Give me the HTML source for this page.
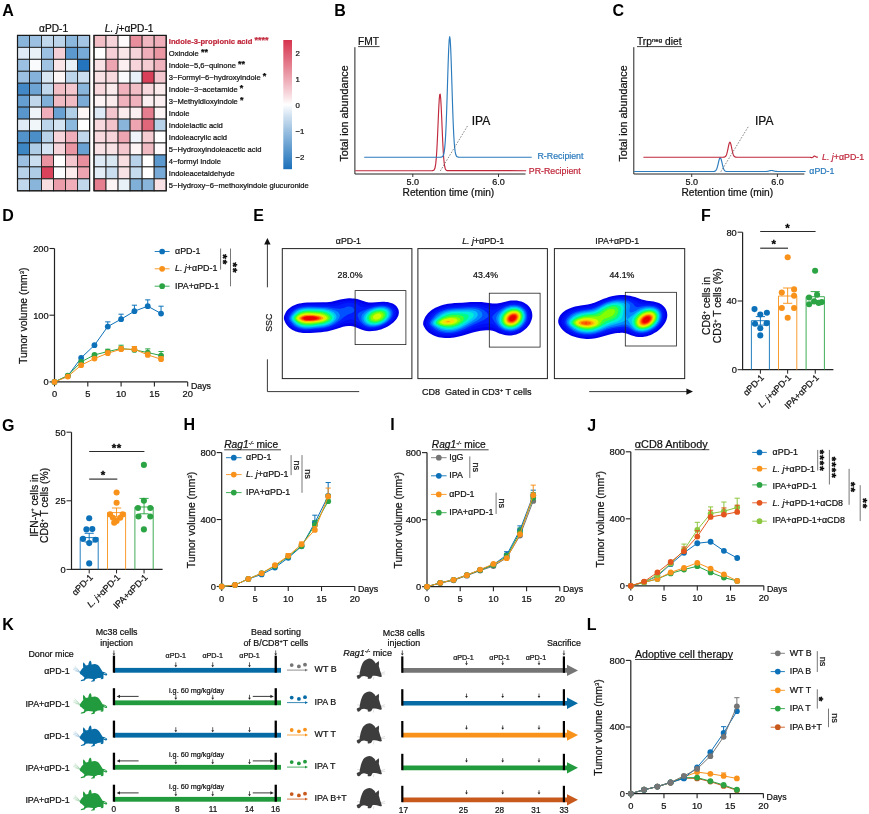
<!DOCTYPE html>
<html lang="en"><head><meta charset="utf-8"><title>Figure</title>
<style>
html,body{margin:0;padding:0;background:#fff;}
body{width:869px;height:814px;overflow:hidden;}
svg{display:block;font-family:"Liberation Sans", sans-serif;fill:#111111;will-change:transform;}
svg text{white-space:pre;}
</style></head><body>
<svg width="869" height="814" viewBox="0 0 869 814">
<rect width="869" height="814" fill="#fff"/>
<text x="2.30" y="16.00" font-size="16" fill="#000" font-weight="bold">A</text>
<g stroke="#1e1e1e" stroke-width="0.9">
<rect x="17.50" y="35.40" width="12.02" height="11.95" fill="#89b5db"/>
<rect x="29.52" y="35.40" width="12.02" height="11.95" fill="#9bc0e1"/>
<rect x="41.53" y="35.40" width="12.02" height="11.95" fill="#c1d8ec"/>
<rect x="53.55" y="35.40" width="12.02" height="11.95" fill="#bcd5eb"/>
<rect x="65.57" y="35.40" width="12.02" height="11.95" fill="#8db8dd"/>
<rect x="77.58" y="35.40" width="12.02" height="11.95" fill="#a4c6e4"/>
<rect x="17.50" y="47.35" width="12.02" height="11.95" fill="#deeaf5"/>
<rect x="29.52" y="47.35" width="12.02" height="11.95" fill="#e8f1f8"/>
<rect x="41.53" y="47.35" width="12.02" height="11.95" fill="#9bc0e1"/>
<rect x="53.55" y="47.35" width="12.02" height="11.95" fill="#f5d0d6"/>
<rect x="65.57" y="47.35" width="12.02" height="11.95" fill="#5c99ce"/>
<rect x="77.58" y="47.35" width="12.02" height="11.95" fill="#77aad6"/>
<rect x="17.50" y="59.31" width="12.02" height="11.95" fill="#9bc0e1"/>
<rect x="29.52" y="59.31" width="12.02" height="11.95" fill="#f9fbfd"/>
<rect x="41.53" y="59.31" width="12.02" height="11.95" fill="#a0c3e2"/>
<rect x="53.55" y="59.31" width="12.02" height="11.95" fill="#fae6e9"/>
<rect x="65.57" y="59.31" width="12.02" height="11.95" fill="#e8f1f8"/>
<rect x="77.58" y="59.31" width="12.02" height="11.95" fill="#2475bd"/>
<rect x="17.50" y="71.26" width="12.02" height="11.95" fill="#9bc0e1"/>
<rect x="29.52" y="71.26" width="12.02" height="11.95" fill="#84b2da"/>
<rect x="41.53" y="71.26" width="12.02" height="11.95" fill="#d9e7f3"/>
<rect x="53.55" y="71.26" width="12.02" height="11.95" fill="#fdf6f7"/>
<rect x="65.57" y="71.26" width="12.02" height="11.95" fill="#bcd5eb"/>
<rect x="77.58" y="71.26" width="12.02" height="11.95" fill="#cadeef"/>
<rect x="17.50" y="83.22" width="12.02" height="11.95" fill="#4288c6"/>
<rect x="29.52" y="83.22" width="12.02" height="11.95" fill="#6ea4d3"/>
<rect x="41.53" y="83.22" width="12.02" height="11.95" fill="#c1d8ec"/>
<rect x="53.55" y="83.22" width="12.02" height="11.95" fill="#f2bfc7"/>
<rect x="65.57" y="83.22" width="12.02" height="11.95" fill="#f4c7ce"/>
<rect x="77.58" y="83.22" width="12.02" height="11.95" fill="#89b5db"/>
<rect x="17.50" y="95.17" width="12.02" height="11.95" fill="#659ed0"/>
<rect x="29.52" y="95.17" width="12.02" height="11.95" fill="#c1d8ec"/>
<rect x="41.53" y="95.17" width="12.02" height="11.95" fill="#80afd8"/>
<rect x="53.55" y="95.17" width="12.02" height="11.95" fill="#f1bbc3"/>
<rect x="65.57" y="95.17" width="12.02" height="11.95" fill="#f1bbc3"/>
<rect x="77.58" y="95.17" width="12.02" height="11.95" fill="#7bacd7"/>
<rect x="17.50" y="107.12" width="12.02" height="11.95" fill="#5896cc"/>
<rect x="29.52" y="107.12" width="12.02" height="11.95" fill="#eef4fa"/>
<rect x="41.53" y="107.12" width="12.02" height="11.95" fill="#efaeb9"/>
<rect x="53.55" y="107.12" width="12.02" height="11.95" fill="#69a1d2"/>
<rect x="65.57" y="107.12" width="12.02" height="11.95" fill="#b2cfe8"/>
<rect x="77.58" y="107.12" width="12.02" height="11.95" fill="#fdf6f7"/>
<rect x="17.50" y="119.08" width="12.02" height="11.95" fill="#deeaf5"/>
<rect x="29.52" y="119.08" width="12.02" height="11.95" fill="#f1f6fb"/>
<rect x="41.53" y="119.08" width="12.02" height="11.95" fill="#bcd5eb"/>
<rect x="53.55" y="119.08" width="12.02" height="11.95" fill="#d4e4f2"/>
<rect x="65.57" y="119.08" width="12.02" height="11.95" fill="#8db8dd"/>
<rect x="77.58" y="119.08" width="12.02" height="11.95" fill="#ffffff"/>
<rect x="17.50" y="131.03" width="12.02" height="11.95" fill="#5393cb"/>
<rect x="29.52" y="131.03" width="12.02" height="11.95" fill="#4b8ec8"/>
<rect x="41.53" y="131.03" width="12.02" height="11.95" fill="#b7d2e9"/>
<rect x="53.55" y="131.03" width="12.02" height="11.95" fill="#f6d4da"/>
<rect x="65.57" y="131.03" width="12.02" height="11.95" fill="#efaeb9"/>
<rect x="77.58" y="131.03" width="12.02" height="11.95" fill="#c1d8ec"/>
<rect x="17.50" y="142.98" width="12.02" height="11.95" fill="#3d86c4"/>
<rect x="29.52" y="142.98" width="12.02" height="11.95" fill="#aecce6"/>
<rect x="41.53" y="142.98" width="12.02" height="11.95" fill="#d4e4f2"/>
<rect x="53.55" y="142.98" width="12.02" height="11.95" fill="#f6d4da"/>
<rect x="65.57" y="142.98" width="12.02" height="11.95" fill="#ea96a3"/>
<rect x="77.58" y="142.98" width="12.02" height="11.95" fill="#69a1d2"/>
<rect x="17.50" y="154.94" width="12.02" height="11.95" fill="#9bc0e1"/>
<rect x="29.52" y="154.94" width="12.02" height="11.95" fill="#cadeef"/>
<rect x="41.53" y="154.94" width="12.02" height="11.95" fill="#e992a0"/>
<rect x="53.55" y="154.94" width="12.02" height="11.95" fill="#ffffff"/>
<rect x="65.57" y="154.94" width="12.02" height="11.95" fill="#f4c7ce"/>
<rect x="77.58" y="154.94" width="12.02" height="11.95" fill="#e88e9c"/>
<rect x="17.50" y="166.89" width="12.02" height="11.95" fill="#b7d2e9"/>
<rect x="29.52" y="166.89" width="12.02" height="11.95" fill="#aecce6"/>
<rect x="41.53" y="166.89" width="12.02" height="11.95" fill="#d9435b"/>
<rect x="53.55" y="166.89" width="12.02" height="11.95" fill="#f9fbfd"/>
<rect x="65.57" y="166.89" width="12.02" height="11.95" fill="#fbebed"/>
<rect x="77.58" y="166.89" width="12.02" height="11.95" fill="#eda6b1"/>
<rect x="17.50" y="178.85" width="12.02" height="11.95" fill="#c1d8ec"/>
<rect x="29.52" y="178.85" width="12.02" height="11.95" fill="#89b5db"/>
<rect x="41.53" y="178.85" width="12.02" height="11.95" fill="#f8dde1"/>
<rect x="53.55" y="178.85" width="12.02" height="11.95" fill="#eb9eaa"/>
<rect x="65.57" y="178.85" width="12.02" height="11.95" fill="#efaeb9"/>
<rect x="77.58" y="178.85" width="12.02" height="11.95" fill="#c1d8ec"/>
</g>
<rect x="17.50" y="35.40" width="72.10" height="155.40" fill="none" stroke="#1a1a1a" stroke-width="1.2" />
<g stroke="#1e1e1e" stroke-width="0.9">
<rect x="94.00" y="35.40" width="12.03" height="11.95" fill="#f2bfc7"/>
<rect x="106.03" y="35.40" width="12.03" height="11.95" fill="#f6d4da"/>
<rect x="118.07" y="35.40" width="12.03" height="11.95" fill="#fef9fa"/>
<rect x="130.10" y="35.40" width="12.03" height="11.95" fill="#e88e9c"/>
<rect x="142.13" y="35.40" width="12.03" height="11.95" fill="#f0b7c0"/>
<rect x="154.17" y="35.40" width="12.03" height="11.95" fill="#efaeb9"/>
<rect x="94.00" y="47.35" width="12.03" height="11.95" fill="#ffffff"/>
<rect x="106.03" y="47.35" width="12.03" height="11.95" fill="#f5d0d6"/>
<rect x="118.07" y="47.35" width="12.03" height="11.95" fill="#fae6e9"/>
<rect x="130.10" y="47.35" width="12.03" height="11.95" fill="#f6d4da"/>
<rect x="142.13" y="47.35" width="12.03" height="11.95" fill="#efaeb9"/>
<rect x="154.17" y="47.35" width="12.03" height="11.95" fill="#ea96a3"/>
<rect x="94.00" y="59.31" width="12.03" height="11.95" fill="#f9e2e5"/>
<rect x="106.03" y="59.31" width="12.03" height="11.95" fill="#eda6b1"/>
<rect x="118.07" y="59.31" width="12.03" height="11.95" fill="#fceff1"/>
<rect x="130.10" y="59.31" width="12.03" height="11.95" fill="#f6d4da"/>
<rect x="142.13" y="59.31" width="12.03" height="11.95" fill="#f5ccd2"/>
<rect x="154.17" y="59.31" width="12.03" height="11.95" fill="#f0b2bc"/>
<rect x="94.00" y="71.26" width="12.03" height="11.95" fill="#f9e2e5"/>
<rect x="106.03" y="71.26" width="12.03" height="11.95" fill="#f7d9de"/>
<rect x="118.07" y="71.26" width="12.03" height="11.95" fill="#f9fbfd"/>
<rect x="130.10" y="71.26" width="12.03" height="11.95" fill="#e8f1f8"/>
<rect x="142.13" y="71.26" width="12.03" height="11.95" fill="#d83f58"/>
<rect x="154.17" y="71.26" width="12.03" height="11.95" fill="#f4c7ce"/>
<rect x="94.00" y="83.22" width="12.03" height="11.95" fill="#f7d9de"/>
<rect x="106.03" y="83.22" width="12.03" height="11.95" fill="#fbebed"/>
<rect x="118.07" y="83.22" width="12.03" height="11.95" fill="#f0b2bc"/>
<rect x="130.10" y="83.22" width="12.03" height="11.95" fill="#f2bfc7"/>
<rect x="142.13" y="83.22" width="12.03" height="11.95" fill="#f7d9de"/>
<rect x="154.17" y="83.22" width="12.03" height="11.95" fill="#fbebed"/>
<rect x="94.00" y="95.17" width="12.03" height="11.95" fill="#fdf4f6"/>
<rect x="106.03" y="95.17" width="12.03" height="11.95" fill="#fbebed"/>
<rect x="118.07" y="95.17" width="12.03" height="11.95" fill="#f0b2bc"/>
<rect x="130.10" y="95.17" width="12.03" height="11.95" fill="#f0b2bc"/>
<rect x="142.13" y="95.17" width="12.03" height="11.95" fill="#fceff1"/>
<rect x="154.17" y="95.17" width="12.03" height="11.95" fill="#fceff1"/>
<rect x="94.00" y="107.12" width="12.03" height="11.95" fill="#deeaf5"/>
<rect x="106.03" y="107.12" width="12.03" height="11.95" fill="#f4c7ce"/>
<rect x="118.07" y="107.12" width="12.03" height="11.95" fill="#fbebed"/>
<rect x="130.10" y="107.12" width="12.03" height="11.95" fill="#fceff1"/>
<rect x="142.13" y="107.12" width="12.03" height="11.95" fill="#e57e8e"/>
<rect x="154.17" y="107.12" width="12.03" height="11.95" fill="#fdf4f6"/>
<rect x="94.00" y="119.08" width="12.03" height="11.95" fill="#f7d9de"/>
<rect x="106.03" y="119.08" width="12.03" height="11.95" fill="#f3c3cb"/>
<rect x="118.07" y="119.08" width="12.03" height="11.95" fill="#89b5db"/>
<rect x="130.10" y="119.08" width="12.03" height="11.95" fill="#eda6b1"/>
<rect x="142.13" y="119.08" width="12.03" height="11.95" fill="#e0667a"/>
<rect x="154.17" y="119.08" width="12.03" height="11.95" fill="#b7d2e9"/>
<rect x="94.00" y="131.03" width="12.03" height="11.95" fill="#f7d9de"/>
<rect x="106.03" y="131.03" width="12.03" height="11.95" fill="#f6d4da"/>
<rect x="118.07" y="131.03" width="12.03" height="11.95" fill="#eda6b1"/>
<rect x="130.10" y="131.03" width="12.03" height="11.95" fill="#eef4fa"/>
<rect x="142.13" y="131.03" width="12.03" height="11.95" fill="#f5ccd2"/>
<rect x="154.17" y="131.03" width="12.03" height="11.95" fill="#ffffff"/>
<rect x="94.00" y="142.98" width="12.03" height="11.95" fill="#f9e2e5"/>
<rect x="106.03" y="142.98" width="12.03" height="11.95" fill="#f9e2e5"/>
<rect x="118.07" y="142.98" width="12.03" height="11.95" fill="#f4c7ce"/>
<rect x="130.10" y="142.98" width="12.03" height="11.95" fill="#fdf4f6"/>
<rect x="142.13" y="142.98" width="12.03" height="11.95" fill="#f1bbc3"/>
<rect x="154.17" y="142.98" width="12.03" height="11.95" fill="#fef9fa"/>
<rect x="94.00" y="154.94" width="12.03" height="11.95" fill="#deeaf5"/>
<rect x="106.03" y="154.94" width="12.03" height="11.95" fill="#d9e7f3"/>
<rect x="118.07" y="154.94" width="12.03" height="11.95" fill="#f8dde1"/>
<rect x="130.10" y="154.94" width="12.03" height="11.95" fill="#b7d2e9"/>
<rect x="142.13" y="154.94" width="12.03" height="11.95" fill="#ffffff"/>
<rect x="154.17" y="154.94" width="12.03" height="11.95" fill="#5c99ce"/>
<rect x="94.00" y="166.89" width="12.03" height="11.95" fill="#e3edf7"/>
<rect x="106.03" y="166.89" width="12.03" height="11.95" fill="#cadeef"/>
<rect x="118.07" y="166.89" width="12.03" height="11.95" fill="#f9e2e5"/>
<rect x="130.10" y="166.89" width="12.03" height="11.95" fill="#c5dbee"/>
<rect x="142.13" y="166.89" width="12.03" height="11.95" fill="#ffffff"/>
<rect x="154.17" y="166.89" width="12.03" height="11.95" fill="#77aad6"/>
<rect x="94.00" y="178.85" width="12.03" height="11.95" fill="#e57e8e"/>
<rect x="106.03" y="178.85" width="12.03" height="11.95" fill="#fdf4f6"/>
<rect x="118.07" y="178.85" width="12.03" height="11.95" fill="#e8f1f8"/>
<rect x="130.10" y="178.85" width="12.03" height="11.95" fill="#80afd8"/>
<rect x="142.13" y="178.85" width="12.03" height="11.95" fill="#89b5db"/>
<rect x="154.17" y="178.85" width="12.03" height="11.95" fill="#f9e2e5"/>
</g>
<rect x="94.00" y="35.40" width="72.20" height="155.40" fill="none" stroke="#1a1a1a" stroke-width="1.2" />
<text x="53.60" y="32.00" font-size="10.2" text-anchor="middle" stroke="#111111" stroke-width="0.22">αPD-1</text>
<text x="129.20" y="32.00" font-size="10.2" text-anchor="middle" stroke="#111111" stroke-width="0.22"><tspan font-style="italic">L. j</tspan>+αPD-1</text>
<text x="168.80" y="44.08" font-size="7.6" fill="#c0283c" font-weight="bold" stroke="#c0283c" stroke-width="0.22">Indole-3-propionic acid <tspan dy="-1.0" font-size="9">****</tspan></text>
<text x="168.80" y="56.03" font-size="7.6" stroke="#111111" stroke-width="0.22">Oxindole <tspan dy="-1.0" font-size="9" font-weight="bold" fill="#000">**</tspan></text>
<text x="168.80" y="67.98" font-size="7.6" stroke="#111111" stroke-width="0.22">Indole−5,6−quinone <tspan dy="-1.0" font-size="9" font-weight="bold" fill="#000">**</tspan></text>
<text x="168.80" y="79.94" font-size="7.6" stroke="#111111" stroke-width="0.22">3−Formyl−6−hydroxyindole <tspan dy="-1.0" font-size="9" font-weight="bold" fill="#000">*</tspan></text>
<text x="168.80" y="91.89" font-size="7.6" stroke="#111111" stroke-width="0.22">Indole−3−acetamide <tspan dy="-1.0" font-size="9" font-weight="bold" fill="#000">*</tspan></text>
<text x="168.80" y="103.85" font-size="7.6" stroke="#111111" stroke-width="0.22">3−Methyldioxyindole <tspan dy="-1.0" font-size="9" font-weight="bold" fill="#000">*</tspan></text>
<text x="168.80" y="115.80" font-size="7.6" stroke="#111111" stroke-width="0.22">Indole</text>
<text x="168.80" y="127.75" font-size="7.6" stroke="#111111" stroke-width="0.22">Indolelactic acid</text>
<text x="168.80" y="139.71" font-size="7.6" stroke="#111111" stroke-width="0.22">Indoleacrylic acid</text>
<text x="168.80" y="151.66" font-size="7.6" stroke="#111111" stroke-width="0.22">5−Hydroxyindoleacetic acid</text>
<text x="168.80" y="163.62" font-size="7.6" stroke="#111111" stroke-width="0.22">4−formyl Indole</text>
<text x="168.80" y="175.57" font-size="7.6" stroke="#111111" stroke-width="0.22">Indoleacetaldehyde</text>
<text x="168.80" y="187.52" font-size="7.6" stroke="#111111" stroke-width="0.22">5−Hydroxy−6−methoxyindole glucuronide</text>
<defs><linearGradient id="cb" x1="0" y1="0" x2="0" y2="1">
<stop offset="0.000" stop-color="#d6344e"/>
<stop offset="0.050" stop-color="#da475e"/>
<stop offset="0.100" stop-color="#de5a6f"/>
<stop offset="0.150" stop-color="#e16d80"/>
<stop offset="0.200" stop-color="#e58090"/>
<stop offset="0.250" stop-color="#e994a1"/>
<stop offset="0.300" stop-color="#eda8b3"/>
<stop offset="0.350" stop-color="#f1bcc5"/>
<stop offset="0.400" stop-color="#f6d1d7"/>
<stop offset="0.450" stop-color="#fae7ea"/>
<stop offset="0.500" stop-color="#ffffff"/>
<stop offset="0.550" stop-color="#e4eef7"/>
<stop offset="0.600" stop-color="#cbdeef"/>
<stop offset="0.650" stop-color="#b4d0e8"/>
<stop offset="0.700" stop-color="#9dc1e1"/>
<stop offset="0.750" stop-color="#86b3db"/>
<stop offset="0.800" stop-color="#70a6d4"/>
<stop offset="0.850" stop-color="#5b98cd"/>
<stop offset="0.900" stop-color="#458bc7"/>
<stop offset="0.950" stop-color="#307dc0"/>
<stop offset="1.000" stop-color="#1b70ba"/>
</linearGradient></defs>
<rect x="283.30" y="40.00" width="8.70" height="129.20" fill="url(#cb)" />
<text x="295.50" y="55.60" font-size="7.8" stroke="#111111" stroke-width="0.22">2</text>
<text x="295.50" y="81.80" font-size="7.8" stroke="#111111" stroke-width="0.22">1</text>
<text x="295.50" y="108.00" font-size="7.8" stroke="#111111" stroke-width="0.22">0</text>
<text x="295.50" y="134.20" font-size="7.8" stroke="#111111" stroke-width="0.22">−1</text>
<text x="295.50" y="160.40" font-size="7.8" stroke="#111111" stroke-width="0.22">−2</text>
<text x="334.30" y="16.00" font-size="16" fill="#000" font-weight="bold">B</text>
<path d="M354.90,47.2 V174 H525.50" fill="none" stroke="#222222" stroke-width="1"/>
<line x1="412.80" y1="174.00" x2="412.80" y2="177.00" stroke="#222222" stroke-width="0.9" />
<text x="412.80" y="184.60" font-size="9" text-anchor="middle" stroke="#111111" stroke-width="0.22">5.0</text>
<line x1="498.50" y1="174.00" x2="498.50" y2="177.00" stroke="#222222" stroke-width="0.9" />
<text x="498.50" y="184.60" font-size="9" text-anchor="middle" stroke="#111111" stroke-width="0.22">6.0</text>
<text x="448.40" y="196.20" font-size="10.2" text-anchor="middle" stroke="#111111" stroke-width="0.22">Retention time (min)</text>
<text x="347.90" y="113.40" font-size="10.75" text-anchor="middle" transform="rotate(-90 347.90 113.40)" stroke="#111111" stroke-width="0.22">Total ion abundance</text>
<text x="358.10" y="45.00" font-size="10.2" stroke="#111111" stroke-width="0.22">FMT</text>
<line x1="358.10" y1="46.60" x2="379.60" y2="46.60" stroke="#111111" stroke-width="0.8" />
<path d="M355.20,170.70 L432.20,170.67 L432.70,170.63 L433.20,170.52 L433.70,170.28 L434.20,169.78 L434.70,168.78 L435.20,166.98 L435.70,163.93 L436.20,159.17 L436.70,152.31 L437.20,143.24 L437.70,132.29 L438.20,120.41 L438.70,109.04 L439.20,99.91 L439.70,94.61 L440.20,94.10 L440.70,98.50 L441.20,106.98 L441.70,118.04 L442.20,129.95 L442.70,141.18 L443.20,150.67 L443.70,157.97 L444.20,163.13 L444.70,166.48 L445.20,168.50 L445.70,169.63 L446.20,170.21 L446.70,170.49 L447.20,170.62 L447.70,170.67 L448.20,170.69 L526.20,170.70" fill="none" stroke="#c0283c" stroke-width="1.15" stroke-linejoin="round"/>
<path d="M364.20,157.20 L440.70,157.17 L441.20,157.13 L441.70,157.04 L442.20,156.84 L442.70,156.44 L443.20,155.67 L443.70,154.28 L444.20,151.91 L444.70,148.09 L445.20,142.32 L445.70,134.12 L446.20,123.21 L446.70,109.64 L447.20,94.02 L447.70,77.49 L448.20,61.69 L448.70,48.53 L449.20,39.77 L449.70,36.70 L450.20,39.77 L450.70,48.53 L451.20,61.69 L451.70,77.49 L452.20,94.02 L452.70,109.64 L453.20,123.21 L453.70,134.12 L454.20,142.32 L454.70,148.09 L455.20,151.91 L455.70,154.28 L456.20,155.67 L456.70,156.44 L457.20,156.84 L457.70,157.04 L458.20,157.13 L458.70,157.17 L459.70,157.20 L531.70,157.20" fill="none" stroke="#2b7bbd" stroke-width="1.15" stroke-linejoin="round"/>
<text x="471.70" y="124.80" font-size="12" stroke="#111111" stroke-width="0.22">IPA</text>
<line x1="440.30" y1="171.00" x2="467.60" y2="125.80" stroke="#555" stroke-width="0.7" stroke-dasharray="1.6 1.4"/>
<text x="537.50" y="159.40" font-size="8.8" fill="#2b7bbd" stroke="#2b7bbd" stroke-width="0.22">R-Recipient</text>
<text x="528.80" y="173.90" font-size="8.8" fill="#c0283c" stroke="#c0283c" stroke-width="0.22">PR-Recipient</text>
<text x="612.60" y="16.00" font-size="16" fill="#000" font-weight="bold">C</text>
<path d="M633.80,47.2 V174 H804.40" fill="none" stroke="#222222" stroke-width="1"/>
<line x1="691.70" y1="174.00" x2="691.70" y2="177.00" stroke="#222222" stroke-width="0.9" />
<text x="691.70" y="184.60" font-size="9" text-anchor="middle" stroke="#111111" stroke-width="0.22">5.0</text>
<line x1="777.40" y1="174.00" x2="777.40" y2="177.00" stroke="#222222" stroke-width="0.9" />
<text x="777.40" y="184.60" font-size="9" text-anchor="middle" stroke="#111111" stroke-width="0.22">6.0</text>
<text x="727.30" y="196.20" font-size="10.2" text-anchor="middle" stroke="#111111" stroke-width="0.22">Retention time (min)</text>
<text x="626.80" y="113.40" font-size="10.75" text-anchor="middle" transform="rotate(-90 626.80 113.40)" stroke="#111111" stroke-width="0.22">Total ion abundance</text>
<text x="637.00" y="45.00" font-size="10.2" stroke="#111111" stroke-width="0.22">Trp<tspan dy="-3.2" font-size="6.2">neg</tspan><tspan dy="3.2"> diet</tspan></text>
<line x1="637.00" y1="46.60" x2="682.00" y2="46.60" stroke="#111111" stroke-width="0.8" />
<path d="M634.10,171.50 L713.10,171.49 L713.60,171.47 L714.10,171.42 L714.60,171.32 L715.10,171.12 L715.60,170.76 L716.10,170.15 L716.60,169.21 L717.10,167.85 L717.60,166.09 L718.10,164.01 L718.60,161.82 L719.10,159.83 L719.60,158.37 L720.10,157.72 L720.60,158.00 L721.10,159.16 L721.60,160.98 L722.10,163.13 L722.60,165.29 L723.10,167.19 L723.60,168.72 L724.10,169.82 L724.60,170.56 L725.10,171.00 L725.60,171.26 L726.10,171.39 L726.60,171.45 L727.10,171.48 L765.60,171.47 L766.10,171.45 L766.60,171.42 L767.10,171.36 L767.60,171.29 L768.10,171.20 L768.60,171.08 L769.10,170.95 L769.60,170.81 L770.10,170.68 L770.60,170.58 L771.10,170.52 L771.60,170.50 L772.10,170.54 L772.60,170.62 L773.10,170.73 L773.60,170.87 L774.10,171.00 L774.60,171.13 L775.10,171.24 L775.60,171.32 L776.10,171.39 L776.60,171.43 L777.10,171.46 L778.10,171.49 L805.60,171.50" fill="none" stroke="#2b7bbd" stroke-width="1.15" stroke-linejoin="round"/>
<path d="M643.40,157.20 L723.40,157.18 L723.90,157.14 L724.40,157.06 L724.90,156.88 L725.40,156.54 L725.90,155.93 L726.40,154.93 L726.90,153.46 L727.40,151.48 L727.90,149.11 L728.40,146.60 L728.90,144.35 L729.40,142.77 L729.90,142.20 L730.40,142.77 L730.90,144.35 L731.40,146.60 L731.90,149.11 L732.40,151.48 L732.90,153.46 L733.40,154.93 L733.90,155.93 L734.40,156.54 L734.90,156.88 L735.40,157.06 L735.90,157.14 L736.40,157.18 L737.90,157.20 L809.40,157.21 L809.90,157.25 L810.40,157.35 L810.90,157.50 L811.40,157.65 L811.90,157.68 L812.40,157.52 L812.90,157.19 L813.40,156.73 L813.90,156.27 L814.40,156.02 L814.90,156.11 L815.40,156.47 L815.90,156.84 L816.40,157.07 L816.90,157.17 L817.40,157.19 L817.90,157.20" fill="none" stroke="#c0283c" stroke-width="1.15" stroke-linejoin="round"/>
<text x="755.00" y="124.80" font-size="12" stroke="#111111" stroke-width="0.22">IPA</text>
<line x1="720.80" y1="171.80" x2="748.80" y2="125.80" stroke="#555" stroke-width="0.7" stroke-dasharray="1.6 1.4"/>
<text x="822.10" y="159.90" font-size="8.8" fill="#c0283c" stroke="#c0283c" stroke-width="0.22"><tspan font-style="italic">L. j</tspan>+αPD-1</text>
<text x="809.30" y="174.00" font-size="8.8" fill="#2b7bbd" stroke="#2b7bbd" stroke-width="0.22">αPD-1</text>
<text x="2.30" y="221.00" font-size="16" fill="#000" font-weight="bold">D</text>
<path d="M54.50,248.50 V381.90 H187.70" fill="none" stroke="#222222" stroke-width="1.2"/>
<line x1="49.50" y1="381.90" x2="54.50" y2="381.90" stroke="#222222" stroke-width="1.1" />
<text x="48.70" y="385.20" font-size="9.3" text-anchor="end" stroke="#111111" stroke-width="0.22">0</text>
<line x1="49.50" y1="315.20" x2="54.50" y2="315.20" stroke="#222222" stroke-width="1.1" />
<text x="48.70" y="318.50" font-size="9.3" text-anchor="end" stroke="#111111" stroke-width="0.22">100</text>
<line x1="49.50" y1="248.50" x2="54.50" y2="248.50" stroke="#222222" stroke-width="1.1" />
<text x="48.70" y="251.80" font-size="9.3" text-anchor="end" stroke="#111111" stroke-width="0.22">200</text>
<line x1="54.50" y1="381.90" x2="54.50" y2="386.50" stroke="#222222" stroke-width="1.1" />
<text x="54.50" y="396.90" font-size="9.3" text-anchor="middle" stroke="#111111" stroke-width="0.22">0</text>
<line x1="87.80" y1="381.90" x2="87.80" y2="386.50" stroke="#222222" stroke-width="1.1" />
<text x="87.80" y="396.90" font-size="9.3" text-anchor="middle" stroke="#111111" stroke-width="0.22">5</text>
<line x1="121.10" y1="381.90" x2="121.10" y2="386.50" stroke="#222222" stroke-width="1.1" />
<text x="121.10" y="396.90" font-size="9.3" text-anchor="middle" stroke="#111111" stroke-width="0.22">10</text>
<line x1="154.40" y1="381.90" x2="154.40" y2="386.50" stroke="#222222" stroke-width="1.1" />
<text x="154.40" y="396.90" font-size="9.3" text-anchor="middle" stroke="#111111" stroke-width="0.22">15</text>
<line x1="187.70" y1="381.90" x2="187.70" y2="386.50" stroke="#222222" stroke-width="1.1" />
<text x="187.70" y="396.90" font-size="9.3" text-anchor="middle" stroke="#111111" stroke-width="0.22">20</text>
<text x="190.90" y="389.30" font-size="8.8" stroke="#111111" stroke-width="0.22">Days</text>
<text x="27.50" y="315.70" font-size="10.4" text-anchor="middle" transform="rotate(-90 27.50 315.70)" stroke="#111111" stroke-width="0.22">Tumor volume (mm<tspan dy="-3.4" font-size="6">3</tspan><tspan dy="3.4">)</tspan></text>
<g stroke="#0c71b9" stroke-width="1.0" fill="none">
<polyline points="54.50,381.90 67.82,375.90 81.14,357.89 94.46,345.21 107.78,326.54 121.10,319.20 134.42,311.20 147.74,306.20 161.06,313.53"/>
<path d="M107.78,326.54 V321.87 M105.18,321.87 h5.2"/>
<path d="M121.10,319.20 V314.20 M118.50,314.20 h5.2"/>
<path d="M134.42,311.20 V305.19 M131.82,305.19 h5.2"/>
<path d="M147.74,306.20 V299.86 M145.14,299.86 h5.2"/>
<path d="M161.06,313.53 V306.20 M158.46,306.20 h5.2"/>
</g>
<g fill="#0c71b9">
<circle cx="54.50" cy="381.90" r="2.9"/>
<circle cx="67.82" cy="375.90" r="2.9"/>
<circle cx="81.14" cy="357.89" r="2.9"/>
<circle cx="94.46" cy="345.21" r="2.9"/>
<circle cx="107.78" cy="326.54" r="2.9"/>
<circle cx="121.10" cy="319.20" r="2.9"/>
<circle cx="134.42" cy="311.20" r="2.9"/>
<circle cx="147.74" cy="306.20" r="2.9"/>
<circle cx="161.06" cy="313.53" r="2.9"/>
</g>
<g stroke="#2ca444" stroke-width="1.0" fill="none">
<polyline points="54.50,381.90 67.82,375.56 81.14,361.89 94.46,354.89 107.78,351.55 121.10,348.55 134.42,349.88 147.74,352.55 161.06,355.55"/>
<path d="M107.78,351.55 V349.22 M105.18,349.22 h5.2"/>
<path d="M121.10,348.55 V345.21 M118.50,345.21 h5.2"/>
<path d="M134.42,349.88 V346.55 M131.82,346.55 h5.2"/>
<path d="M147.74,352.55 V348.88 M145.14,348.88 h5.2"/>
<path d="M161.06,355.55 V351.55 M158.46,351.55 h5.2"/>
</g>
<g fill="#2ca444">
<circle cx="54.50" cy="381.90" r="2.9"/>
<circle cx="67.82" cy="375.56" r="2.9"/>
<circle cx="81.14" cy="361.89" r="2.9"/>
<circle cx="94.46" cy="354.89" r="2.9"/>
<circle cx="107.78" cy="351.55" r="2.9"/>
<circle cx="121.10" cy="348.55" r="2.9"/>
<circle cx="134.42" cy="349.88" r="2.9"/>
<circle cx="147.74" cy="352.55" r="2.9"/>
<circle cx="161.06" cy="355.55" r="2.9"/>
</g>
<g stroke="#f8921a" stroke-width="1.0" fill="none">
<polyline points="54.50,381.90 67.82,376.56 81.14,365.22 94.46,358.55 107.78,353.22 121.10,349.22 134.42,349.22 147.74,354.89 161.06,359.22"/>
<path d="M107.78,353.22 V350.88 M105.18,350.88 h5.2"/>
<path d="M121.10,349.22 V346.55 M118.50,346.55 h5.2"/>
<path d="M134.42,349.22 V346.55 M131.82,346.55 h5.2"/>
<path d="M147.74,354.89 V352.22 M145.14,352.22 h5.2"/>
<path d="M161.06,359.22 V356.55 M158.46,356.55 h5.2"/>
</g>
<g fill="#f8921a">
<circle cx="54.50" cy="381.90" r="2.9"/>
<circle cx="67.82" cy="376.56" r="2.9"/>
<circle cx="81.14" cy="365.22" r="2.9"/>
<circle cx="94.46" cy="358.55" r="2.9"/>
<circle cx="107.78" cy="353.22" r="2.9"/>
<circle cx="121.10" cy="349.22" r="2.9"/>
<circle cx="134.42" cy="349.22" r="2.9"/>
<circle cx="147.74" cy="354.89" r="2.9"/>
<circle cx="161.06" cy="359.22" r="2.9"/>
</g>
<line x1="154.70" y1="251.50" x2="169.60" y2="251.50" stroke="#0c71b9" stroke-width="0.9" />
<circle cx="162.15" cy="251.50" r="2.85" fill="#0c71b9" />
<text x="175.00" y="254.10" font-size="8.9" stroke="#111111" stroke-width="0.22">αPD-1</text>
<line x1="154.70" y1="268.80" x2="169.60" y2="268.80" stroke="#f8921a" stroke-width="0.9" />
<circle cx="162.15" cy="268.80" r="2.85" fill="#f8921a" />
<text x="175.00" y="271.40" font-size="8.9" stroke="#111111" stroke-width="0.22"><tspan font-style="italic">L. j</tspan>+αPD-1</text>
<line x1="154.70" y1="286.20" x2="169.60" y2="286.20" stroke="#2ca444" stroke-width="0.9" />
<circle cx="162.15" cy="286.20" r="2.85" fill="#2ca444" />
<text x="175.00" y="288.80" font-size="8.9" stroke="#111111" stroke-width="0.22">IPA+αPD-1</text>
<line x1="220.60" y1="248.50" x2="220.60" y2="269.60" stroke="#555" stroke-width="0.8" />
<text x="218.92" y="259.65" font-size="11.5" text-anchor="middle" fill="#000" font-weight="bold" transform="rotate(90 218.92 259.65)" stroke="#000" stroke-width="0.45" letter-spacing="1.0">**</text>
<line x1="230.50" y1="248.50" x2="230.50" y2="286.30" stroke="#555" stroke-width="0.8" />
<text x="228.82" y="268.00" font-size="11.5" text-anchor="middle" fill="#000" font-weight="bold" transform="rotate(90 228.82 268.00)" stroke="#000" stroke-width="0.45" letter-spacing="1.0">**</text>
<text x="253.30" y="221.00" font-size="16" fill="#000" font-weight="bold">E</text>
<g stroke="none">
<path d="M310.3,333.0 L306.3,333.1 L303.0,333.0 L300.0,332.6 L298.3,332.2 L297.0,331.8 L295.7,331.4 L294.3,330.8 L293.0,330.2 L291.7,329.4 L290.3,328.5 L289.3,327.7 L288.5,327.0 L287.6,326.0 L286.8,325.0 L286.1,324.0 L285.5,323.0 L284.7,321.3 L284.3,320.3 L284.0,319.3 L283.9,318.7 L283.9,317.7 L284.0,316.7 L284.4,315.3 L285.1,313.7 L285.8,312.3 L286.4,311.3 L287.2,310.3 L288.1,309.3 L289.0,308.5 L290.0,307.7 L291.3,306.8 L293.0,305.8 L294.3,305.2 L296.0,304.5 L297.3,304.1 L299.3,303.6 L301.3,303.2 L304.0,302.8 L307.3,302.6 L323.3,302.3 L326.7,302.2 L329.0,302.0 L331.3,301.7 L333.2,301.3 L340.3,299.5 L343.3,298.9 L346.7,298.4 L348.7,298.3 L350.3,298.3 L352.3,298.4 L354.0,298.5 L355.7,298.8 L357.3,299.1 L360.3,299.9 L366.3,302.0 L367.7,302.3 L369.0,302.5 L370.7,302.6 L372.3,302.5 L379.3,301.9 L382.7,301.7 L384.3,301.7 L386.0,301.9 L387.7,302.1 L389.3,302.4 L391.0,302.9 L392.7,303.6 L394.0,304.3 L395.4,305.3 L396.5,306.3 L397.5,307.7 L398.0,308.7 L398.6,310.0 L398.8,311.3 L398.9,312.7 L398.7,314.0 L398.3,315.7 L397.5,317.3 L396.7,318.7 L395.7,320.0 L394.5,321.3 L393.1,322.7 L391.3,324.1 L389.7,325.3 L387.7,326.5 L385.7,327.5 L383.3,328.6 L381.0,329.4 L378.7,330.1 L377.0,330.5 L375.3,330.8 L372.3,331.1 L369.3,331.2 L366.7,330.9 L364.3,330.5 L362.0,329.8 L360.0,329.1 L355.7,327.2 L353.7,326.6 L352.3,326.3 L351.0,326.1 L349.7,326.0 L348.3,326.0 L345.7,326.3 L343.0,326.8 L340.1,327.7 L335.3,329.3 L332.7,330.1 L330.0,330.8 L327.0,331.4 L324.3,331.8 L321.3,332.2 L310.3,333.0Z" fill="#0000eb"/>
<path d="M313.0,331.4 L309.0,331.6 L305.7,331.6 L303.0,331.5 L300.3,331.1 L297.7,330.4 L295.3,329.5 L294.0,328.9 L293.0,328.3 L292.0,327.6 L291.0,326.8 L290.1,326.0 L289.2,325.0 L288.4,324.0 L287.8,323.0 L286.5,320.7 L286.1,319.7 L285.9,318.7 L285.9,318.0 L286.0,317.0 L286.6,315.3 L287.2,314.0 L287.8,313.0 L288.4,312.0 L289.2,311.0 L290.3,309.8 L291.7,308.7 L293.0,307.8 L294.3,307.1 L295.7,306.5 L297.7,305.7 L299.3,305.2 L301.3,304.8 L304.3,304.4 L308.3,304.2 L320.0,304.1 L328.0,304.1 L331.7,304.0 L333.7,303.7 L335.6,303.3 L341.3,301.7 L344.0,301.0 L347.0,300.6 L349.7,300.4 L351.3,300.5 L353.0,300.6 L354.7,300.9 L356.3,301.3 L359.0,302.1 L364.0,304.2 L365.3,304.6 L366.7,304.8 L368.3,304.9 L370.0,304.7 L377.7,303.6 L381.0,303.3 L383.0,303.3 L384.7,303.4 L386.3,303.6 L387.7,303.8 L389.3,304.3 L390.7,304.8 L392.0,305.5 L393.2,306.3 L394.3,307.3 L395.1,308.3 L395.7,309.3 L396.2,310.7 L396.4,312.0 L396.4,313.3 L396.2,314.7 L395.7,316.0 L395.1,317.3 L394.3,318.7 L393.3,320.0 L392.0,321.3 L390.5,322.7 L389.0,323.8 L387.3,324.9 L385.7,325.9 L383.7,326.9 L382.0,327.6 L380.0,328.3 L378.0,328.8 L375.0,329.4 L372.3,329.6 L370.7,329.7 L369.3,329.6 L368.0,329.4 L366.7,329.2 L364.3,328.6 L362.0,327.7 L360.0,326.7 L356.3,324.6 L355.3,324.1 L354.3,323.7 L353.3,323.4 L352.0,323.1 L350.7,323.0 L349.3,323.0 L348.0,323.1 L346.7,323.3 L345.0,323.6 L343.7,324.0 L341.0,324.9 L335.7,327.2 L333.3,328.1 L331.0,328.8 L328.3,329.5 L325.3,330.1 L322.7,330.5 L319.3,330.8 L313.0,331.4Z" fill="#000ef5"/>
<path d="M310.0,330.3 L306.7,330.4 L304.0,330.3 L301.7,330.1 L299.0,329.5 L297.7,329.0 L296.3,328.5 L294.3,327.5 L292.7,326.3 L291.9,325.7 L291.0,324.8 L289.6,323.0 L288.8,321.7 L288.2,320.7 L287.7,319.3 L287.6,318.7 L287.5,318.0 L287.6,317.3 L287.9,316.3 L288.9,314.3 L289.5,313.3 L290.2,312.3 L291.0,311.4 L291.7,310.7 L292.7,309.9 L294.0,308.9 L295.3,308.2 L296.7,307.5 L298.3,306.9 L299.7,306.5 L301.3,306.1 L303.0,305.8 L305.0,305.6 L306.7,305.5 L311.3,305.4 L321.3,305.5 L324.7,305.6 L331.3,306.0 L333.0,306.0 L334.7,305.9 L336.3,305.8 L338.0,305.4 L339.7,304.9 L343.3,303.7 L345.3,303.2 L347.7,302.8 L349.7,302.7 L351.0,302.8 L352.3,302.9 L353.7,303.2 L355.0,303.5 L356.3,304.0 L357.3,304.5 L360.3,306.2 L361.4,306.7 L362.7,307.1 L364.0,307.3 L365.7,307.3 L367.3,307.0 L374.7,305.4 L376.7,305.1 L378.7,304.8 L380.7,304.6 L382.7,304.6 L384.3,304.7 L386.0,304.9 L387.7,305.3 L389.0,305.8 L390.3,306.4 L391.7,307.3 L392.7,308.3 L393.3,309.1 L394.0,310.3 L394.3,311.3 L394.4,312.3 L394.4,313.7 L394.2,315.0 L393.8,316.0 L393.2,317.3 L392.4,318.7 L391.6,319.7 L390.4,321.0 L389.0,322.2 L387.7,323.2 L386.0,324.3 L384.3,325.3 L382.3,326.2 L380.7,326.8 L379.0,327.4 L377.3,327.8 L375.7,328.1 L374.3,328.3 L372.7,328.4 L371.3,328.4 L370.0,328.3 L368.7,328.2 L367.3,327.9 L366.0,327.6 L364.0,326.8 L363.0,326.3 L361.9,325.7 L360.0,324.3 L356.7,321.5 L355.7,320.8 L355.0,320.5 L354.0,320.1 L353.0,319.8 L351.7,319.6 L350.3,319.6 L349.0,319.8 L347.3,320.0 L345.7,320.5 L344.3,321.0 L341.7,322.2 L336.7,324.9 L334.0,326.1 L331.3,327.2 L328.3,328.2 L325.3,328.8 L322.0,329.3 L317.3,329.8 L310.0,330.3Z" fill="#001dfe"/>
<path d="M375.7,327.0 L373.7,327.2 L372.0,327.3 L370.3,327.2 L368.7,326.9 L367.0,326.5 L365.7,326.0 L364.3,325.3 L362.9,324.3 L361.5,323.0 L360.3,321.7 L359.3,320.0 L358.5,318.3 L357.9,316.7 L357.7,315.3 L357.8,314.3 L357.9,314.0 L358.2,313.3 L358.9,312.7 L359.7,312.2 L360.6,311.7 L362.9,310.7 L366.0,309.4 L369.3,308.2 L371.7,307.4 L374.3,306.7 L377.0,306.2 L379.0,305.9 L381.0,305.7 L382.7,305.7 L384.3,305.9 L386.0,306.2 L387.5,306.7 L389.0,307.3 L390.0,308.0 L391.1,309.0 L391.9,310.0 L392.2,310.7 L392.5,311.3 L392.7,312.7 L392.7,314.0 L392.5,315.0 L392.3,315.7 L392.1,316.3 L391.6,317.3 L390.7,318.7 L389.6,320.0 L388.0,321.5 L386.3,322.8 L384.3,324.0 L382.3,325.0 L380.3,325.8 L378.0,326.5 L375.7,327.0Z" fill="#0051ff"/>
<path d="M308.7,329.3 L306.0,329.4 L303.3,329.2 L301.0,328.8 L298.7,328.2 L296.7,327.3 L295.7,326.8 L294.7,326.2 L293.0,324.9 L291.6,323.3 L290.1,321.3 L289.4,320.0 L289.1,319.3 L289.0,318.7 L289.0,317.7 L289.2,317.0 L289.6,316.0 L290.8,314.0 L292.0,312.3 L292.7,311.7 L293.7,310.8 L295.0,309.8 L296.3,309.0 L298.0,308.3 L299.7,307.7 L301.7,307.2 L303.3,306.9 L305.3,306.7 L307.7,306.6 L311.0,306.6 L317.7,306.7 L323.7,306.9 L328.0,307.3 L336.3,308.5 L338.0,308.6 L339.3,308.7 L341.0,308.6 L342.3,308.3 L343.7,307.9 L346.0,307.0 L347.3,306.6 L348.7,306.5 L349.7,306.5 L351.0,306.7 L351.9,307.0 L352.6,307.3 L353.4,308.0 L353.6,308.3 L354.0,309.0 L354.3,310.0 L354.3,310.7 L354.0,311.4 L353.8,311.7 L353.3,312.1 L352.7,312.5 L352.0,312.9 L348.0,314.5 L346.3,315.4 L344.7,316.5 L340.2,320.3 L337.5,322.3 L334.7,324.2 L332.0,325.5 L330.0,326.3 L328.0,327.0 L326.0,327.5 L323.7,327.9 L321.3,328.3 L318.3,328.6 L312.0,329.1 L308.7,329.3Z" fill="#0051ff"/>
<path d="M376.3,326.0 L374.7,326.2 L373.0,326.3 L371.3,326.3 L369.7,326.0 L368.0,325.6 L366.7,325.1 L365.3,324.4 L364.3,323.6 L363.3,322.7 L362.5,321.7 L361.8,320.3 L361.4,319.0 L361.3,317.7 L361.4,316.7 L361.6,316.0 L361.8,315.3 L362.4,314.3 L363.3,313.3 L364.4,312.3 L365.8,311.3 L367.7,310.3 L369.7,309.3 L372.0,308.4 L374.0,307.8 L376.3,307.2 L378.3,306.9 L380.0,306.7 L381.7,306.7 L383.3,306.8 L385.0,307.1 L386.3,307.4 L387.7,308.0 L388.8,308.7 L389.9,309.7 L390.6,310.7 L391.1,311.7 L391.2,312.3 L391.3,313.0 L391.3,314.3 L391.0,315.7 L390.4,317.0 L389.6,318.3 L388.5,319.7 L387.1,321.0 L385.7,322.2 L384.0,323.2 L382.3,324.1 L380.3,324.9 L378.3,325.6 L376.3,326.0Z" fill="#0089ff"/>
<path d="M310.3,328.4 L307.7,328.5 L305.3,328.4 L303.0,328.2 L301.0,327.8 L299.0,327.3 L297.0,326.4 L295.3,325.4 L294.0,324.3 L292.7,322.9 L291.2,321.0 L290.4,319.7 L290.2,318.7 L290.2,317.7 L290.4,317.0 L290.6,316.3 L291.7,314.7 L293.0,313.0 L294.3,311.6 L295.1,311.0 L296.1,310.3 L298.0,309.4 L300.3,308.5 L302.7,308.0 L305.3,307.7 L308.0,307.5 L311.7,307.5 L319.0,307.7 L322.7,307.9 L326.3,308.3 L329.7,308.9 L331.6,309.3 L333.3,309.9 L335.0,310.5 L336.2,311.0 L337.4,311.7 L338.3,312.3 L338.9,313.0 L339.3,313.7 L339.6,314.3 L339.8,315.0 L339.8,315.7 L339.7,316.3 L339.5,317.0 L339.3,317.7 L338.5,319.0 L337.3,320.3 L336.3,321.3 L335.4,322.0 L333.5,323.3 L331.7,324.4 L330.0,325.2 L328.0,325.9 L326.0,326.5 L324.0,326.9 L322.0,327.2 L319.3,327.6 L310.3,328.4Z" fill="#0089ff"/>
<path d="M376.3,325.0 L374.7,325.2 L373.3,325.3 L371.7,325.2 L370.3,325.0 L369.0,324.6 L367.7,324.1 L366.7,323.5 L365.7,322.8 L364.9,322.0 L364.3,321.0 L363.8,320.0 L363.6,319.0 L363.6,318.0 L363.6,317.3 L363.8,316.7 L364.2,315.7 L364.8,314.7 L365.7,313.7 L366.7,312.7 L368.0,311.7 L369.3,310.9 L371.0,310.1 L372.7,309.4 L374.3,308.8 L376.3,308.3 L378.0,308.0 L379.7,307.8 L381.3,307.7 L382.7,307.8 L384.0,308.0 L385.3,308.4 L386.7,309.0 L387.7,309.6 L388.5,310.3 L389.2,311.3 L389.6,312.3 L389.8,313.0 L389.8,313.7 L389.8,314.7 L389.4,316.0 L388.8,317.3 L388.1,318.3 L387.0,319.7 L385.9,320.7 L384.6,321.7 L383.0,322.7 L381.3,323.5 L379.7,324.2 L378.0,324.7 L376.3,325.0Z" fill="#00c3f6"/>
<path d="M311.0,327.3 L308.7,327.5 L306.7,327.5 L305.0,327.4 L303.3,327.3 L301.7,327.0 L300.0,326.5 L298.7,326.0 L297.3,325.3 L296.0,324.5 L294.7,323.3 L293.1,321.7 L292.1,320.3 L291.6,319.3 L291.4,318.3 L291.5,317.3 L291.9,316.3 L293.1,314.7 L294.7,313.0 L296.2,311.7 L298.0,310.6 L300.0,309.7 L302.0,309.2 L304.3,308.8 L307.3,308.5 L311.7,308.5 L320.0,308.8 L323.7,309.1 L327.0,309.7 L328.7,310.1 L330.0,310.5 L331.3,311.0 L332.7,311.7 L333.8,312.3 L334.6,313.0 L335.3,313.8 L335.9,314.7 L336.2,315.3 L336.4,316.0 L336.5,317.0 L336.4,317.7 L336.2,318.3 L335.6,319.3 L334.8,320.3 L333.4,321.7 L332.0,322.7 L330.3,323.7 L328.7,324.4 L327.0,325.0 L325.3,325.5 L323.3,326.0 L321.3,326.3 L319.0,326.6 L311.0,327.3Z" fill="#00c3f6"/>
<path d="M374.0,324.3 L372.7,324.3 L371.7,324.2 L370.3,323.9 L369.3,323.6 L368.2,323.0 L367.3,322.4 L366.6,321.7 L366.1,321.0 L365.7,320.3 L365.4,319.3 L365.3,318.7 L365.3,317.7 L365.6,316.7 L366.0,315.7 L366.7,314.7 L367.3,314.0 L368.3,313.0 L369.2,312.3 L370.3,311.6 L371.7,310.9 L373.0,310.3 L374.7,309.7 L376.3,309.2 L377.7,308.9 L379.0,308.8 L380.3,308.7 L381.7,308.7 L383.0,308.9 L384.3,309.2 L385.3,309.6 L386.3,310.2 L387.0,310.7 L387.8,311.7 L388.3,312.7 L388.5,313.7 L388.4,314.7 L388.2,315.7 L387.7,317.0 L386.8,318.3 L385.9,319.3 L384.9,320.3 L383.5,321.3 L382.0,322.2 L380.7,322.9 L379.0,323.5 L377.3,323.9 L375.7,324.2 L374.0,324.3Z" fill="#00efd8"/>
<path d="M312.3,326.4 L308.0,326.6 L306.3,326.6 L304.7,326.5 L303.0,326.3 L301.7,326.0 L300.3,325.6 L299.0,325.1 L297.6,324.3 L296.2,323.3 L294.7,322.0 L293.5,320.7 L292.8,319.7 L292.5,318.7 L292.4,318.0 L292.7,317.0 L293.1,316.3 L293.7,315.5 L295.3,313.8 L297.0,312.4 L298.7,311.4 L300.7,310.5 L302.7,310.0 L305.0,309.6 L307.3,309.4 L311.7,309.4 L319.3,309.7 L322.7,310.0 L325.7,310.6 L327.0,310.9 L328.4,311.3 L329.7,311.9 L330.7,312.4 L331.6,313.0 L332.5,313.7 L333.1,314.3 L333.8,315.3 L334.2,316.3 L334.3,317.3 L334.1,318.3 L333.6,319.3 L332.8,320.3 L331.7,321.3 L330.3,322.3 L329.1,323.0 L327.7,323.7 L326.3,324.2 L324.7,324.7 L323.0,325.0 L319.3,325.6 L312.3,326.4Z" fill="#00efd8"/>
<path d="M376.7,323.1 L375.3,323.2 L374.3,323.3 L373.0,323.2 L372.0,323.1 L371.0,322.8 L370.0,322.4 L369.3,322.0 L368.7,321.5 L368.1,321.0 L367.6,320.3 L367.3,319.7 L367.1,318.7 L367.1,318.0 L367.3,317.0 L367.5,316.3 L368.1,315.3 L368.9,314.3 L369.6,313.7 L370.4,313.0 L371.4,312.3 L372.5,311.7 L373.7,311.1 L375.0,310.6 L376.3,310.2 L377.7,310.0 L379.0,309.8 L380.3,309.8 L381.3,309.8 L382.3,310.0 L383.3,310.2 L384.3,310.6 L385.0,311.0 L385.8,311.7 L386.4,312.3 L386.7,313.0 L386.9,314.0 L386.9,314.7 L386.8,315.7 L386.4,316.7 L385.8,317.7 L385.0,318.7 L384.3,319.4 L383.2,320.3 L382.0,321.1 L380.7,321.8 L379.3,322.3 L378.0,322.8 L376.7,323.1Z" fill="#00fc88"/>
<path d="M308.3,325.7 L306.7,325.7 L305.3,325.6 L304.0,325.5 L302.7,325.2 L301.3,324.9 L300.3,324.5 L299.0,323.9 L298.0,323.3 L296.7,322.4 L295.7,321.6 L294.7,320.6 L294.0,319.7 L293.7,319.0 L293.6,318.3 L293.7,317.7 L294.1,316.7 L294.6,316.0 L295.2,315.3 L297.0,313.7 L298.7,312.6 L300.3,311.8 L302.0,311.2 L304.0,310.7 L306.3,310.4 L308.7,310.4 L313.0,310.5 L319.3,310.8 L322.3,311.2 L325.0,311.7 L326.3,312.1 L327.3,312.5 L328.3,312.9 L329.3,313.5 L330.3,314.3 L331.0,314.9 L331.6,315.7 L332.0,316.3 L332.2,317.3 L332.2,318.0 L332.1,318.3 L331.9,319.0 L331.4,319.7 L330.4,320.7 L329.3,321.4 L328.0,322.2 L326.3,323.0 L325.0,323.4 L323.3,323.9 L320.0,324.5 L312.7,325.4 L308.3,325.7Z" fill="#00fc88"/>
<path d="M377.0,322.0 L376.0,322.2 L375.0,322.2 L374.0,322.2 L373.0,322.1 L372.0,321.8 L371.3,321.6 L370.7,321.2 L369.9,320.7 L369.6,320.3 L369.1,319.7 L368.9,319.0 L368.8,318.3 L368.8,317.7 L368.9,317.0 L369.3,316.0 L369.8,315.3 L370.3,314.7 L371.0,314.0 L371.9,313.3 L372.7,312.8 L373.7,312.3 L374.7,311.8 L376.7,311.2 L378.7,310.9 L379.7,310.8 L380.7,310.8 L381.7,311.0 L382.7,311.3 L383.3,311.6 L384.0,312.0 L384.7,312.6 L385.0,313.1 L385.3,313.8 L385.5,314.7 L385.4,315.3 L385.3,316.0 L385.0,316.7 L384.4,317.7 L383.8,318.3 L383.2,319.0 L382.3,319.7 L381.3,320.4 L380.3,320.9 L379.3,321.3 L378.3,321.7 L377.0,322.0Z" fill="#3bff38"/>
<path d="M310.3,324.7 L307.0,324.8 L305.7,324.7 L304.3,324.6 L303.3,324.4 L302.0,324.1 L301.0,323.8 L299.7,323.2 L298.3,322.4 L297.0,321.5 L296.0,320.7 L295.4,320.0 L294.9,319.3 L294.7,318.7 L294.6,318.0 L294.8,317.3 L295.5,316.3 L296.7,315.2 L298.3,314.0 L299.3,313.3 L300.3,312.8 L302.0,312.2 L304.0,311.7 L306.0,311.4 L308.3,311.3 L312.3,311.4 L318.3,311.8 L321.3,312.1 L323.7,312.6 L325.0,313.0 L326.0,313.3 L327.0,313.8 L328.0,314.4 L328.8,315.0 L329.5,315.7 L330.0,316.3 L330.3,317.0 L330.5,317.7 L330.4,318.3 L330.1,319.0 L329.6,319.7 L328.9,320.3 L328.0,321.0 L327.0,321.5 L325.7,322.1 L323.3,322.9 L320.3,323.5 L316.0,324.1 L310.3,324.7Z" fill="#3bff38"/>
<path d="M311.0,323.7 L308.0,323.8 L305.3,323.7 L304.0,323.6 L303.0,323.3 L301.0,322.7 L299.7,322.1 L298.7,321.6 L297.7,320.9 L296.7,320.1 L296.3,319.7 L295.9,319.0 L295.8,318.3 L295.9,317.7 L296.0,317.3 L296.5,316.7 L297.5,315.7 L298.3,315.1 L299.3,314.5 L301.0,313.7 L302.7,313.1 L304.3,312.7 L306.3,312.4 L308.3,312.3 L312.0,312.4 L317.3,312.8 L320.3,313.1 L322.7,313.6 L324.0,314.0 L325.0,314.4 L326.0,314.9 L326.7,315.3 L327.3,315.8 L327.9,316.3 L328.3,316.9 L328.5,317.3 L328.6,318.0 L328.5,318.7 L328.0,319.3 L327.7,319.7 L327.0,320.2 L326.3,320.7 L325.3,321.1 L324.3,321.5 L322.0,322.2 L319.3,322.7 L315.7,323.2 L311.0,323.7Z" fill="#85fe00"/>
<path d="M377.3,320.7 L375.7,321.0 L374.3,320.9 L373.0,320.6 L372.4,320.3 L371.9,320.0 L371.2,319.3 L371.0,318.9 L370.8,318.3 L370.7,318.0 L370.8,317.3 L371.0,316.7 L371.3,316.0 L372.1,315.0 L373.2,314.0 L374.7,313.2 L376.3,312.5 L378.0,312.2 L379.7,312.1 L381.1,312.3 L381.7,312.5 L382.3,312.9 L382.9,313.3 L383.2,313.7 L383.4,314.0 L383.6,314.7 L383.6,315.0 L383.6,315.7 L383.4,316.3 L383.1,317.0 L382.6,317.7 L382.0,318.3 L380.7,319.3 L380.0,319.7 L379.0,320.2 L377.3,320.7Z" fill="#85fe00"/>
<path d="M308.7,323.0 L306.3,323.0 L304.3,322.8 L302.3,322.3 L300.3,321.6 L298.7,320.7 L298.0,320.2 L297.5,319.7 L297.2,319.3 L296.9,318.7 L296.9,318.3 L297.0,317.7 L297.4,317.0 L298.0,316.3 L298.4,316.0 L299.7,315.2 L301.3,314.5 L303.0,313.9 L304.7,313.5 L306.7,313.3 L308.7,313.2 L312.0,313.3 L316.7,313.7 L319.7,314.1 L321.7,314.5 L323.7,315.1 L324.7,315.6 L325.3,315.9 L326.3,316.7 L326.7,317.2 L326.9,317.7 L326.9,318.3 L326.7,318.7 L326.3,319.2 L325.9,319.7 L325.3,320.0 L324.3,320.5 L322.3,321.3 L320.0,321.8 L317.0,322.3 L312.0,322.8 L308.7,323.0Z" fill="#d0fb00"/>
<path d="M377.0,319.4 L376.0,319.4 L375.0,319.4 L374.0,319.0 L373.6,318.7 L373.3,318.3 L373.1,318.0 L373.0,317.3 L373.1,316.7 L373.5,316.0 L374.1,315.3 L375.0,314.7 L376.0,314.1 L377.0,313.8 L378.0,313.6 L379.0,313.6 L380.0,313.8 L380.7,314.2 L381.2,314.7 L381.4,315.0 L381.4,315.3 L381.4,316.0 L381.3,316.3 L381.0,317.0 L380.3,317.8 L379.3,318.5 L378.3,319.0 L377.0,319.4Z" fill="#d0fb00"/>
<path d="M312.7,322.0 L309.7,322.2 L307.0,322.2 L304.7,322.0 L302.7,321.6 L301.7,321.2 L300.7,320.8 L300.0,320.5 L299.2,320.0 L298.7,319.5 L298.3,319.0 L298.1,318.7 L298.1,318.3 L298.1,318.0 L298.4,317.3 L299.0,316.7 L300.3,315.8 L301.7,315.2 L303.0,314.8 L304.7,314.4 L306.3,314.2 L308.3,314.1 L311.0,314.1 L314.7,314.4 L317.7,314.7 L320.0,315.1 L322.0,315.7 L323.3,316.2 L324.1,316.7 L324.5,317.0 L324.7,317.3 L324.9,317.7 L325.0,318.0 L325.0,318.3 L324.8,318.7 L324.6,319.0 L323.8,319.7 L322.3,320.3 L320.7,320.8 L318.7,321.3 L316.3,321.6 L312.7,322.0Z" fill="#f8de00"/>
<path d="M313.0,321.4 L310.0,321.6 L307.3,321.6 L305.3,321.4 L303.3,321.0 L301.7,320.5 L300.7,320.0 L300.2,319.7 L299.5,319.0 L299.3,318.7 L299.3,318.3 L299.3,318.0 L299.4,317.7 L299.7,317.3 L300.4,316.7 L301.3,316.2 L302.7,315.7 L304.0,315.3 L305.3,315.1 L307.0,314.9 L309.0,314.8 L311.3,314.9 L314.3,315.1 L317.0,315.4 L319.0,315.8 L320.7,316.2 L321.8,316.7 L322.3,317.0 L322.7,317.3 L323.0,317.7 L323.1,318.0 L323.1,318.3 L323.0,318.7 L322.7,319.0 L322.2,319.3 L321.7,319.6 L320.7,320.0 L319.3,320.4 L317.3,320.8 L315.3,321.1 L313.0,321.4Z" fill="#fda700"/>
<path d="M310.0,321.0 L308.0,321.0 L306.3,320.9 L304.7,320.7 L303.2,320.3 L302.0,319.9 L301.1,319.3 L300.8,319.0 L300.6,318.7 L300.5,318.3 L300.5,318.0 L300.7,317.7 L301.0,317.3 L301.4,317.0 L302.3,316.5 L303.3,316.1 L304.7,315.8 L306.0,315.6 L307.7,315.5 L309.3,315.4 L311.3,315.5 L313.7,315.6 L315.7,315.9 L317.7,316.2 L319.0,316.6 L320.1,317.0 L320.7,317.3 L321.0,317.7 L321.2,318.0 L321.2,318.3 L321.0,318.7 L320.7,319.0 L319.7,319.5 L318.2,320.0 L316.3,320.4 L314.3,320.7 L312.0,320.9 L310.0,321.0Z" fill="#ff6300"/>
<path d="M312.7,320.3 L310.3,320.5 L308.3,320.5 L306.7,320.4 L305.0,320.2 L303.7,319.8 L302.7,319.3 L302.2,319.0 L301.9,318.7 L301.8,318.3 L301.9,318.0 L302.1,317.7 L302.7,317.2 L303.3,316.9 L304.3,316.5 L305.3,316.3 L306.7,316.1 L309.3,316.0 L311.0,316.0 L313.0,316.1 L314.7,316.3 L316.3,316.6 L317.6,317.0 L318.4,317.3 L318.9,317.7 L319.2,318.0 L319.2,318.3 L319.0,318.7 L318.6,319.0 L317.8,319.3 L316.8,319.7 L315.7,319.9 L312.7,320.3Z" fill="#fc2100"/>
<path d="M309.3,320.0 L308.0,320.0 L306.7,319.8 L305.7,319.7 L304.7,319.4 L303.9,319.0 L303.5,318.7 L303.4,318.3 L303.4,318.0 L303.7,317.7 L304.2,317.3 L305.3,316.9 L307.0,316.6 L309.3,316.5 L312.3,316.6 L314.7,317.0 L316.0,317.4 L316.6,317.7 L317.0,318.0 L317.0,318.3 L316.8,318.7 L316.2,319.0 L315.2,319.3 L313.7,319.7 L312.7,319.8 L311.0,319.9 L309.3,320.0Z" fill="#eb0000"/>
</g>
<g stroke="none">
<path d="M449.7,338.0 L447.3,338.1 L445.0,338.0 L442.7,337.8 L440.7,337.6 L438.7,337.2 L436.3,336.5 L434.3,335.8 L432.7,335.0 L431.0,334.1 L429.7,333.3 L428.3,332.2 L427.1,331.0 L425.9,329.7 L424.8,328.0 L423.8,326.3 L423.3,325.0 L423.1,324.0 L423.2,322.7 L423.4,321.3 L424.0,319.7 L424.7,318.0 L425.6,316.3 L426.8,314.7 L427.9,313.3 L429.3,312.0 L430.7,310.8 L432.0,309.8 L433.7,308.8 L435.3,307.8 L437.3,306.9 L439.0,306.2 L441.0,305.5 L443.3,304.8 L445.7,304.2 L448.0,303.8 L451.0,303.4 L454.7,303.1 L462.4,302.7 L470.7,302.1 L474.0,301.9 L477.7,301.9 L481.3,302.0 L485.0,302.4 L492.7,303.4 L494.7,303.5 L496.7,303.4 L498.3,303.2 L500.0,303.0 L506.3,301.4 L509.3,300.8 L511.0,300.6 L512.7,300.5 L514.3,300.4 L515.7,300.5 L517.0,300.6 L518.7,300.9 L520.0,301.2 L521.3,301.6 L523.7,302.5 L525.0,303.2 L526.0,303.9 L527.0,304.6 L528.0,305.5 L528.8,306.3 L529.6,307.3 L530.3,308.3 L530.9,309.3 L531.3,310.3 L531.7,311.3 L532.1,313.0 L532.3,314.7 L532.3,316.3 L532.1,318.0 L531.6,319.7 L531.0,321.3 L530.3,323.0 L529.3,324.7 L528.1,326.3 L526.7,327.9 L525.2,329.3 L523.7,330.6 L522.0,331.8 L520.0,332.9 L518.0,333.8 L516.3,334.4 L515.0,334.8 L513.7,335.1 L511.3,335.4 L508.7,335.5 L506.0,335.3 L503.7,334.8 L501.3,334.1 L499.3,333.4 L495.0,331.6 L492.7,330.8 L491.3,330.5 L489.7,330.3 L488.0,330.3 L486.3,330.3 L483.7,330.5 L481.0,330.8 L478.3,331.2 L476.0,331.7 L471.9,332.7 L463.0,335.5 L459.0,336.6 L456.7,337.1 L454.3,337.5 L452.0,337.8 L449.7,338.0Z" fill="#0000eb"/>
<path d="M450.3,336.0 L448.3,336.1 L446.3,336.1 L444.3,336.0 L442.3,335.8 L440.3,335.4 L438.3,334.9 L436.7,334.3 L435.0,333.6 L433.7,332.9 L432.2,332.0 L430.9,331.0 L429.7,329.9 L428.3,328.3 L427.0,326.7 L426.2,325.3 L425.9,324.3 L425.8,323.3 L425.9,322.3 L426.3,321.0 L426.8,319.7 L427.9,317.7 L428.7,316.3 L429.7,315.0 L431.0,313.7 L432.0,312.7 L433.3,311.7 L434.7,310.7 L436.0,309.9 L437.7,309.0 L439.3,308.2 L441.0,307.6 L443.0,306.9 L445.0,306.4 L447.3,305.9 L449.7,305.5 L452.3,305.2 L470.0,304.1 L474.3,303.9 L477.7,304.0 L481.0,304.3 L484.3,304.8 L491.3,306.4 L493.3,306.6 L495.0,306.6 L496.7,306.4 L498.3,306.0 L505.0,303.8 L507.0,303.2 L508.7,302.8 L510.3,302.5 L512.0,302.3 L513.7,302.2 L515.3,302.2 L516.7,302.3 L518.0,302.5 L520.3,303.1 L521.3,303.5 L522.7,304.1 L523.7,304.6 L524.7,305.3 L525.6,306.0 L526.4,306.7 L527.0,307.3 L527.8,308.3 L528.8,310.0 L529.3,311.0 L529.6,312.0 L529.9,313.3 L530.1,315.0 L530.1,316.7 L529.9,318.3 L529.4,320.0 L528.9,321.3 L528.2,323.0 L527.3,324.3 L526.1,326.0 L525.0,327.3 L523.7,328.5 L522.3,329.6 L521.0,330.5 L519.3,331.5 L517.7,332.3 L515.7,333.0 L513.3,333.5 L512.0,333.7 L510.7,333.9 L509.3,333.9 L508.0,333.8 L505.7,333.5 L503.3,332.9 L502.0,332.4 L500.7,331.8 L498.7,330.8 L494.7,328.6 L493.3,327.9 L492.3,327.6 L491.0,327.2 L489.7,327.0 L488.3,326.9 L486.7,326.9 L484.7,327.1 L482.0,327.4 L479.3,327.9 L477.0,328.4 L474.9,329.0 L472.7,329.7 L463.3,333.1 L459.3,334.4 L456.7,335.1 L454.7,335.5 L452.3,335.8 L450.3,336.0Z" fill="#000ef5"/>
<path d="M451.0,334.3 L449.0,334.5 L447.3,334.5 L445.3,334.4 L443.7,334.2 L441.7,333.9 L440.0,333.5 L438.3,333.0 L437.0,332.4 L435.7,331.8 L434.3,331.0 L433.0,330.0 L431.7,328.8 L430.0,327.2 L429.0,326.0 L428.3,325.0 L428.0,324.0 L427.9,323.3 L428.0,322.3 L428.3,321.3 L428.8,320.3 L429.8,318.7 L431.1,316.7 L432.2,315.3 L433.3,314.1 L434.3,313.3 L435.5,312.3 L436.7,311.6 L438.0,310.8 L439.3,310.1 L441.0,309.4 L442.7,308.8 L444.3,308.2 L446.3,307.7 L448.7,307.3 L451.0,306.9 L453.0,306.7 L469.3,305.7 L472.3,305.6 L474.7,305.6 L478.0,305.9 L479.7,306.1 L481.3,306.5 L484.3,307.3 L489.0,309.1 L490.3,309.6 L492.0,310.0 L493.3,310.0 L495.0,309.7 L496.7,309.2 L498.0,308.6 L504.0,305.8 L505.7,305.2 L507.7,304.5 L509.3,304.1 L511.3,303.8 L513.3,303.6 L515.0,303.6 L517.3,303.9 L518.7,304.2 L519.7,304.4 L521.7,305.3 L522.7,305.8 L523.5,306.3 L524.3,306.9 L525.1,307.7 L526.3,309.0 L526.8,309.7 L527.3,310.7 L527.7,311.7 L528.1,312.7 L528.3,314.0 L528.5,315.3 L528.5,316.7 L528.2,318.3 L527.9,319.7 L527.5,321.0 L526.8,322.3 L525.9,324.0 L524.9,325.3 L523.7,326.7 L522.6,327.7 L521.3,328.7 L519.7,329.8 L518.3,330.5 L516.7,331.3 L515.0,331.8 L513.7,332.2 L512.3,332.4 L511.0,332.5 L509.7,332.5 L508.3,332.5 L507.0,332.3 L505.7,332.1 L504.3,331.7 L503.0,331.2 L502.0,330.8 L500.7,330.1 L499.7,329.5 L497.6,328.0 L494.0,325.2 L492.3,324.2 L491.3,323.7 L490.3,323.4 L489.3,323.3 L488.0,323.2 L486.3,323.4 L484.3,323.7 L481.7,324.3 L479.0,325.1 L476.0,326.0 L473.4,327.0 L464.3,330.8 L460.7,332.2 L458.3,332.9 L456.0,333.5 L453.3,334.0 L451.0,334.3Z" fill="#001dfe"/>
<path d="M511.0,331.3 L509.7,331.4 L508.0,331.2 L506.3,330.9 L505.0,330.6 L503.7,330.1 L502.3,329.5 L501.3,328.9 L500.0,327.9 L498.5,326.7 L497.2,325.3 L495.9,323.7 L494.4,321.7 L493.4,320.0 L492.7,318.7 L492.4,317.7 L492.4,317.0 L492.4,316.7 L492.5,316.3 L492.9,315.7 L493.8,314.7 L495.3,313.3 L497.8,311.3 L500.1,309.7 L502.0,308.5 L503.7,307.5 L505.7,306.6 L507.3,306.0 L509.0,305.5 L510.7,305.1 L512.7,304.9 L514.3,304.8 L516.0,304.9 L517.7,305.2 L519.0,305.6 L520.3,306.0 L521.3,306.5 L522.3,307.1 L523.2,307.7 L524.0,308.4 L524.9,309.3 L525.4,310.0 L526.0,311.0 L526.4,312.0 L526.7,313.0 L526.9,314.0 L527.1,315.0 L527.1,316.0 L527.0,317.3 L526.9,318.3 L526.5,319.7 L526.2,320.7 L525.6,322.0 L525.0,323.0 L524.4,324.0 L523.6,325.0 L522.7,326.0 L521.7,327.0 L520.7,327.8 L519.7,328.5 L518.3,329.3 L517.3,329.8 L516.0,330.3 L514.7,330.7 L513.3,331.0 L512.3,331.2 L511.0,331.3Z" fill="#0051ff"/>
<path d="M448.7,333.0 L445.7,332.9 L443.0,332.6 L441.7,332.3 L440.3,331.9 L438.0,331.0 L436.7,330.3 L435.3,329.4 L434.0,328.5 L432.3,327.1 L431.3,326.2 L430.6,325.3 L430.1,324.7 L429.8,324.0 L429.7,323.3 L429.7,322.7 L429.9,322.0 L430.1,321.3 L430.5,320.7 L431.2,319.7 L433.5,316.7 L435.0,315.0 L436.7,313.6 L438.5,312.3 L440.7,311.2 L443.0,310.2 L445.7,309.4 L448.3,308.8 L451.3,308.4 L455.0,308.0 L468.3,307.3 L471.7,307.2 L474.3,307.3 L476.7,307.5 L478.9,308.0 L480.9,308.7 L482.7,309.5 L484.1,310.3 L485.8,311.7 L486.5,312.3 L487.3,313.3 L487.7,314.0 L488.1,314.7 L488.3,315.3 L488.3,315.7 L488.2,316.3 L488.1,316.7 L487.9,317.0 L487.2,317.7 L486.3,318.3 L485.3,319.0 L482.2,320.7 L473.3,324.7 L464.7,328.9 L462.3,329.9 L460.3,330.7 L458.3,331.4 L456.3,331.9 L454.3,332.4 L452.3,332.7 L450.7,332.9 L448.7,333.0Z" fill="#0051ff"/>
<path d="M511.7,330.3 L510.0,330.4 L508.7,330.3 L507.3,330.1 L505.7,329.7 L504.3,329.3 L503.0,328.6 L501.7,327.8 L500.7,327.0 L499.7,326.0 L498.6,324.7 L497.5,323.0 L496.9,321.7 L496.4,320.3 L496.2,319.0 L496.2,317.7 L496.5,316.7 L496.8,315.7 L497.6,314.3 L498.6,313.0 L499.6,312.0 L501.1,310.7 L502.4,309.7 L504.0,308.7 L505.7,307.8 L507.3,307.1 L509.0,306.5 L510.7,306.1 L512.0,305.9 L513.7,305.8 L515.3,305.9 L517.0,306.1 L518.3,306.4 L519.3,306.7 L520.3,307.1 L521.3,307.7 L522.3,308.3 L523.1,309.0 L523.8,309.7 L524.3,310.4 L524.9,311.3 L525.2,312.0 L525.6,313.0 L525.8,314.0 L526.0,315.0 L526.0,316.0 L525.9,317.3 L525.8,318.3 L525.5,319.3 L525.2,320.3 L524.8,321.3 L524.3,322.3 L523.6,323.3 L522.9,324.3 L522.0,325.3 L520.3,326.9 L519.3,327.6 L518.3,328.2 L516.3,329.2 L515.3,329.6 L514.0,329.9 L513.0,330.2 L511.7,330.3Z" fill="#0089ff"/>
<path d="M450.0,331.7 L447.3,331.7 L444.7,331.5 L442.3,331.0 L440.0,330.2 L439.0,329.8 L437.7,329.1 L434.7,327.2 L433.7,326.5 L432.6,325.7 L432.0,325.0 L431.5,324.3 L431.3,323.7 L431.2,323.3 L431.2,323.0 L431.2,322.3 L431.6,321.3 L432.3,320.3 L434.3,317.9 L436.3,315.8 L438.0,314.4 L439.7,313.3 L442.0,312.0 L444.3,311.1 L446.7,310.4 L449.7,309.8 L452.0,309.5 L455.0,309.3 L469.0,308.6 L471.7,308.6 L473.7,308.8 L475.7,309.1 L477.3,309.5 L478.7,310.1 L480.0,310.8 L481.0,311.7 L481.8,312.7 L482.2,313.7 L482.3,314.7 L482.1,315.7 L481.6,316.7 L480.8,317.7 L479.7,318.7 L478.3,319.7 L476.7,320.7 L473.8,322.3 L466.0,326.6 L463.0,328.1 L460.7,329.1 L458.0,330.1 L455.3,330.9 L452.7,331.4 L450.0,331.7Z" fill="#0089ff"/>
<path d="M511.3,329.4 L510.0,329.4 L508.7,329.3 L507.3,329.1 L506.0,328.7 L504.7,328.2 L503.6,327.7 L502.3,326.8 L501.4,326.0 L500.5,325.0 L499.8,324.0 L499.1,322.7 L498.7,321.3 L498.4,320.3 L498.3,319.0 L498.4,317.7 L498.7,316.7 L499.2,315.3 L499.8,314.3 L500.5,313.3 L501.4,312.3 L502.4,311.3 L503.7,310.3 L505.0,309.5 L506.7,308.6 L508.3,307.9 L509.7,307.5 L511.0,307.1 L512.7,306.9 L514.3,306.9 L515.7,307.0 L517.0,307.2 L518.3,307.5 L519.3,307.9 L520.3,308.3 L521.0,308.7 L521.9,309.3 L522.6,310.0 L523.2,310.7 L524.0,312.0 L524.3,312.7 L524.6,313.7 L524.8,314.7 L524.9,315.7 L524.9,316.7 L524.8,317.7 L524.6,318.7 L524.3,319.7 L523.9,320.7 L523.4,321.7 L522.4,323.3 L521.7,324.2 L520.9,325.0 L519.3,326.4 L518.3,327.0 L517.3,327.6 L515.3,328.5 L513.3,329.1 L511.3,329.4Z" fill="#00c3f6"/>
<path d="M448.7,330.3 L447.0,330.3 L445.3,330.1 L443.7,329.8 L442.3,329.4 L440.7,328.9 L439.3,328.3 L437.7,327.5 L436.0,326.5 L435.0,325.9 L434.2,325.3 L433.5,324.7 L433.0,324.0 L432.8,323.3 L432.7,322.7 L432.9,322.0 L433.2,321.3 L433.7,320.7 L434.3,320.0 L436.3,318.0 L438.7,315.9 L440.7,314.5 L442.7,313.4 L444.7,312.5 L447.0,311.8 L449.3,311.3 L452.3,310.8 L456.3,310.6 L466.0,310.2 L468.3,310.2 L470.0,310.2 L471.3,310.4 L472.7,310.6 L473.7,310.8 L474.7,311.1 L475.7,311.6 L476.4,312.0 L476.8,312.3 L477.3,313.0 L477.5,313.3 L477.8,314.0 L477.8,314.7 L477.7,315.3 L477.3,316.3 L476.8,317.0 L476.2,317.7 L475.1,318.7 L473.4,320.0 L470.9,321.7 L467.3,323.9 L464.7,325.5 L462.0,326.9 L459.7,327.9 L457.7,328.7 L455.3,329.4 L453.0,329.9 L450.7,330.2 L448.7,330.3Z" fill="#00c3f6"/>
<path d="M512.3,328.4 L511.0,328.5 L509.7,328.5 L508.7,328.4 L507.3,328.2 L506.0,327.8 L505.0,327.4 L504.0,326.8 L502.9,326.0 L502.2,325.3 L501.4,324.3 L500.8,323.3 L500.2,322.0 L499.9,320.7 L499.8,319.7 L499.8,318.3 L500.0,317.3 L500.4,316.0 L500.9,315.0 L501.5,314.0 L502.3,313.0 L503.3,312.0 L504.3,311.1 L505.5,310.3 L506.7,309.6 L508.0,309.0 L509.3,308.5 L510.7,308.2 L512.0,307.9 L513.3,307.8 L514.7,307.8 L516.0,307.9 L517.3,308.1 L519.0,308.7 L520.0,309.2 L520.7,309.6 L521.3,310.1 L521.9,310.7 L522.5,311.3 L522.9,312.0 L523.5,313.3 L523.7,314.0 L523.9,315.0 L523.9,316.7 L523.8,317.7 L523.6,318.7 L523.0,320.3 L522.2,322.0 L521.0,323.6 L519.6,325.0 L518.0,326.2 L516.3,327.2 L515.3,327.6 L514.3,327.9 L512.3,328.4Z" fill="#00efd8"/>
<path d="M450.0,329.0 L448.3,329.0 L447.0,329.0 L445.7,328.8 L444.3,328.6 L442.7,328.2 L441.3,327.7 L439.7,327.1 L438.0,326.4 L436.7,325.7 L435.7,325.1 L435.1,324.7 L434.5,324.0 L434.3,323.7 L434.1,323.0 L434.2,322.3 L434.4,321.7 L435.1,320.7 L436.7,319.2 L439.7,316.9 L441.7,315.5 L443.3,314.6 L445.3,313.7 L447.3,313.0 L449.3,312.6 L452.3,312.1 L456.0,311.8 L462.7,311.7 L467.0,311.8 L469.3,312.0 L470.3,312.2 L471.3,312.5 L472.0,312.8 L472.7,313.2 L473.2,313.7 L473.4,314.0 L473.7,314.7 L473.7,315.0 L473.6,315.7 L473.2,316.7 L472.5,317.7 L471.1,319.0 L469.5,320.3 L467.3,322.0 L465.0,323.6 L463.0,324.8 L461.0,325.9 L459.0,326.8 L457.3,327.5 L455.3,328.1 L453.7,328.5 L451.7,328.9 L450.0,329.0Z" fill="#00efd8"/>
<path d="M512.7,327.4 L511.3,327.6 L510.0,327.6 L508.7,327.5 L507.7,327.3 L506.7,327.0 L505.7,326.6 L504.7,326.0 L503.8,325.3 L503.0,324.6 L502.3,323.7 L502.0,323.0 L501.5,322.0 L501.3,321.0 L501.1,320.0 L501.2,318.7 L501.3,317.7 L501.6,316.7 L502.0,315.7 L502.6,314.7 L503.3,313.7 L504.3,312.7 L505.0,312.0 L506.0,311.3 L507.3,310.4 L508.3,310.0 L509.7,309.4 L510.7,309.1 L512.0,308.9 L513.3,308.7 L514.7,308.7 L516.0,308.8 L517.0,309.0 L518.7,309.6 L520.0,310.3 L520.7,310.8 L521.2,311.3 L522.0,312.3 L522.3,313.0 L522.6,313.7 L522.9,315.0 L523.0,316.7 L522.7,318.3 L522.1,320.0 L521.3,321.7 L520.3,323.0 L519.0,324.3 L517.7,325.3 L516.0,326.3 L514.3,327.0 L512.7,327.4Z" fill="#00fc88"/>
<path d="M449.0,327.7 L446.7,327.6 L444.0,327.2 L441.3,326.5 L440.0,326.1 L438.7,325.6 L437.3,324.9 L436.7,324.4 L436.2,324.0 L436.0,323.7 L435.7,323.0 L435.6,322.7 L435.8,322.0 L435.9,321.7 L436.4,321.0 L437.0,320.3 L437.7,319.8 L439.7,318.4 L442.3,316.8 L444.3,315.8 L446.0,315.0 L447.7,314.5 L449.7,314.0 L452.3,313.6 L455.0,313.4 L458.3,313.4 L462.0,313.5 L464.3,313.8 L466.3,314.2 L467.5,314.7 L468.0,315.0 L468.3,315.3 L468.5,315.7 L468.6,316.0 L468.6,316.7 L468.2,317.7 L467.6,318.7 L466.8,319.7 L465.4,321.0 L463.8,322.3 L462.3,323.4 L460.7,324.3 L459.0,325.2 L457.3,326.0 L455.7,326.5 L454.0,327.0 L452.3,327.4 L450.7,327.6 L449.0,327.7Z" fill="#00fc88"/>
<path d="M512.0,326.7 L510.7,326.8 L509.7,326.8 L508.7,326.6 L507.7,326.4 L506.7,326.1 L505.7,325.6 L504.8,325.0 L504.1,324.3 L503.5,323.7 L502.9,322.7 L502.5,321.7 L502.4,321.0 L502.3,320.0 L502.3,319.0 L502.4,318.0 L502.7,317.0 L503.1,316.0 L503.7,315.0 L504.3,314.1 L505.0,313.3 L505.7,312.7 L506.7,311.9 L507.7,311.3 L508.7,310.8 L510.0,310.2 L511.0,309.9 L512.0,309.7 L513.3,309.6 L514.7,309.5 L515.7,309.6 L516.7,309.8 L517.7,310.1 L519.0,310.7 L520.0,311.3 L520.9,312.3 L521.5,313.3 L521.8,314.0 L522.0,314.7 L522.1,316.0 L522.0,317.3 L521.6,319.0 L521.1,320.3 L520.3,321.7 L519.2,323.0 L518.0,324.1 L516.7,325.0 L515.0,325.9 L513.3,326.4 L512.0,326.7Z" fill="#3bff38"/>
<path d="M451.0,326.4 L448.7,326.5 L446.0,326.4 L443.7,326.1 L441.0,325.5 L440.0,325.1 L439.0,324.7 L437.9,324.0 L437.5,323.7 L437.3,323.3 L437.1,323.0 L437.1,322.7 L437.2,322.0 L437.5,321.3 L438.0,320.8 L438.6,320.3 L440.0,319.4 L441.7,318.4 L443.7,317.5 L446.0,316.5 L448.0,315.9 L450.0,315.4 L452.0,315.1 L454.3,315.0 L456.7,315.0 L458.7,315.2 L460.7,315.5 L462.0,315.9 L462.9,316.3 L463.3,316.7 L463.6,317.0 L463.9,317.7 L464.0,318.3 L463.9,319.0 L463.6,319.7 L463.2,320.3 L462.4,321.3 L461.7,322.0 L460.8,322.7 L459.8,323.3 L458.7,324.0 L456.3,325.0 L455.0,325.5 L453.7,325.9 L452.3,326.2 L451.0,326.4Z" fill="#3bff38"/>
<path d="M512.7,325.7 L511.7,325.9 L510.7,325.9 L509.7,325.9 L508.7,325.8 L507.7,325.5 L507.0,325.2 L506.0,324.7 L505.3,324.2 L504.8,323.7 L504.3,323.0 L503.9,322.3 L503.6,321.3 L503.4,320.7 L503.4,319.7 L503.4,318.7 L503.7,317.7 L503.9,317.0 L504.3,316.0 L505.0,315.0 L505.5,314.3 L506.1,313.7 L507.0,312.9 L507.8,312.3 L508.7,311.8 L509.7,311.4 L510.7,311.0 L511.7,310.7 L513.0,310.5 L514.0,310.4 L515.0,310.4 L516.0,310.5 L517.0,310.8 L518.3,311.3 L519.3,312.0 L520.0,312.7 L520.7,313.7 L521.0,314.7 L521.2,316.0 L521.2,317.0 L520.9,318.3 L520.4,319.7 L519.9,320.7 L519.0,321.9 L517.9,323.0 L516.7,324.0 L515.3,324.8 L514.0,325.3 L512.7,325.7Z" fill="#85fe00"/>
<path d="M450.3,325.3 L448.3,325.5 L446.0,325.5 L443.7,325.2 L441.7,324.7 L440.3,324.2 L439.3,323.6 L439.1,323.3 L438.8,323.0 L438.7,322.7 L438.7,322.3 L438.8,322.0 L439.2,321.3 L439.9,320.7 L441.0,319.9 L442.3,319.2 L444.0,318.5 L446.0,317.8 L447.7,317.4 L449.7,317.0 L451.3,316.8 L453.0,316.7 L454.7,316.8 L456.0,316.9 L457.3,317.2 L458.6,317.7 L459.3,318.1 L459.9,318.7 L460.1,319.0 L460.3,319.7 L460.3,320.0 L460.1,320.7 L459.9,321.0 L459.4,321.7 L458.1,322.7 L456.4,323.7 L454.7,324.4 L452.7,324.9 L450.3,325.3Z" fill="#85fe00"/>
<path d="M512.0,325.0 L511.0,325.1 L510.0,325.1 L509.0,325.0 L508.3,324.8 L507.7,324.6 L507.0,324.3 L506.3,323.8 L505.7,323.2 L505.2,322.7 L504.8,322.0 L504.6,321.3 L504.4,320.3 L504.4,319.7 L504.4,318.7 L504.6,318.0 L504.9,317.0 L505.4,316.0 L505.9,315.3 L507.0,314.1 L508.4,313.0 L510.0,312.1 L511.7,311.5 L512.7,311.3 L513.7,311.2 L514.7,311.2 L515.7,311.3 L516.7,311.5 L517.3,311.8 L518.3,312.3 L519.2,313.0 L519.7,313.7 L520.1,314.7 L520.3,315.7 L520.4,316.7 L520.2,317.7 L519.8,319.0 L519.1,320.3 L518.4,321.3 L517.7,322.2 L516.7,323.0 L515.7,323.7 L514.3,324.4 L513.0,324.8 L512.0,325.0Z" fill="#d0fb00"/>
<path d="M450.7,324.4 L449.0,324.6 L447.0,324.6 L445.0,324.5 L443.3,324.2 L442.0,323.8 L441.0,323.3 L440.7,323.0 L440.4,322.7 L440.4,322.3 L440.4,322.0 L440.7,321.5 L441.2,321.0 L442.2,320.3 L443.3,319.8 L444.7,319.3 L446.0,318.9 L447.7,318.5 L449.0,318.3 L450.3,318.1 L451.7,318.1 L453.0,318.2 L454.0,318.3 L455.0,318.5 L456.0,318.8 L456.7,319.2 L457.1,319.7 L457.3,320.0 L457.4,320.3 L457.4,320.7 L457.3,321.0 L456.9,321.7 L456.1,322.3 L455.0,323.0 L453.7,323.6 L452.3,324.0 L450.7,324.4Z" fill="#d0fb00"/>
<path d="M512.7,324.1 L512.0,324.2 L511.0,324.3 L510.0,324.3 L509.3,324.2 L508.7,324.0 L508.0,323.7 L507.3,323.4 L506.8,323.0 L506.3,322.5 L506.0,322.0 L505.7,321.3 L505.5,320.7 L505.4,320.0 L505.4,319.3 L505.6,318.0 L506.2,316.7 L506.6,316.0 L507.1,315.3 L508.3,314.2 L509.0,313.7 L510.0,313.1 L511.7,312.4 L513.3,312.1 L514.3,312.0 L515.0,312.1 L516.3,312.3 L517.3,312.7 L518.0,313.2 L518.7,313.9 L519.1,314.7 L519.4,315.3 L519.5,316.3 L519.4,317.3 L519.2,318.3 L518.7,319.3 L518.1,320.3 L517.3,321.3 L516.7,322.0 L515.7,322.7 L514.7,323.3 L513.7,323.8 L512.7,324.1Z" fill="#f8de00"/>
<path d="M448.0,323.7 L446.0,323.6 L445.0,323.5 L444.1,323.3 L443.3,323.0 L442.8,322.7 L442.6,322.3 L442.6,322.0 L442.7,321.7 L443.0,321.3 L443.5,321.0 L444.3,320.5 L446.0,320.0 L447.3,319.7 L448.3,319.5 L450.3,319.4 L451.3,319.4 L452.3,319.6 L453.5,320.0 L454.0,320.3 L454.2,320.7 L454.3,321.0 L454.2,321.3 L454.0,321.7 L453.3,322.2 L452.5,322.7 L451.7,323.0 L450.5,323.3 L449.3,323.5 L448.0,323.7Z" fill="#f8de00"/>
<path d="M512.0,323.4 L510.7,323.5 L509.3,323.3 L508.3,322.9 L507.7,322.4 L507.3,322.1 L507.0,321.7 L506.7,321.1 L506.5,320.7 L506.4,320.0 L506.4,319.0 L506.5,318.3 L506.7,317.7 L507.1,317.0 L507.5,316.3 L508.3,315.3 L509.3,314.5 L510.7,313.7 L512.0,313.2 L513.0,312.9 L513.7,312.9 L515.0,312.9 L515.7,313.0 L516.3,313.2 L517.0,313.6 L517.7,314.1 L518.1,314.7 L518.4,315.3 L518.6,316.0 L518.6,317.0 L518.5,317.7 L518.2,318.7 L517.7,319.6 L517.2,320.3 L516.6,321.0 L515.7,321.8 L514.9,322.3 L514.0,322.8 L513.0,323.2 L512.0,323.4Z" fill="#fda700"/>
<path d="M447.7,322.3 L447.0,322.3 L446.3,322.1 L446.2,322.0 L446.2,321.7 L446.7,321.3 L448.0,321.0 L448.7,321.0 L449.4,321.0 L450.0,321.3 L450.0,321.7 L449.5,322.0 L448.7,322.2 L447.7,322.3Z" fill="#fda700"/>
<path d="M511.3,322.7 L510.3,322.6 L509.3,322.3 L508.7,322.0 L508.3,321.8 L507.7,321.0 L507.6,320.7 L507.4,320.0 L507.4,319.0 L507.6,318.0 L508.1,317.0 L508.8,316.0 L509.7,315.2 L510.7,314.6 L512.0,314.0 L513.3,313.7 L514.3,313.7 L515.3,313.8 L516.3,314.2 L516.9,314.7 L517.2,315.0 L517.5,315.7 L517.7,316.3 L517.7,317.0 L517.6,317.7 L517.4,318.3 L517.0,319.2 L516.5,320.0 L516.0,320.5 L515.3,321.1 L514.7,321.6 L513.9,322.0 L513.0,322.4 L512.0,322.6 L511.3,322.7Z" fill="#ff6300"/>
<path d="M512.3,321.7 L511.3,321.8 L510.3,321.7 L509.7,321.5 L509.0,321.0 L508.6,320.3 L508.4,319.7 L508.4,318.7 L508.7,317.8 L509.3,316.7 L510.0,316.0 L510.9,315.3 L511.7,315.0 L512.7,314.6 L513.7,314.5 L514.7,314.6 L515.3,314.8 L515.8,315.0 L516.2,315.3 L516.4,315.7 L516.7,316.2 L516.8,316.7 L516.8,317.3 L516.5,318.3 L516.0,319.3 L515.4,320.0 L515.0,320.4 L514.3,320.9 L513.7,321.3 L513.0,321.5 L512.3,321.7Z" fill="#fc2100"/>
<path d="M512.7,320.7 L512.0,320.9 L511.3,320.9 L510.7,320.7 L510.0,320.3 L509.7,319.9 L509.5,319.3 L509.5,318.7 L509.6,318.0 L510.0,317.4 L510.3,316.9 L511.0,316.3 L511.7,315.9 L512.3,315.6 L513.3,315.4 L514.0,315.5 L514.7,315.6 L515.2,316.0 L515.5,316.3 L515.6,316.7 L515.7,317.3 L515.7,317.9 L515.5,318.3 L515.0,319.2 L514.3,319.8 L513.6,320.3 L512.7,320.7Z" fill="#eb0000"/>
</g>
<g stroke="none">
<path d="M592.0,338.7 L588.3,338.9 L586.3,338.9 L584.3,338.8 L582.3,338.6 L580.3,338.3 L577.0,337.6 L573.7,336.6 L572.0,335.9 L570.3,335.2 L567.7,333.8 L566.3,333.0 L565.0,332.0 L563.8,331.0 L562.7,330.0 L561.8,329.0 L560.8,327.7 L559.9,326.3 L559.3,325.3 L558.7,324.0 L558.4,323.0 L558.2,322.0 L558.2,321.0 L558.3,320.0 L558.5,319.0 L558.8,318.0 L559.4,316.7 L559.9,315.7 L560.6,314.7 L561.5,313.7 L562.7,312.5 L564.0,311.4 L565.3,310.5 L566.7,309.7 L568.3,308.9 L570.0,308.2 L572.0,307.4 L575.0,306.6 L578.0,305.9 L580.7,305.5 L587.7,304.4 L591.0,303.7 L592.5,303.3 L594.4,302.7 L603.7,298.8 L606.3,297.9 L608.7,297.1 L611.7,296.3 L614.3,295.7 L617.3,295.3 L620.3,295.0 L622.7,295.0 L625.0,295.1 L627.7,295.4 L630.0,295.8 L632.7,296.4 L635.0,297.1 L641.7,299.4 L644.0,300.1 L647.0,300.7 L651.7,301.2 L653.7,301.5 L655.3,301.9 L657.3,302.4 L659.0,303.1 L660.3,303.7 L661.7,304.5 L663.1,305.7 L664.1,306.7 L665.1,308.0 L665.9,309.3 L666.5,310.7 L667.0,312.3 L667.2,314.0 L667.3,315.7 L667.1,317.3 L666.7,319.0 L666.1,320.7 L665.1,322.7 L664.1,324.3 L662.8,326.0 L661.3,327.7 L659.7,329.3 L658.0,330.7 L656.3,331.9 L654.3,333.1 L652.3,334.2 L650.0,335.2 L648.3,335.8 L647.0,336.2 L645.7,336.5 L644.0,336.8 L642.7,336.9 L641.0,337.0 L638.3,337.0 L636.0,336.7 L633.7,336.1 L631.7,335.4 L627.3,333.8 L625.3,333.2 L624.0,333.0 L622.7,332.8 L621.0,332.8 L619.3,332.9 L617.7,333.0 L615.3,333.3 L611.7,334.0 L608.8,334.7 L601.7,336.8 L599.0,337.5 L595.7,338.2 L592.0,338.7Z" fill="#0000eb"/>
<path d="M591.7,337.0 L588.3,337.2 L585.0,337.1 L581.7,336.8 L578.3,336.1 L576.7,335.7 L575.0,335.1 L572.3,334.1 L571.0,333.4 L569.7,332.7 L568.3,331.8 L567.3,331.1 L566.3,330.3 L565.3,329.3 L564.4,328.3 L563.6,327.3 L562.9,326.3 L562.1,325.0 L561.6,324.0 L561.3,323.0 L561.2,322.3 L561.1,321.3 L561.2,320.7 L561.4,319.7 L561.8,318.7 L562.3,317.7 L562.9,316.7 L563.6,315.7 L564.4,314.7 L565.4,313.7 L566.3,312.9 L567.7,312.0 L569.0,311.2 L570.3,310.5 L572.0,309.8 L573.7,309.2 L576.0,308.5 L579.0,307.8 L582.0,307.3 L588.0,306.4 L590.0,306.0 L591.3,305.7 L593.3,305.1 L595.0,304.4 L603.7,300.6 L606.3,299.5 L608.3,298.8 L611.0,298.1 L614.0,297.4 L617.0,296.9 L619.7,296.7 L622.0,296.7 L624.0,296.8 L626.3,297.1 L628.7,297.5 L631.3,298.1 L633.7,298.8 L636.0,299.6 L640.3,301.4 L642.3,302.0 L643.7,302.3 L645.0,302.5 L650.0,302.9 L652.3,303.2 L654.3,303.5 L656.3,304.1 L658.0,304.7 L659.3,305.4 L660.3,306.0 L661.5,307.0 L662.5,308.0 L663.3,309.0 L663.8,310.0 L664.4,311.3 L664.8,312.7 L665.0,314.3 L665.0,316.0 L664.8,317.7 L664.4,319.3 L663.8,321.0 L662.9,322.7 L662.1,324.0 L660.8,325.7 L659.7,327.0 L658.0,328.6 L656.3,330.0 L654.7,331.1 L653.0,332.1 L651.0,333.1 L649.0,333.9 L646.3,334.7 L643.7,335.2 L641.0,335.4 L639.7,335.4 L638.3,335.3 L636.0,334.9 L633.7,334.2 L632.0,333.5 L628.0,331.7 L626.0,331.0 L625.0,330.8 L623.7,330.6 L622.3,330.6 L620.7,330.6 L618.7,330.8 L616.3,331.0 L614.0,331.4 L611.7,331.8 L608.3,332.7 L601.7,334.9 L598.3,335.8 L595.0,336.6 L591.7,337.0Z" fill="#000ef5"/>
<path d="M590.7,335.7 L587.7,335.8 L584.7,335.7 L582.0,335.4 L579.0,334.8 L576.3,334.0 L573.7,333.0 L571.3,331.8 L569.2,330.3 L568.3,329.6 L567.3,328.7 L566.4,327.7 L565.6,326.7 L564.8,325.7 L564.2,324.7 L563.7,323.7 L563.5,323.0 L563.4,322.3 L563.4,321.7 L563.5,321.0 L563.8,320.0 L564.6,318.3 L565.7,316.7 L566.5,315.7 L567.5,314.7 L568.7,313.7 L569.7,313.1 L570.7,312.4 L572.0,311.7 L573.3,311.2 L575.0,310.5 L577.3,309.8 L580.0,309.2 L582.3,308.8 L588.3,308.0 L590.0,307.6 L591.7,307.2 L593.5,306.7 L595.2,306.0 L603.3,302.2 L605.7,301.2 L608.3,300.2 L611.0,299.4 L613.7,298.8 L616.0,298.5 L618.7,298.2 L621.3,298.2 L624.0,298.4 L626.7,298.8 L629.0,299.3 L631.0,299.9 L632.7,300.5 L634.5,301.3 L638.3,303.3 L639.3,303.7 L640.7,304.1 L641.7,304.2 L643.0,304.3 L648.3,304.4 L650.7,304.5 L653.0,304.8 L655.3,305.3 L656.7,305.8 L658.0,306.5 L659.3,307.3 L660.2,308.0 L661.2,309.0 L661.9,310.0 L662.4,311.0 L662.8,312.0 L663.2,313.3 L663.4,315.0 L663.3,316.7 L663.1,318.0 L662.6,319.7 L662.1,321.0 L661.2,322.7 L660.3,324.0 L659.3,325.3 L658.0,326.8 L656.7,328.0 L655.0,329.4 L653.3,330.5 L651.7,331.4 L650.0,332.2 L648.0,332.9 L645.7,333.6 L644.3,333.8 L643.0,334.0 L641.7,334.1 L640.3,334.1 L638.0,333.8 L635.7,333.3 L633.7,332.6 L632.0,331.8 L628.3,329.7 L626.7,329.1 L625.7,328.8 L624.7,328.6 L623.3,328.5 L622.0,328.6 L620.0,328.7 L617.0,329.1 L614.0,329.6 L611.7,330.0 L608.0,331.0 L600.7,333.5 L597.7,334.5 L594.3,335.2 L592.3,335.5 L590.7,335.7Z" fill="#001dfe"/>
<path d="M591.3,334.4 L589.0,334.5 L586.3,334.6 L584.0,334.4 L581.3,334.0 L579.0,333.5 L576.7,332.7 L574.7,331.9 L572.7,330.8 L570.7,329.5 L569.0,328.0 L568.0,327.0 L567.1,326.0 L566.4,325.0 L566.0,324.3 L565.7,323.7 L565.4,323.0 L565.3,322.0 L565.4,321.3 L565.6,320.7 L566.2,319.3 L567.0,318.1 L567.9,317.0 L568.9,316.0 L570.0,315.0 L571.0,314.2 L572.3,313.4 L573.7,312.7 L575.0,312.2 L577.3,311.4 L580.0,310.7 L582.7,310.2 L589.0,309.3 L591.0,308.9 L592.7,308.4 L594.0,308.0 L595.7,307.3 L597.7,306.4 L603.3,303.5 L605.7,302.5 L607.7,301.7 L610.3,300.9 L612.7,300.3 L615.0,299.9 L617.3,299.6 L620.3,299.5 L623.3,299.8 L626.0,300.3 L627.3,300.6 L628.7,301.1 L630.7,302.0 L632.3,303.0 L633.4,304.0 L634.9,306.0 L635.2,306.3 L635.7,306.6 L636.3,306.9 L637.0,306.9 L638.0,306.9 L644.3,306.0 L646.3,305.8 L648.0,305.7 L650.0,305.7 L651.7,305.9 L653.3,306.2 L654.7,306.5 L655.7,306.9 L657.0,307.5 L658.0,308.0 L659.0,308.8 L659.9,309.7 L660.6,310.7 L661.1,311.7 L661.5,312.7 L661.8,314.0 L661.9,315.3 L661.9,316.7 L661.7,318.0 L661.3,319.3 L660.8,320.7 L660.1,322.0 L659.1,323.7 L658.1,325.0 L656.8,326.3 L655.4,327.7 L654.0,328.7 L652.7,329.6 L651.0,330.5 L649.3,331.3 L647.7,331.9 L645.3,332.5 L644.0,332.7 L642.7,332.9 L641.3,332.9 L640.0,332.9 L637.7,332.5 L635.7,332.0 L633.7,331.1 L632.0,330.1 L629.0,328.0 L627.3,327.1 L626.3,326.8 L625.3,326.6 L624.3,326.5 L623.3,326.5 L621.3,326.7 L618.0,327.2 L614.0,327.8 L611.0,328.5 L609.0,329.0 L607.0,329.6 L600.3,332.2 L597.7,333.0 L594.3,333.9 L591.3,334.4Z" fill="#0051ff"/>
<path d="M590.7,333.4 L588.7,333.5 L586.3,333.5 L584.3,333.4 L582.0,333.1 L579.7,332.5 L577.7,331.9 L575.7,331.1 L574.0,330.2 L572.2,329.0 L570.3,327.5 L568.7,325.8 L568.0,325.0 L567.5,324.3 L567.1,323.3 L566.9,322.3 L567.0,321.3 L567.2,320.7 L567.5,320.0 L568.2,319.0 L569.0,318.0 L570.3,316.7 L571.3,315.8 L572.3,315.1 L573.5,314.3 L574.7,313.7 L576.0,313.1 L578.0,312.4 L580.7,311.7 L583.3,311.3 L589.7,310.3 L591.4,310.0 L593.0,309.6 L594.7,309.0 L596.3,308.3 L603.7,304.5 L605.7,303.6 L607.7,302.8 L610.0,302.0 L612.3,301.4 L614.3,301.1 L616.7,300.8 L618.3,300.7 L620.0,300.8 L621.7,300.9 L623.3,301.2 L625.0,301.6 L626.3,302.1 L627.5,302.7 L628.5,303.3 L629.0,303.8 L629.5,304.3 L629.7,304.7 L629.9,305.3 L630.0,306.0 L630.0,306.7 L629.5,309.7 L629.4,310.7 L629.6,311.3 L629.7,311.7 L630.0,312.0 L630.3,312.2 L630.7,312.4 L631.0,312.4 L631.7,312.4 L633.0,312.0 L634.3,311.4 L638.3,309.2 L640.0,308.5 L642.0,307.8 L643.7,307.4 L645.7,307.0 L647.7,306.8 L649.7,306.8 L651.7,307.0 L653.7,307.3 L655.3,307.9 L656.9,308.7 L657.7,309.2 L658.3,309.7 L659.2,310.7 L659.7,311.3 L660.0,312.0 L660.5,313.3 L660.7,314.3 L660.8,315.7 L660.7,317.0 L660.5,318.3 L660.1,319.7 L659.5,321.0 L658.8,322.3 L657.9,323.7 L656.8,325.0 L655.7,326.2 L654.3,327.3 L653.0,328.3 L651.7,329.1 L650.3,329.9 L648.7,330.6 L647.0,331.2 L645.7,331.5 L644.3,331.8 L643.0,331.9 L641.7,332.0 L640.3,331.9 L639.3,331.8 L638.0,331.6 L637.0,331.3 L635.3,330.7 L633.5,329.7 L632.2,328.7 L629.3,326.2 L628.0,325.2 L627.3,324.9 L626.3,324.5 L625.3,324.4 L624.3,324.4 L623.0,324.5 L621.0,324.9 L613.7,326.4 L610.7,327.1 L608.7,327.7 L606.7,328.3 L600.3,330.9 L597.3,331.9 L595.7,332.4 L594.0,332.8 L592.3,333.1 L590.7,333.4Z" fill="#0089ff"/>
<path d="M589.0,332.3 L587.0,332.4 L585.0,332.3 L583.3,332.1 L581.3,331.7 L579.3,331.2 L577.7,330.6 L576.0,329.8 L574.7,329.1 L573.0,328.0 L571.3,326.6 L570.0,325.4 L569.2,324.3 L568.7,323.3 L568.5,322.3 L568.6,321.3 L569.1,320.3 L569.9,319.3 L570.7,318.5 L571.7,317.6 L573.0,316.5 L574.0,315.8 L575.0,315.2 L576.0,314.7 L577.3,314.1 L579.3,313.4 L581.7,312.8 L584.0,312.4 L590.3,311.5 L592.0,311.2 L593.7,310.7 L595.3,310.2 L597.0,309.4 L603.7,305.8 L605.7,304.8 L607.3,304.1 L609.3,303.4 L611.7,302.8 L613.7,302.4 L615.7,302.2 L617.3,302.1 L619.0,302.2 L620.7,302.4 L622.0,302.7 L623.3,303.1 L624.4,303.7 L625.3,304.3 L625.8,305.0 L626.0,305.3 L626.3,306.0 L626.4,307.0 L626.3,308.0 L625.7,311.7 L625.6,313.0 L625.7,314.0 L625.9,315.3 L626.3,316.9 L627.0,318.4 L627.3,319.0 L627.7,318.9 L628.7,318.2 L635.5,313.0 L637.3,311.7 L638.7,310.9 L640.7,309.8 L642.3,309.2 L644.3,308.5 L646.0,308.2 L648.3,307.9 L650.7,308.0 L652.7,308.2 L653.7,308.5 L654.7,308.8 L655.7,309.3 L656.3,309.7 L657.0,310.1 L657.7,310.7 L658.2,311.3 L658.7,312.0 L659.0,312.7 L659.4,313.7 L659.6,314.7 L659.7,316.0 L659.5,317.3 L659.2,318.7 L658.8,320.0 L658.2,321.3 L657.6,322.3 L656.6,323.7 L655.5,325.0 L654.4,326.0 L653.3,326.9 L652.0,327.8 L650.7,328.6 L649.3,329.3 L648.0,329.8 L646.3,330.4 L644.7,330.7 L643.3,330.9 L641.7,331.0 L640.3,330.9 L639.0,330.8 L637.7,330.4 L636.3,329.9 L635.3,329.4 L634.3,328.7 L633.5,328.0 L632.8,327.3 L631.9,326.3 L630.9,325.0 L629.8,323.3 L627.4,319.3 L627.3,319.1 L627.1,319.3 L626.7,319.5 L624.1,321.0 L622.8,321.7 L620.7,322.5 L617.7,323.5 L611.3,325.2 L608.7,326.0 L605.7,327.2 L599.3,329.9 L597.0,330.7 L595.0,331.4 L593.0,331.8 L591.0,332.2 L589.0,332.3Z" fill="#00c3f6"/>
<path d="M588.7,331.3 L587.0,331.4 L585.3,331.3 L583.7,331.1 L582.0,330.8 L580.7,330.5 L579.0,329.9 L577.3,329.2 L576.0,328.5 L574.3,327.5 L572.7,326.3 L571.5,325.3 L570.6,324.3 L570.0,323.3 L569.9,322.7 L569.9,322.0 L569.9,321.7 L570.2,321.0 L570.7,320.3 L571.3,319.6 L572.3,318.6 L573.3,317.8 L574.7,316.9 L575.7,316.3 L576.8,315.7 L578.0,315.1 L580.0,314.4 L582.3,313.8 L584.7,313.4 L591.3,312.5 L593.0,312.2 L594.8,311.7 L596.3,311.1 L598.0,310.3 L603.1,307.3 L605.3,306.2 L607.7,305.1 L610.0,304.4 L612.0,303.8 L614.0,303.5 L616.0,303.4 L618.0,303.5 L619.7,303.8 L621.0,304.2 L622.0,304.8 L622.7,305.3 L622.9,305.7 L623.3,306.3 L623.6,307.0 L623.6,307.7 L623.7,308.3 L623.4,310.3 L622.6,315.3 L622.1,317.0 L621.7,318.0 L621.0,319.0 L619.9,320.0 L618.7,320.8 L616.9,321.7 L615.1,322.3 L610.3,323.8 L608.0,324.7 L606.0,325.6 L600.3,328.2 L597.0,329.6 L595.0,330.2 L592.7,330.8 L590.7,331.2 L588.7,331.3Z" fill="#00efd8"/>
<path d="M644.0,330.0 L642.7,330.2 L641.3,330.2 L640.0,330.0 L638.7,329.8 L637.4,329.3 L636.3,328.8 L635.3,328.2 L634.4,327.3 L633.6,326.3 L632.9,325.3 L632.3,324.0 L631.8,322.7 L631.7,321.3 L631.7,320.3 L632.0,319.3 L632.5,318.3 L633.1,317.3 L634.3,316.0 L635.7,314.7 L637.2,313.3 L638.7,312.3 L640.3,311.3 L642.0,310.5 L643.3,309.9 L644.7,309.5 L646.3,309.1 L648.0,308.9 L649.7,308.8 L651.3,309.0 L652.7,309.2 L654.0,309.6 L655.3,310.2 L656.5,311.0 L657.4,312.0 L657.9,312.7 L658.2,313.3 L658.6,314.7 L658.7,315.3 L658.7,316.3 L658.5,318.0 L657.9,319.7 L657.2,321.3 L656.1,323.0 L654.9,324.3 L653.3,325.9 L651.7,327.1 L650.0,328.1 L648.0,329.0 L646.0,329.6 L644.0,330.0Z" fill="#00efd8"/>
<path d="M590.7,330.0 L589.0,330.2 L587.3,330.3 L585.7,330.2 L584.3,330.1 L582.7,329.8 L581.0,329.4 L579.3,328.8 L578.0,328.3 L576.3,327.4 L574.7,326.5 L573.3,325.5 L572.4,324.7 L571.7,323.7 L571.4,323.0 L571.3,322.3 L571.4,322.0 L571.6,321.3 L572.1,320.7 L572.7,320.0 L574.3,318.7 L576.7,317.3 L579.0,316.2 L581.0,315.5 L583.3,314.9 L585.7,314.5 L592.3,313.7 L594.0,313.4 L595.7,312.9 L597.1,312.3 L598.7,311.5 L603.4,308.7 L605.7,307.4 L607.7,306.5 L609.7,305.8 L611.3,305.3 L613.0,305.0 L614.7,304.9 L616.0,305.0 L617.3,305.2 L618.3,305.5 L619.4,306.0 L620.1,306.7 L620.4,307.0 L620.7,307.7 L620.9,308.3 L621.0,309.0 L620.9,310.7 L620.5,312.7 L619.8,314.7 L619.0,316.3 L618.1,317.7 L617.0,318.7 L615.7,319.6 L614.2,320.3 L612.6,321.0 L608.7,322.4 L607.0,323.2 L605.7,323.9 L601.4,326.3 L598.3,327.8 L596.3,328.6 L594.3,329.2 L592.3,329.7 L590.7,330.0Z" fill="#00fc88"/>
<path d="M645.0,329.0 L643.7,329.2 L642.3,329.3 L641.0,329.3 L639.7,329.1 L638.7,328.8 L637.6,328.3 L636.7,327.8 L635.7,327.0 L635.1,326.3 L634.5,325.3 L633.9,324.0 L633.6,323.0 L633.5,321.7 L633.6,320.7 L633.9,319.7 L634.3,318.7 L634.9,317.7 L635.9,316.3 L636.8,315.3 L637.9,314.3 L639.3,313.2 L640.7,312.4 L642.0,311.6 L643.3,311.0 L644.7,310.6 L646.3,310.1 L648.0,309.9 L649.3,309.8 L650.7,309.9 L652.0,310.1 L653.3,310.4 L654.3,310.8 L655.3,311.4 L656.3,312.4 L657.0,313.4 L657.3,314.0 L657.5,314.7 L657.7,316.0 L657.6,316.7 L657.5,317.7 L657.2,319.0 L656.5,320.7 L655.5,322.3 L654.4,323.7 L653.0,325.0 L651.7,326.1 L650.3,327.0 L648.7,327.8 L647.0,328.5 L645.0,329.0Z" fill="#00fc88"/>
<path d="M590.3,329.0 L589.0,329.2 L587.3,329.2 L585.7,329.2 L584.3,329.0 L583.0,328.8 L581.7,328.5 L580.3,328.1 L578.7,327.5 L577.0,326.7 L575.7,326.0 L574.7,325.3 L573.7,324.5 L573.0,323.7 L572.7,323.0 L572.7,322.3 L572.9,321.7 L573.3,321.0 L573.9,320.3 L574.7,319.8 L575.7,319.1 L577.0,318.4 L578.3,317.7 L579.7,317.2 L581.0,316.7 L583.0,316.2 L585.3,315.8 L587.3,315.5 L592.0,315.1 L594.0,314.8 L595.7,314.5 L597.3,313.9 L598.3,313.5 L599.7,312.8 L603.9,310.0 L605.7,308.9 L607.7,307.9 L609.7,307.2 L611.0,306.8 L612.3,306.6 L613.7,306.5 L614.7,306.6 L615.7,306.8 L616.3,307.0 L617.0,307.4 L617.7,308.0 L618.0,308.4 L618.2,309.0 L618.4,310.0 L618.3,311.3 L618.0,312.7 L617.5,314.0 L616.7,315.3 L615.9,316.3 L614.7,317.4 L613.3,318.3 L612.0,319.0 L607.3,320.8 L605.7,321.6 L604.3,322.5 L601.2,325.0 L599.7,326.0 L598.3,326.7 L596.3,327.5 L594.3,328.2 L592.3,328.7 L590.3,329.0Z" fill="#3bff38"/>
<path d="M644.3,328.4 L643.0,328.5 L642.0,328.5 L640.7,328.4 L639.7,328.2 L638.7,327.8 L637.7,327.3 L636.8,326.7 L636.2,326.0 L635.7,325.3 L635.3,324.3 L635.0,323.3 L634.9,322.3 L634.9,321.3 L635.1,320.3 L635.4,319.3 L635.9,318.3 L636.6,317.3 L637.4,316.3 L638.3,315.3 L639.5,314.3 L640.7,313.5 L641.7,312.9 L643.0,312.2 L644.3,311.6 L645.7,311.2 L647.0,310.9 L648.3,310.7 L649.7,310.7 L651.0,310.8 L652.0,310.9 L653.0,311.2 L654.0,311.7 L655.0,312.4 L655.8,313.3 L656.4,314.3 L656.6,315.0 L656.7,315.7 L656.7,317.0 L656.5,318.3 L656.0,319.7 L655.4,321.0 L654.5,322.3 L653.3,323.7 L652.0,324.9 L650.7,325.9 L649.0,326.9 L647.7,327.5 L646.0,328.0 L644.3,328.4Z" fill="#3bff38"/>
<path d="M590.3,328.0 L589.0,328.1 L587.3,328.2 L586.0,328.2 L584.7,328.1 L583.3,327.9 L582.0,327.6 L580.7,327.2 L579.3,326.8 L578.0,326.2 L577.0,325.7 L575.9,325.0 L575.1,324.3 L574.5,323.7 L574.2,323.0 L574.2,322.3 L574.3,322.0 L574.7,321.3 L575.3,320.7 L576.0,320.2 L577.0,319.6 L578.0,319.1 L579.7,318.5 L581.3,317.9 L582.7,317.6 L585.0,317.1 L587.3,316.9 L589.7,316.7 L594.3,316.6 L596.3,316.5 L597.7,316.3 L599.0,315.9 L600.0,315.5 L601.0,314.9 L602.0,314.1 L604.5,312.0 L606.4,310.7 L608.0,309.8 L609.7,309.2 L610.4,309.0 L611.3,308.9 L612.7,308.9 L613.3,309.0 L614.0,309.3 L614.3,309.5 L614.7,309.9 L614.9,310.3 L615.1,311.0 L615.1,311.7 L614.8,312.7 L614.3,313.6 L613.8,314.3 L613.2,315.0 L612.4,315.7 L611.3,316.3 L610.0,317.0 L608.3,317.6 L604.7,318.8 L603.7,319.3 L603.1,319.7 L602.7,320.0 L602.0,320.7 L600.7,323.0 L599.9,324.0 L598.8,325.0 L597.7,325.7 L596.0,326.5 L594.3,327.1 L592.3,327.6 L590.3,328.0Z" fill="#85fe00"/>
<path d="M643.7,327.7 L642.7,327.7 L641.7,327.7 L640.7,327.5 L639.7,327.2 L638.7,326.8 L638.0,326.3 L637.4,325.7 L636.9,325.0 L636.5,324.3 L636.2,323.3 L636.2,322.7 L636.2,321.7 L636.2,321.0 L636.5,320.0 L636.9,319.0 L637.5,318.0 L638.2,317.0 L639.1,316.0 L640.0,315.2 L641.0,314.4 L642.0,313.8 L643.0,313.2 L644.0,312.7 L645.3,312.2 L646.7,311.9 L647.7,311.7 L649.0,311.6 L650.0,311.6 L651.0,311.7 L652.0,311.9 L653.0,312.3 L653.7,312.7 L654.5,313.3 L655.0,313.9 L655.2,314.3 L655.6,315.3 L655.8,316.3 L655.8,317.3 L655.5,318.7 L655.0,320.0 L654.2,321.3 L653.3,322.5 L652.2,323.7 L651.0,324.7 L649.7,325.6 L648.0,326.5 L646.7,327.0 L645.0,327.5 L643.7,327.7Z" fill="#85fe00"/>
<path d="M645.3,326.7 L644.3,326.9 L643.3,327.0 L642.3,327.0 L641.3,326.8 L640.3,326.6 L639.7,326.3 L639.0,325.9 L638.4,325.3 L637.9,324.7 L637.6,324.0 L637.4,323.3 L637.2,322.3 L637.2,321.7 L637.4,320.7 L637.8,319.7 L638.1,319.0 L638.4,318.3 L639.2,317.3 L640.0,316.4 L640.8,315.7 L641.7,315.0 L642.7,314.3 L643.7,313.8 L644.7,313.3 L646.0,312.9 L647.0,312.6 L648.0,312.5 L649.0,312.4 L650.0,312.4 L651.0,312.5 L652.0,312.8 L652.7,313.1 L653.5,313.7 L654.1,314.3 L654.5,315.0 L654.8,316.0 L654.9,317.0 L654.8,318.0 L654.5,319.0 L653.9,320.3 L653.3,321.3 L652.3,322.6 L651.3,323.5 L650.3,324.3 L649.3,325.0 L648.0,325.7 L646.7,326.3 L645.3,326.7Z" fill="#d0fb00"/>
<path d="M588.0,327.3 L585.7,327.3 L583.3,327.0 L581.0,326.5 L579.0,325.7 L577.3,324.9 L576.7,324.4 L576.2,324.0 L575.7,323.3 L575.6,323.0 L575.6,322.7 L575.6,322.3 L575.7,322.0 L576.2,321.3 L577.1,320.7 L578.3,320.0 L579.7,319.5 L581.0,319.1 L583.0,318.6 L585.0,318.3 L586.7,318.2 L588.7,318.1 L590.7,318.2 L592.7,318.4 L594.3,318.7 L595.7,319.1 L596.7,319.5 L597.3,320.0 L597.9,320.7 L598.1,321.0 L598.3,321.7 L598.4,322.3 L598.3,323.0 L598.0,323.7 L597.7,324.0 L597.1,324.7 L596.6,325.0 L596.0,325.4 L595.0,325.9 L593.0,326.6 L590.7,327.1 L589.3,327.2 L588.0,327.3Z" fill="#d0fb00"/>
<path d="M644.7,326.0 L643.0,326.2 L642.0,326.1 L641.3,325.9 L640.7,325.7 L640.0,325.3 L639.3,324.7 L639.0,324.3 L638.6,323.7 L638.4,323.0 L638.3,322.3 L638.4,321.7 L638.5,321.0 L638.6,320.3 L638.9,319.7 L639.4,318.7 L640.4,317.3 L641.1,316.7 L642.0,315.8 L643.7,314.7 L644.7,314.3 L645.7,313.9 L646.7,313.6 L647.7,313.4 L649.3,313.3 L650.3,313.4 L651.0,313.5 L651.7,313.7 L652.3,314.1 L653.0,314.7 L653.5,315.3 L653.8,316.0 L653.9,317.0 L653.9,317.7 L653.7,318.7 L653.3,319.7 L652.8,320.7 L652.1,321.7 L651.3,322.5 L650.3,323.4 L649.3,324.2 L648.3,324.8 L647.0,325.4 L645.7,325.8 L644.7,326.0Z" fill="#f8de00"/>
<path d="M589.3,326.4 L587.3,326.5 L585.0,326.4 L583.0,326.1 L581.0,325.6 L579.3,324.9 L578.3,324.3 L577.9,324.0 L577.6,323.7 L577.4,323.3 L577.3,323.0 L577.2,322.7 L577.3,322.3 L577.7,321.8 L578.2,321.3 L579.0,320.9 L580.3,320.3 L581.7,319.9 L583.3,319.6 L585.0,319.4 L586.7,319.3 L588.3,319.4 L589.7,319.5 L591.0,319.7 L592.3,320.0 L593.3,320.4 L594.3,320.8 L595.0,321.3 L595.6,322.0 L595.9,322.7 L595.8,323.3 L595.5,324.0 L594.7,324.7 L593.5,325.3 L592.3,325.8 L591.0,326.1 L589.3,326.4Z" fill="#f8de00"/>
<path d="M644.0,325.4 L642.7,325.3 L642.0,325.2 L641.3,324.9 L640.9,324.7 L640.3,324.2 L640.0,323.9 L639.7,323.3 L639.4,322.3 L639.4,321.7 L639.5,321.0 L639.7,320.3 L639.9,319.7 L640.7,318.3 L641.7,317.2 L643.0,316.1 L644.3,315.3 L646.0,314.6 L647.7,314.2 L648.7,314.1 L649.3,314.1 L650.0,314.2 L650.7,314.4 L651.7,314.9 L652.2,315.3 L652.7,316.0 L652.9,316.7 L653.0,317.3 L653.0,318.0 L652.7,319.0 L652.3,320.0 L651.7,321.0 L651.0,321.8 L650.1,322.7 L649.3,323.3 L648.3,324.0 L647.3,324.5 L646.3,324.9 L645.0,325.2 L644.0,325.4Z" fill="#fda700"/>
<path d="M588.0,325.7 L586.3,325.7 L584.7,325.6 L583.2,325.3 L581.7,324.9 L580.3,324.4 L579.7,323.9 L579.4,323.7 L579.1,323.3 L579.0,323.0 L579.0,322.7 L579.1,322.3 L579.3,322.1 L579.8,321.7 L580.4,321.3 L581.3,321.0 L582.3,320.7 L583.7,320.5 L585.0,320.4 L586.3,320.3 L588.7,320.5 L590.0,320.7 L591.0,321.0 L591.9,321.3 L592.5,321.7 L593.0,322.0 L593.3,322.3 L593.5,322.7 L593.6,323.0 L593.6,323.3 L593.5,323.7 L593.0,324.2 L592.3,324.7 L591.5,325.0 L590.3,325.3 L589.3,325.5 L588.0,325.7Z" fill="#fda700"/>
<path d="M645.3,324.4 L644.0,324.6 L643.3,324.5 L642.7,324.4 L641.7,324.0 L641.0,323.4 L640.6,322.7 L640.4,321.7 L640.6,320.7 L640.8,320.0 L641.1,319.3 L642.0,318.1 L643.0,317.1 L644.3,316.2 L645.7,315.5 L647.0,315.1 L648.3,314.9 L649.0,315.0 L649.7,315.1 L650.7,315.4 L651.3,315.9 L651.6,316.3 L651.8,316.7 L652.0,317.3 L652.0,318.0 L651.9,318.7 L651.7,319.4 L651.2,320.3 L650.7,321.0 L650.2,321.7 L649.5,322.3 L648.7,322.9 L648.0,323.4 L647.0,323.9 L646.3,324.1 L645.3,324.4Z" fill="#ff6300"/>
<path d="M588.7,324.7 L587.3,324.8 L586.0,324.9 L584.7,324.7 L583.3,324.5 L582.1,324.0 L581.5,323.7 L581.2,323.3 L581.1,323.0 L581.1,322.7 L581.4,322.3 L581.9,322.0 L582.7,321.7 L584.3,321.4 L586.0,321.3 L587.7,321.4 L589.1,321.7 L590.0,322.0 L590.6,322.3 L591.0,322.7 L591.1,323.0 L591.1,323.3 L591.0,323.7 L590.7,324.0 L590.0,324.3 L588.7,324.7Z" fill="#ff6300"/>
<path d="M645.0,323.7 L644.0,323.7 L643.0,323.5 L642.6,323.3 L642.2,323.0 L641.9,322.7 L641.7,322.3 L641.5,321.7 L641.6,320.7 L642.0,319.7 L642.4,319.0 L643.2,318.0 L644.0,317.3 L645.1,316.7 L646.3,316.1 L647.3,315.9 L648.3,315.8 L649.3,316.0 L650.1,316.3 L650.5,316.7 L650.7,317.0 L650.9,317.3 L651.0,318.0 L650.9,319.0 L650.6,319.7 L650.3,320.3 L649.3,321.5 L648.7,322.0 L648.0,322.5 L647.2,323.0 L646.4,323.3 L645.0,323.7Z" fill="#fc2100"/>
<path d="M586.7,323.4 L586.0,323.5 L585.3,323.4 L585.1,323.3 L584.8,323.0 L585.3,322.8 L586.0,322.7 L586.7,322.8 L587.1,323.0 L587.0,323.3 L586.7,323.4Z" fill="#fc2100"/>
<path d="M645.3,322.7 L644.3,322.7 L643.7,322.5 L643.3,322.3 L643.0,322.0 L642.8,321.7 L642.7,321.0 L642.8,320.3 L643.1,319.7 L643.5,319.0 L644.2,318.3 L645.0,317.7 L645.7,317.3 L646.5,317.0 L647.3,316.8 L648.0,316.8 L648.7,316.9 L649.3,317.3 L649.6,317.7 L649.8,318.0 L649.9,318.7 L649.7,319.5 L649.2,320.3 L648.3,321.3 L647.3,322.0 L646.3,322.5 L645.3,322.7Z" fill="#eb0000"/>
</g>
<rect x="282.30" y="248.60" width="129.60" height="130.00" fill="none" stroke="#222" stroke-width="1" />
<rect x="417.90" y="248.60" width="129.50" height="130.00" fill="none" stroke="#222" stroke-width="1" />
<rect x="554.40" y="248.60" width="130.30" height="130.00" fill="none" stroke="#222" stroke-width="1" />
<rect x="355.10" y="290.60" width="50.80" height="54.00" fill="none" stroke="#222" stroke-width="0.8" />
<rect x="489.30" y="293.20" width="50.80" height="53.90" fill="none" stroke="#222" stroke-width="0.8" />
<rect x="625.30" y="292.30" width="51.10" height="53.70" fill="none" stroke="#222" stroke-width="0.8" />
<text x="348.40" y="243.60" font-size="8.8" text-anchor="middle" stroke="#111111" stroke-width="0.22">αPD-1</text>
<text x="483.20" y="243.60" font-size="8.8" text-anchor="middle" stroke="#111111" stroke-width="0.22"><tspan font-style="italic">L. j</tspan>+αPD-1</text>
<text x="617.20" y="243.60" font-size="8.8" text-anchor="middle" stroke="#111111" stroke-width="0.22">IPA+αPD-1</text>
<text x="350.00" y="278.30" font-size="8.8" text-anchor="middle" stroke="#111111" stroke-width="0.22">28.0%</text>
<text x="485.60" y="278.30" font-size="8.8" text-anchor="middle" stroke="#111111" stroke-width="0.22">43.4%</text>
<text x="621.90" y="278.30" font-size="8.8" text-anchor="middle" stroke="#111111" stroke-width="0.22">44.1%</text>
<path d="M267.4,243 V287.3 M267.4,359.3 V391.6 H359.2 M589.2,391.6 H688" fill="none" stroke="#222" stroke-width="0.9"/>
<path d="M267.4,238.0 L264.2,244.6 H270.6 Z M693.0,391.6 L686.4,388.4 V394.8 Z" fill="#111"/>
<text x="272.20" y="322.80" font-size="8.8" text-anchor="middle" transform="rotate(-90 272.20 322.80)" stroke="#111111" stroke-width="0.22">SSC</text>
<text x="476.70" y="394.80" font-size="9.05" text-anchor="middle" stroke="#111111" stroke-width="0.22">CD8  Gated in CD3<tspan dy="-2.8" font-size="5.5">+</tspan><tspan dy="2.8"> T cells</tspan></text>
<text x="701.00" y="221.00" font-size="16" fill="#000" font-weight="bold">F</text>
<path d="M742.60,232.20 V369.70 H833.40" fill="none" stroke="#222222" stroke-width="1.2"/>
<line x1="737.60" y1="232.20" x2="742.60" y2="232.20" stroke="#222222" stroke-width="1" />
<text x="736.80" y="235.50" font-size="9.3" text-anchor="end" stroke="#111111" stroke-width="0.22">80</text>
<line x1="737.60" y1="301.00" x2="742.60" y2="301.00" stroke="#222222" stroke-width="1" />
<text x="736.80" y="304.30" font-size="9.3" text-anchor="end" stroke="#111111" stroke-width="0.22">40</text>
<line x1="737.60" y1="369.70" x2="742.60" y2="369.70" stroke="#222222" stroke-width="1" />
<text x="736.80" y="373.00" font-size="9.3" text-anchor="end" stroke="#111111" stroke-width="0.22">0</text>
<path d="M751.40,369.70 V320.70 H769.40 V369.70" fill="none" stroke="#0c71b9" stroke-width="0.9"/>
<path d="M760.40,316.60 V325.10 M755.80,316.60 h9.2 M755.80,325.10 h9.2" fill="none" stroke="#0c71b9" stroke-width="0.95"/>
<line x1="760.40" y1="369.70" x2="760.40" y2="373.70" stroke="#222222" stroke-width="1" />
<text x="764.60" y="378.20" font-size="8.9" text-anchor="end" transform="rotate(-45 764.60 378.20)" stroke="#111111" stroke-width="0.22">αPD-1</text>
<path d="M778.50,369.70 V296.00 H796.80 V369.70" fill="none" stroke="#f8921a" stroke-width="0.9"/>
<path d="M787.65,288.00 V303.30 M783.05,288.00 h9.2 M783.05,303.30 h9.2" fill="none" stroke="#f8921a" stroke-width="0.95"/>
<line x1="787.65" y1="369.70" x2="787.65" y2="373.70" stroke="#222222" stroke-width="1" />
<text x="791.85" y="378.20" font-size="8.9" text-anchor="end" transform="rotate(-45 791.85 378.20)" stroke="#111111" stroke-width="0.22"><tspan font-style="italic">L. j</tspan>+αPD-1</text>
<path d="M806.10,369.70 V296.70 H824.40 V369.70" fill="none" stroke="#2ca444" stroke-width="0.9"/>
<path d="M815.25,291.60 V301.20 M810.65,291.60 h9.2 M810.65,301.20 h9.2" fill="none" stroke="#2ca444" stroke-width="0.95"/>
<line x1="815.25" y1="369.70" x2="815.25" y2="373.70" stroke="#222222" stroke-width="1" />
<text x="819.45" y="378.20" font-size="8.9" text-anchor="end" transform="rotate(-45 819.45 378.20)" stroke="#111111" stroke-width="0.22">IPA+αPD-1</text>
<g fill="#0c71b9">
<circle cx="754.50" cy="309.10" r="3.05"/>
<circle cx="766.90" cy="312.70" r="3.05"/>
<circle cx="760.30" cy="314.50" r="3.05"/>
<circle cx="755.00" cy="323.80" r="3.05"/>
<circle cx="766.60" cy="323.30" r="3.05"/>
<circle cx="760.30" cy="328.20" r="3.05"/>
<circle cx="760.30" cy="335.40" r="3.05"/>
</g>
<g fill="#f8921a">
<circle cx="787.70" cy="257.30" r="3.05"/>
<circle cx="794.10" cy="289.40" r="3.05"/>
<circle cx="781.80" cy="292.60" r="3.05"/>
<circle cx="794.10" cy="295.70" r="3.05"/>
<circle cx="781.80" cy="308.00" r="3.05"/>
<circle cx="794.10" cy="308.00" r="3.05"/>
<circle cx="787.70" cy="317.80" r="3.05"/>
</g>
<g fill="#2ca444">
<circle cx="815.10" cy="270.70" r="3.05"/>
<circle cx="817.10" cy="294.70" r="3.05"/>
<circle cx="809.10" cy="297.50" r="3.05"/>
<circle cx="814.10" cy="301.40" r="3.05"/>
<circle cx="809.10" cy="304.20" r="3.05"/>
<circle cx="818.70" cy="302.90" r="3.05"/>
<circle cx="821.80" cy="302.10" r="3.05"/>
</g>
<line x1="760.20" y1="231.50" x2="815.60" y2="231.50" stroke="#2a2a2a" stroke-width="1.15" />
<text x="787.90" y="231.70" font-size="11.5" text-anchor="middle" fill="#000" font-weight="bold" stroke="#000" stroke-width="0.3" letter-spacing="0.6">*</text>
<line x1="760.20" y1="248.20" x2="788.00" y2="248.20" stroke="#2a2a2a" stroke-width="1.15" />
<text x="774.10" y="248.40" font-size="11.5" text-anchor="middle" fill="#000" font-weight="bold" stroke="#000" stroke-width="0.3" letter-spacing="0.6">*</text>
<text x="710.20" y="305.80" font-size="10.3" text-anchor="middle" transform="rotate(-90 710.20 305.80)" stroke="#111111" stroke-width="0.22">CD8<tspan dy="-3.9" font-size="5.5">+</tspan><tspan dy="3.9"> cells in</tspan></text>
<text x="720.60" y="305.80" font-size="10.3" text-anchor="middle" transform="rotate(-90 720.60 305.80)" stroke="#111111" stroke-width="0.22">CD3<tspan dy="-3.9" font-size="5.5">+</tspan><tspan dy="3.9"> T cells (%)</tspan></text>
<text x="2.00" y="431.00" font-size="16" fill="#000" font-weight="bold">G</text>
<path d="M71.50,432.20 V569.40 H162.60" fill="none" stroke="#222222" stroke-width="1.2"/>
<line x1="66.50" y1="432.20" x2="71.50" y2="432.20" stroke="#222222" stroke-width="1" />
<text x="65.70" y="435.50" font-size="9.3" text-anchor="end" stroke="#111111" stroke-width="0.22">50</text>
<line x1="66.50" y1="500.80" x2="71.50" y2="500.80" stroke="#222222" stroke-width="1" />
<text x="65.70" y="504.10" font-size="9.3" text-anchor="end" stroke="#111111" stroke-width="0.22">25</text>
<line x1="66.50" y1="569.40" x2="71.50" y2="569.40" stroke="#222222" stroke-width="1" />
<text x="65.70" y="572.70" font-size="9.3" text-anchor="end" stroke="#111111" stroke-width="0.22">0</text>
<path d="M80.20,569.40 V537.60 H98.20 V569.40" fill="none" stroke="#0c71b9" stroke-width="0.9"/>
<path d="M89.20,533.30 V542.00 M84.60,533.30 h9.2 M84.60,542.00 h9.2" fill="none" stroke="#0c71b9" stroke-width="0.95"/>
<line x1="89.20" y1="569.40" x2="89.20" y2="573.40" stroke="#222222" stroke-width="1" />
<text x="93.40" y="578.00" font-size="8.9" text-anchor="end" transform="rotate(-45 93.40 578.00)" stroke="#111111" stroke-width="0.22">αPD-1</text>
<path d="M107.50,569.40 V512.60 H125.60 V569.40" fill="none" stroke="#f8921a" stroke-width="0.9"/>
<path d="M116.55,508.00 V517.00 M111.95,508.00 h9.2 M111.95,517.00 h9.2" fill="none" stroke="#f8921a" stroke-width="0.95"/>
<line x1="116.55" y1="569.40" x2="116.55" y2="573.40" stroke="#222222" stroke-width="1" />
<text x="120.75" y="578.00" font-size="8.9" text-anchor="end" transform="rotate(-45 120.75 578.00)" stroke="#111111" stroke-width="0.22"><tspan font-style="italic">L. j</tspan>+αPD-1</text>
<path d="M134.90,569.40 V507.00 H153.20 V569.40" fill="none" stroke="#2ca444" stroke-width="0.9"/>
<path d="M144.05,498.40 V513.80 M139.45,498.40 h9.2 M139.45,513.80 h9.2" fill="none" stroke="#2ca444" stroke-width="0.95"/>
<line x1="144.05" y1="569.40" x2="144.05" y2="573.40" stroke="#222222" stroke-width="1" />
<text x="148.25" y="578.00" font-size="8.9" text-anchor="end" transform="rotate(-45 148.25 578.00)" stroke="#111111" stroke-width="0.22">IPA+αPD-1</text>
<g fill="#0c71b9">
<circle cx="89.20" cy="518.30" r="3.05"/>
<circle cx="86.40" cy="529.40" r="3.05"/>
<circle cx="92.30" cy="529.10" r="3.05"/>
<circle cx="83.00" cy="538.90" r="3.05"/>
<circle cx="95.40" cy="539.70" r="3.05"/>
<circle cx="89.20" cy="543.10" r="3.05"/>
<circle cx="89.20" cy="563.40" r="3.05"/>
</g>
<g fill="#f8921a">
<circle cx="116.60" cy="492.50" r="3.05"/>
<circle cx="116.60" cy="502.80" r="3.05"/>
<circle cx="110.10" cy="514.40" r="3.05"/>
<circle cx="122.70" cy="514.40" r="3.05"/>
<circle cx="112.90" cy="517.80" r="3.05"/>
<circle cx="120.20" cy="517.80" r="3.05"/>
<circle cx="116.60" cy="520.90" r="3.05"/>
<circle cx="114.20" cy="522.70" r="3.05"/>
</g>
<g fill="#2ca444">
<circle cx="143.90" cy="464.90" r="3.05"/>
<circle cx="143.90" cy="500.80" r="3.05"/>
<circle cx="138.00" cy="508.00" r="3.05"/>
<circle cx="150.30" cy="508.00" r="3.05"/>
<circle cx="138.50" cy="516.50" r="3.05"/>
<circle cx="150.30" cy="516.50" r="3.05"/>
<circle cx="143.90" cy="529.40" r="3.05"/>
</g>
<line x1="89.20" y1="451.50" x2="144.40" y2="451.50" stroke="#2a2a2a" stroke-width="1.15" />
<text x="116.80" y="451.70" font-size="11.5" text-anchor="middle" fill="#000" font-weight="bold" stroke="#000" stroke-width="0.3" letter-spacing="0.6">**</text>
<line x1="89.20" y1="479.10" x2="117.30" y2="479.10" stroke="#2a2a2a" stroke-width="1.15" />
<text x="103.25" y="479.30" font-size="11.5" text-anchor="middle" fill="#000" font-weight="bold" stroke="#000" stroke-width="0.3" letter-spacing="0.6">*</text>
<text x="37.80" y="505.40" font-size="10.3" text-anchor="middle" transform="rotate(-90 37.80 505.40)" stroke="#111111" stroke-width="0.22">IFN-γ<tspan dy="-3.9" font-size="5.5">+</tspan><tspan dy="3.9"> cells in</tspan></text>
<text x="48.00" y="505.40" font-size="10.3" text-anchor="middle" transform="rotate(-90 48.00 505.40)" stroke="#111111" stroke-width="0.22">CD8<tspan dy="-3.9" font-size="5.5">+</tspan><tspan dy="3.9"> T cells (%)</tspan></text>
<text x="183.60" y="430.00" font-size="16" fill="#000" font-weight="bold">H</text>
<path d="M221.70,452.58 V586.50 H354.80" fill="none" stroke="#222222" stroke-width="1.2"/>
<line x1="216.70" y1="586.50" x2="221.70" y2="586.50" stroke="#222222" stroke-width="1.1" />
<text x="215.90" y="589.80" font-size="9.3" text-anchor="end" stroke="#111111" stroke-width="0.22">0</text>
<line x1="216.70" y1="519.54" x2="221.70" y2="519.54" stroke="#222222" stroke-width="1.1" />
<text x="215.90" y="522.84" font-size="9.3" text-anchor="end" stroke="#111111" stroke-width="0.22">400</text>
<line x1="216.70" y1="452.58" x2="221.70" y2="452.58" stroke="#222222" stroke-width="1.1" />
<text x="215.90" y="455.88" font-size="9.3" text-anchor="end" stroke="#111111" stroke-width="0.22">800</text>
<line x1="221.70" y1="586.50" x2="221.70" y2="591.10" stroke="#222222" stroke-width="1.1" />
<text x="221.70" y="601.50" font-size="9.3" text-anchor="middle" stroke="#111111" stroke-width="0.22">0</text>
<line x1="254.97" y1="586.50" x2="254.97" y2="591.10" stroke="#222222" stroke-width="1.1" />
<text x="254.97" y="601.50" font-size="9.3" text-anchor="middle" stroke="#111111" stroke-width="0.22">5</text>
<line x1="288.25" y1="586.50" x2="288.25" y2="591.10" stroke="#222222" stroke-width="1.1" />
<text x="288.25" y="601.50" font-size="9.3" text-anchor="middle" stroke="#111111" stroke-width="0.22">10</text>
<line x1="321.52" y1="586.50" x2="321.52" y2="591.10" stroke="#222222" stroke-width="1.1" />
<text x="321.52" y="601.50" font-size="9.3" text-anchor="middle" stroke="#111111" stroke-width="0.22">15</text>
<line x1="354.80" y1="586.50" x2="354.80" y2="591.10" stroke="#222222" stroke-width="1.1" />
<text x="354.80" y="601.50" font-size="9.3" text-anchor="middle" stroke="#111111" stroke-width="0.22">20</text>
<text x="358.00" y="591.80" font-size="8.8" stroke="#111111" stroke-width="0.22">Days</text>
<text x="195.40" y="520.04" font-size="10.4" text-anchor="middle" transform="rotate(-90 195.40 520.04)" stroke="#111111" stroke-width="0.22">Tumor volume (mm<tspan dy="-3.4" font-size="6">3</tspan><tspan dy="3.4">)</tspan></text>
<g stroke="#0c71b9" stroke-width="1.0" fill="none">
<polyline points="221.70,586.50 235.01,584.99 248.32,578.97 261.63,574.45 274.94,567.58 288.25,557.87 301.56,546.32 314.87,522.72 328.18,495.94"/>
<path d="M301.56,546.32 V544.32 M298.96,544.32 h5.2"/>
<path d="M314.87,522.72 V515.19 M312.27,515.19 h5.2"/>
<path d="M328.18,495.94 V482.54 M325.58,482.54 h5.2"/>
</g>
<g fill="#0c71b9">
<circle cx="221.70" cy="586.50" r="2.9"/>
<circle cx="235.01" cy="584.99" r="2.9"/>
<circle cx="248.32" cy="578.97" r="2.9"/>
<circle cx="261.63" cy="574.45" r="2.9"/>
<circle cx="274.94" cy="567.58" r="2.9"/>
<circle cx="288.25" cy="557.87" r="2.9"/>
<circle cx="301.56" cy="546.32" r="2.9"/>
<circle cx="314.87" cy="522.72" r="2.9"/>
<circle cx="328.18" cy="495.94" r="2.9"/>
</g>
<g stroke="#2ca444" stroke-width="1.0" fill="none">
<polyline points="221.70,586.50 235.01,584.99 248.32,578.97 261.63,573.11 274.94,566.08 288.25,556.54 301.56,545.99 314.87,524.90 328.18,501.13"/>
<path d="M288.25,556.54 V554.19 M285.65,554.19 h5.2"/>
<path d="M301.56,545.99 V543.31 M298.96,543.31 h5.2"/>
<path d="M314.87,524.90 V520.71 M312.27,520.71 h5.2"/>
<path d="M328.18,501.13 V494.43 M325.58,494.43 h5.2"/>
</g>
<g fill="#2ca444">
<circle cx="221.70" cy="586.50" r="2.9"/>
<circle cx="235.01" cy="584.99" r="2.9"/>
<circle cx="248.32" cy="578.97" r="2.9"/>
<circle cx="261.63" cy="573.11" r="2.9"/>
<circle cx="274.94" cy="566.08" r="2.9"/>
<circle cx="288.25" cy="556.54" r="2.9"/>
<circle cx="301.56" cy="545.99" r="2.9"/>
<circle cx="314.87" cy="524.90" r="2.9"/>
<circle cx="328.18" cy="501.13" r="2.9"/>
</g>
<g stroke="#f8921a" stroke-width="1.0" fill="none">
<polyline points="221.70,586.50 235.01,584.99 248.32,578.97 261.63,573.28 274.94,565.24 288.25,555.87 301.56,544.32 314.87,529.92 328.18,496.44"/>
<path d="M288.25,555.87 V553.52 M285.65,553.52 h5.2"/>
<path d="M301.56,544.32 V541.97 M298.96,541.97 h5.2"/>
<path d="M314.87,529.92 V526.57 M312.27,526.57 h5.2"/>
<path d="M328.18,496.44 V488.07 M325.58,488.07 h5.2"/>
</g>
<g fill="#f8921a">
<circle cx="221.70" cy="586.50" r="2.9"/>
<circle cx="235.01" cy="584.99" r="2.9"/>
<circle cx="248.32" cy="578.97" r="2.9"/>
<circle cx="261.63" cy="573.28" r="2.9"/>
<circle cx="274.94" cy="565.24" r="2.9"/>
<circle cx="288.25" cy="555.87" r="2.9"/>
<circle cx="301.56" cy="544.32" r="2.9"/>
<circle cx="314.87" cy="529.92" r="2.9"/>
<circle cx="328.18" cy="496.44" r="2.9"/>
</g>
<text x="224.20" y="448.20" font-size="10.2" stroke="#111111" stroke-width="0.22"><tspan font-style="italic">Rag1</tspan><tspan dy="-3.2" font-size="5.5" font-style="italic">-/-</tspan><tspan dy="3.2"> mice</tspan></text>
<line x1="224.20" y1="449.80" x2="281.00" y2="449.80" stroke="#111111" stroke-width="0.8" />
<line x1="226.00" y1="457.70" x2="241.60" y2="457.70" stroke="#0c71b9" stroke-width="0.9" />
<circle cx="233.80" cy="457.70" r="2.85" fill="#0c71b9" />
<text x="246.00" y="460.30" font-size="8.9" stroke="#111111" stroke-width="0.22">αPD-1</text>
<line x1="226.00" y1="474.60" x2="241.60" y2="474.60" stroke="#f8921a" stroke-width="0.9" />
<circle cx="233.80" cy="474.60" r="2.85" fill="#f8921a" />
<text x="246.00" y="477.20" font-size="8.9" stroke="#111111" stroke-width="0.22"><tspan font-style="italic">L. j</tspan>+αPD-1</text>
<line x1="226.00" y1="492.60" x2="241.60" y2="492.60" stroke="#2ca444" stroke-width="0.9" />
<circle cx="233.80" cy="492.60" r="2.85" fill="#2ca444" />
<text x="246.00" y="495.20" font-size="8.9" stroke="#111111" stroke-width="0.22">IPA+αPD-1</text>
<line x1="291.10" y1="455.10" x2="291.10" y2="475.20" stroke="#555" stroke-width="0.8" />
<text x="293.70" y="465.15" font-size="9" text-anchor="middle" transform="rotate(90 293.70 465.15)" stroke="#111111" stroke-width="0.22">ns</text>
<line x1="302.00" y1="455.10" x2="302.00" y2="492.80" stroke="#555" stroke-width="0.8" />
<text x="304.60" y="473.95" font-size="9" text-anchor="middle" transform="rotate(90 304.60 473.95)" stroke="#111111" stroke-width="0.22">ns</text>
<text x="390.30" y="430.00" font-size="16" fill="#000" font-weight="bold">I</text>
<path d="M427.00,452.62 V586.70 H559.80" fill="none" stroke="#222222" stroke-width="1.2"/>
<line x1="422.00" y1="586.70" x2="427.00" y2="586.70" stroke="#222222" stroke-width="1.1" />
<text x="421.20" y="590.00" font-size="9.3" text-anchor="end" stroke="#111111" stroke-width="0.22">0</text>
<line x1="422.00" y1="519.66" x2="427.00" y2="519.66" stroke="#222222" stroke-width="1.1" />
<text x="421.20" y="522.96" font-size="9.3" text-anchor="end" stroke="#111111" stroke-width="0.22">400</text>
<line x1="422.00" y1="452.62" x2="427.00" y2="452.62" stroke="#222222" stroke-width="1.1" />
<text x="421.20" y="455.92" font-size="9.3" text-anchor="end" stroke="#111111" stroke-width="0.22">800</text>
<line x1="427.00" y1="586.70" x2="427.00" y2="591.30" stroke="#222222" stroke-width="1.1" />
<text x="427.00" y="601.70" font-size="9.3" text-anchor="middle" stroke="#111111" stroke-width="0.22">0</text>
<line x1="460.20" y1="586.70" x2="460.20" y2="591.30" stroke="#222222" stroke-width="1.1" />
<text x="460.20" y="601.70" font-size="9.3" text-anchor="middle" stroke="#111111" stroke-width="0.22">5</text>
<line x1="493.40" y1="586.70" x2="493.40" y2="591.30" stroke="#222222" stroke-width="1.1" />
<text x="493.40" y="601.70" font-size="9.3" text-anchor="middle" stroke="#111111" stroke-width="0.22">10</text>
<line x1="526.60" y1="586.70" x2="526.60" y2="591.30" stroke="#222222" stroke-width="1.1" />
<text x="526.60" y="601.70" font-size="9.3" text-anchor="middle" stroke="#111111" stroke-width="0.22">15</text>
<line x1="559.80" y1="586.70" x2="559.80" y2="591.30" stroke="#222222" stroke-width="1.1" />
<text x="559.80" y="601.70" font-size="9.3" text-anchor="middle" stroke="#111111" stroke-width="0.22">20</text>
<text x="563.00" y="592.00" font-size="8.8" stroke="#111111" stroke-width="0.22">Days</text>
<text x="402.00" y="520.16" font-size="10.4" text-anchor="middle" transform="rotate(-90 402.00 520.16)" stroke="#111111" stroke-width="0.22">Tumor volume (mm<tspan dy="-3.4" font-size="6">3</tspan><tspan dy="3.4">)</tspan></text>
<g stroke="#757575" stroke-width="1.0" fill="none">
<polyline points="427.00,586.70 440.28,583.01 453.56,580.33 466.84,575.64 480.12,570.61 493.40,566.09 506.68,557.87 519.96,535.58 533.24,500.89"/>
<path d="M533.24,500.89 V495.86 M530.64,495.86 h5.2"/>
</g>
<g fill="#757575">
<circle cx="427.00" cy="586.70" r="2.9"/>
<circle cx="440.28" cy="583.01" r="2.9"/>
<circle cx="453.56" cy="580.33" r="2.9"/>
<circle cx="466.84" cy="575.64" r="2.9"/>
<circle cx="480.12" cy="570.61" r="2.9"/>
<circle cx="493.40" cy="566.09" r="2.9"/>
<circle cx="506.68" cy="557.87" r="2.9"/>
<circle cx="519.96" cy="535.58" r="2.9"/>
<circle cx="533.24" cy="500.89" r="2.9"/>
</g>
<g stroke="#0c71b9" stroke-width="1.0" fill="none">
<polyline points="427.00,586.70 440.28,582.85 453.56,579.83 466.84,575.14 480.12,569.94 493.40,564.58 506.68,555.02 519.96,530.05 533.24,495.19"/>
<path d="M506.68,555.02 V551.67 M504.08,551.67 h5.2"/>
<path d="M519.96,530.05 V525.86 M517.36,525.86 h5.2"/>
<path d="M533.24,495.19 V490.16 M530.64,490.16 h5.2"/>
</g>
<g fill="#0c71b9">
<circle cx="427.00" cy="586.70" r="2.9"/>
<circle cx="440.28" cy="582.85" r="2.9"/>
<circle cx="453.56" cy="579.83" r="2.9"/>
<circle cx="466.84" cy="575.14" r="2.9"/>
<circle cx="480.12" cy="569.94" r="2.9"/>
<circle cx="493.40" cy="564.58" r="2.9"/>
<circle cx="506.68" cy="555.02" r="2.9"/>
<circle cx="519.96" cy="530.05" r="2.9"/>
<circle cx="533.24" cy="495.19" r="2.9"/>
</g>
<g stroke="#2ca444" stroke-width="1.0" fill="none">
<polyline points="427.00,586.70 440.28,582.85 453.56,579.83 466.84,575.14 480.12,569.94 493.40,564.91 506.68,556.53 519.96,532.23 533.24,497.70"/>
<path d="M506.68,556.53 V553.52 M504.08,553.52 h5.2"/>
<path d="M519.96,532.23 V528.04 M517.36,528.04 h5.2"/>
<path d="M533.24,497.70 V492.68 M530.64,492.68 h5.2"/>
</g>
<g fill="#2ca444">
<circle cx="427.00" cy="586.70" r="2.9"/>
<circle cx="440.28" cy="582.85" r="2.9"/>
<circle cx="453.56" cy="579.83" r="2.9"/>
<circle cx="466.84" cy="575.14" r="2.9"/>
<circle cx="480.12" cy="569.94" r="2.9"/>
<circle cx="493.40" cy="564.91" r="2.9"/>
<circle cx="506.68" cy="556.53" r="2.9"/>
<circle cx="519.96" cy="532.23" r="2.9"/>
<circle cx="533.24" cy="497.70" r="2.9"/>
</g>
<g stroke="#f8921a" stroke-width="1.0" fill="none">
<polyline points="427.00,586.70 440.28,582.85 453.56,579.83 466.84,575.14 480.12,569.60 493.40,563.91 506.68,558.21 519.96,534.24 533.24,495.19"/>
<path d="M533.24,495.19 V485.13 M530.64,485.13 h5.2"/>
</g>
<g fill="#f8921a">
<circle cx="427.00" cy="586.70" r="2.9"/>
<circle cx="440.28" cy="582.85" r="2.9"/>
<circle cx="453.56" cy="579.83" r="2.9"/>
<circle cx="466.84" cy="575.14" r="2.9"/>
<circle cx="480.12" cy="569.60" r="2.9"/>
<circle cx="493.40" cy="563.91" r="2.9"/>
<circle cx="506.68" cy="558.21" r="2.9"/>
<circle cx="519.96" cy="534.24" r="2.9"/>
<circle cx="533.24" cy="495.19" r="2.9"/>
</g>
<text x="431.80" y="448.20" font-size="10.2" stroke="#111111" stroke-width="0.22"><tspan font-style="italic">Rag1</tspan><tspan dy="-3.2" font-size="5.5" font-style="italic">-/-</tspan><tspan dy="3.2"> mice</tspan></text>
<line x1="431.80" y1="449.80" x2="488.60" y2="449.80" stroke="#111111" stroke-width="0.8" />
<line x1="431.00" y1="457.70" x2="446.60" y2="457.70" stroke="#757575" stroke-width="0.9" />
<circle cx="438.80" cy="457.70" r="2.85" fill="#757575" />
<text x="449.20" y="460.30" font-size="8.9" stroke="#111111" stroke-width="0.22">IgG</text>
<line x1="431.00" y1="475.80" x2="446.60" y2="475.80" stroke="#0c71b9" stroke-width="0.9" />
<circle cx="438.80" cy="475.80" r="2.85" fill="#0c71b9" />
<text x="449.20" y="478.40" font-size="8.9" stroke="#111111" stroke-width="0.22">IPA</text>
<line x1="431.00" y1="494.40" x2="446.60" y2="494.40" stroke="#f8921a" stroke-width="0.9" />
<circle cx="438.80" cy="494.40" r="2.85" fill="#f8921a" />
<text x="449.20" y="497.00" font-size="8.9" stroke="#111111" stroke-width="0.22">αPD-1</text>
<line x1="431.00" y1="512.70" x2="446.60" y2="512.70" stroke="#2ca444" stroke-width="0.9" />
<circle cx="438.80" cy="512.70" r="2.85" fill="#2ca444" />
<text x="449.20" y="515.30" font-size="8.9" stroke="#111111" stroke-width="0.22">IPA+αPD-1</text>
<line x1="469.80" y1="456.40" x2="469.80" y2="478.00" stroke="#555" stroke-width="0.8" />
<text x="472.50" y="467.20" font-size="9" text-anchor="middle" transform="rotate(90 472.50 467.20)" stroke="#111111" stroke-width="0.22">ns</text>
<line x1="496.10" y1="492.60" x2="496.10" y2="514.00" stroke="#555" stroke-width="0.8" />
<text x="498.80" y="503.30" font-size="9" text-anchor="middle" transform="rotate(90 498.80 503.30)" stroke="#111111" stroke-width="0.22">ns</text>
<text x="587.20" y="430.60" font-size="16" fill="#000" font-weight="bold">J</text>
<path d="M630.80,451.80 V585.80 H763.80" fill="none" stroke="#222222" stroke-width="1.2"/>
<line x1="625.80" y1="585.80" x2="630.80" y2="585.80" stroke="#222222" stroke-width="1.1" />
<text x="625.00" y="589.10" font-size="9.3" text-anchor="end" stroke="#111111" stroke-width="0.22">0</text>
<line x1="625.80" y1="518.80" x2="630.80" y2="518.80" stroke="#222222" stroke-width="1.1" />
<text x="625.00" y="522.10" font-size="9.3" text-anchor="end" stroke="#111111" stroke-width="0.22">400</text>
<line x1="625.80" y1="451.80" x2="630.80" y2="451.80" stroke="#222222" stroke-width="1.1" />
<text x="625.00" y="455.10" font-size="9.3" text-anchor="end" stroke="#111111" stroke-width="0.22">800</text>
<line x1="630.80" y1="585.80" x2="630.80" y2="590.40" stroke="#222222" stroke-width="1.1" />
<text x="630.80" y="600.80" font-size="9.3" text-anchor="middle" stroke="#111111" stroke-width="0.22">0</text>
<line x1="664.05" y1="585.80" x2="664.05" y2="590.40" stroke="#222222" stroke-width="1.1" />
<text x="664.05" y="600.80" font-size="9.3" text-anchor="middle" stroke="#111111" stroke-width="0.22">5</text>
<line x1="697.30" y1="585.80" x2="697.30" y2="590.40" stroke="#222222" stroke-width="1.1" />
<text x="697.30" y="600.80" font-size="9.3" text-anchor="middle" stroke="#111111" stroke-width="0.22">10</text>
<line x1="730.55" y1="585.80" x2="730.55" y2="590.40" stroke="#222222" stroke-width="1.1" />
<text x="730.55" y="600.80" font-size="9.3" text-anchor="middle" stroke="#111111" stroke-width="0.22">15</text>
<line x1="763.80" y1="585.80" x2="763.80" y2="590.40" stroke="#222222" stroke-width="1.1" />
<text x="763.80" y="600.80" font-size="9.3" text-anchor="middle" stroke="#111111" stroke-width="0.22">20</text>
<text x="767.00" y="592.30" font-size="8.8" stroke="#111111" stroke-width="0.22">Days</text>
<text x="603.80" y="519.30" font-size="10.4" text-anchor="middle" transform="rotate(-90 603.80 519.30)" stroke="#111111" stroke-width="0.22">Tumor volume (mm<tspan dy="-3.4" font-size="6">3</tspan><tspan dy="3.4">)</tspan></text>
<g stroke="#0c71b9" stroke-width="1.0" fill="none">
<polyline points="630.80,585.80 644.10,582.12 657.40,576.08 670.70,564.19 684.00,552.80 697.30,543.25 710.60,541.75 723.90,550.79 737.20,558.00"/>
</g>
<g fill="#0c71b9">
<circle cx="630.80" cy="585.80" r="2.9"/>
<circle cx="644.10" cy="582.12" r="2.9"/>
<circle cx="657.40" cy="576.08" r="2.9"/>
<circle cx="670.70" cy="564.19" r="2.9"/>
<circle cx="684.00" cy="552.80" r="2.9"/>
<circle cx="697.30" cy="543.25" r="2.9"/>
<circle cx="710.60" cy="541.75" r="2.9"/>
<circle cx="723.90" cy="550.79" r="2.9"/>
<circle cx="737.20" cy="558.00" r="2.9"/>
</g>
<g stroke="#2ca444" stroke-width="1.0" fill="none">
<polyline points="630.80,585.80 644.10,582.45 657.40,578.93 670.70,573.40 684.00,569.55 697.30,566.20 710.60,572.40 723.90,577.59 737.20,580.94"/>
</g>
<g fill="#2ca444">
<circle cx="630.80" cy="585.80" r="2.9"/>
<circle cx="644.10" cy="582.45" r="2.9"/>
<circle cx="657.40" cy="578.93" r="2.9"/>
<circle cx="670.70" cy="573.40" r="2.9"/>
<circle cx="684.00" cy="569.55" r="2.9"/>
<circle cx="697.30" cy="566.20" r="2.9"/>
<circle cx="710.60" cy="572.40" r="2.9"/>
<circle cx="723.90" cy="577.59" r="2.9"/>
<circle cx="737.20" cy="580.94" r="2.9"/>
</g>
<g stroke="#f8921a" stroke-width="1.0" fill="none">
<polyline points="630.80,585.80 644.10,582.12 657.40,578.93 670.70,572.40 684.00,567.88 697.30,562.85 710.60,568.55 723.90,574.41 737.20,580.94"/>
</g>
<g fill="#f8921a">
<circle cx="630.80" cy="585.80" r="2.9"/>
<circle cx="644.10" cy="582.12" r="2.9"/>
<circle cx="657.40" cy="578.93" r="2.9"/>
<circle cx="670.70" cy="572.40" r="2.9"/>
<circle cx="684.00" cy="567.88" r="2.9"/>
<circle cx="697.30" cy="562.85" r="2.9"/>
<circle cx="710.60" cy="568.55" r="2.9"/>
<circle cx="723.90" cy="574.41" r="2.9"/>
<circle cx="737.20" cy="580.94" r="2.9"/>
</g>
<g stroke="#8cc63f" stroke-width="1.0" fill="none">
<polyline points="630.80,585.80 644.10,582.12 657.40,575.08 670.70,563.52 684.00,549.95 697.30,529.85 710.60,513.61 723.90,511.26 737.20,507.41"/>
<path d="M684.00,549.95 V544.09 M681.40,544.09 h5.2"/>
<path d="M697.30,529.85 V522.32 M694.70,522.32 h5.2"/>
<path d="M710.60,513.61 V506.91 M708.00,506.91 h5.2"/>
<path d="M723.90,511.26 V502.05 M721.30,502.05 h5.2"/>
<path d="M737.20,507.41 V498.20 M734.60,498.20 h5.2"/>
</g>
<g fill="#8cc63f">
<circle cx="630.80" cy="585.80" r="2.9"/>
<circle cx="644.10" cy="582.12" r="2.9"/>
<circle cx="657.40" cy="575.08" r="2.9"/>
<circle cx="670.70" cy="563.52" r="2.9"/>
<circle cx="684.00" cy="549.95" r="2.9"/>
<circle cx="697.30" cy="529.85" r="2.9"/>
<circle cx="710.60" cy="513.61" r="2.9"/>
<circle cx="723.90" cy="511.26" r="2.9"/>
<circle cx="737.20" cy="507.41" r="2.9"/>
</g>
<g stroke="#e4561e" stroke-width="1.0" fill="none">
<polyline points="630.80,585.80 644.10,581.61 657.40,572.40 670.70,562.01 684.00,551.13 697.30,536.55 710.60,516.96 723.90,514.61 737.20,511.93"/>
<path d="M684.00,551.13 V546.94 M681.40,546.94 h5.2"/>
<path d="M697.30,536.55 V530.69 M694.70,530.69 h5.2"/>
<path d="M710.60,516.96 V510.26 M708.00,510.26 h5.2"/>
<path d="M723.90,514.61 V507.91 M721.30,507.91 h5.2"/>
<path d="M737.20,511.93 V505.23 M734.60,505.23 h5.2"/>
</g>
<g fill="#e4561e">
<circle cx="630.80" cy="585.80" r="2.9"/>
<circle cx="644.10" cy="581.61" r="2.9"/>
<circle cx="657.40" cy="572.40" r="2.9"/>
<circle cx="670.70" cy="562.01" r="2.9"/>
<circle cx="684.00" cy="551.13" r="2.9"/>
<circle cx="697.30" cy="536.55" r="2.9"/>
<circle cx="710.60" cy="516.96" r="2.9"/>
<circle cx="723.90" cy="514.61" r="2.9"/>
<circle cx="737.20" cy="511.93" r="2.9"/>
</g>
<text x="634.80" y="448.00" font-size="10.9" stroke="#111111" stroke-width="0.22">αCD8 Antibody</text>
<line x1="634.80" y1="449.70" x2="709.30" y2="449.70" stroke="#111111" stroke-width="0.8" />
<line x1="752.20" y1="452.40" x2="766.80" y2="452.40" stroke="#0c71b9" stroke-width="0.9" />
<circle cx="759.50" cy="452.40" r="2.85" fill="#0c71b9" />
<text x="772.60" y="454.80" font-size="8.9" stroke="#111111" stroke-width="0.22">αPD-1</text>
<line x1="752.20" y1="468.70" x2="766.80" y2="468.70" stroke="#f8921a" stroke-width="0.9" />
<circle cx="759.50" cy="468.70" r="2.85" fill="#f8921a" />
<text x="772.60" y="471.60" font-size="8.9" stroke="#111111" stroke-width="0.22"><tspan font-style="italic">L. j</tspan>+αPD-1</text>
<line x1="752.20" y1="484.90" x2="766.80" y2="484.90" stroke="#2ca444" stroke-width="0.9" />
<circle cx="759.50" cy="484.90" r="2.85" fill="#2ca444" />
<text x="772.60" y="488.80" font-size="8.9" stroke="#111111" stroke-width="0.22">IPA+αPD-1</text>
<line x1="752.20" y1="502.80" x2="766.80" y2="502.80" stroke="#e4561e" stroke-width="0.9" />
<circle cx="759.50" cy="502.80" r="2.85" fill="#e4561e" />
<text x="772.60" y="506.00" font-size="8.9" stroke="#111111" stroke-width="0.22"><tspan font-style="italic">L. j</tspan>+αPD-1+αCD8</text>
<line x1="752.20" y1="521.20" x2="766.80" y2="521.20" stroke="#8cc63f" stroke-width="0.9" />
<circle cx="759.50" cy="521.20" r="2.85" fill="#8cc63f" />
<text x="772.60" y="523.40" font-size="8.9" stroke="#111111" stroke-width="0.22">IPA+αPD-1+αCD8</text>
<line x1="817.70" y1="449.90" x2="817.70" y2="470.50" stroke="#555" stroke-width="0.8" />
<text x="816.02" y="460.80" font-size="11.5" text-anchor="middle" fill="#000" font-weight="bold" transform="rotate(90 816.02 460.80)" stroke="#000" stroke-width="0.45" letter-spacing="1.0">****</text>
<line x1="829.40" y1="449.90" x2="829.40" y2="484.50" stroke="#555" stroke-width="0.8" />
<text x="827.72" y="467.80" font-size="11.5" text-anchor="middle" fill="#000" font-weight="bold" transform="rotate(90 827.72 467.80)" stroke="#000" stroke-width="0.45" letter-spacing="1.0">****</text>
<line x1="849.10" y1="468.80" x2="849.10" y2="504.80" stroke="#555" stroke-width="0.8" />
<text x="847.42" y="487.40" font-size="11.5" text-anchor="middle" fill="#000" font-weight="bold" transform="rotate(90 847.42 487.40)" stroke="#000" stroke-width="0.45" letter-spacing="1.0">**</text>
<line x1="860.20" y1="485.20" x2="860.20" y2="521.10" stroke="#555" stroke-width="0.8" />
<text x="858.52" y="503.75" font-size="11.5" text-anchor="middle" fill="#000" font-weight="bold" transform="rotate(90 858.52 503.75)" stroke="#000" stroke-width="0.45" letter-spacing="1.0">**</text>
<text x="586.80" y="629.80" font-size="16" fill="#000" font-weight="bold">L</text>
<path d="M630.80,660.40 V793.60 H763.40" fill="none" stroke="#222222" stroke-width="1.2"/>
<line x1="625.80" y1="793.60" x2="630.80" y2="793.60" stroke="#222222" stroke-width="1.1" />
<text x="625.00" y="796.90" font-size="9.3" text-anchor="end" stroke="#111111" stroke-width="0.22">0</text>
<line x1="625.80" y1="727.00" x2="630.80" y2="727.00" stroke="#222222" stroke-width="1.1" />
<text x="625.00" y="730.30" font-size="9.3" text-anchor="end" stroke="#111111" stroke-width="0.22">400</text>
<line x1="625.80" y1="660.40" x2="630.80" y2="660.40" stroke="#222222" stroke-width="1.1" />
<text x="625.00" y="663.70" font-size="9.3" text-anchor="end" stroke="#111111" stroke-width="0.22">800</text>
<line x1="630.80" y1="793.60" x2="630.80" y2="798.20" stroke="#222222" stroke-width="1.1" />
<text x="630.80" y="808.60" font-size="9.3" text-anchor="middle" stroke="#111111" stroke-width="0.22">0</text>
<line x1="663.95" y1="793.60" x2="663.95" y2="798.20" stroke="#222222" stroke-width="1.1" />
<text x="663.95" y="808.60" font-size="9.3" text-anchor="middle" stroke="#111111" stroke-width="0.22">5</text>
<line x1="697.10" y1="793.60" x2="697.10" y2="798.20" stroke="#222222" stroke-width="1.1" />
<text x="697.10" y="808.60" font-size="9.3" text-anchor="middle" stroke="#111111" stroke-width="0.22">10</text>
<line x1="730.25" y1="793.60" x2="730.25" y2="798.20" stroke="#222222" stroke-width="1.1" />
<text x="730.25" y="808.60" font-size="9.3" text-anchor="middle" stroke="#111111" stroke-width="0.22">15</text>
<line x1="763.40" y1="793.60" x2="763.40" y2="798.20" stroke="#222222" stroke-width="1.1" />
<text x="763.40" y="808.60" font-size="9.3" text-anchor="middle" stroke="#111111" stroke-width="0.22">20</text>
<text x="766.60" y="800.00" font-size="8.8" stroke="#111111" stroke-width="0.22">Days</text>
<text x="602.10" y="727.50" font-size="10.4" text-anchor="middle" transform="rotate(-90 602.10 727.50)" stroke="#111111" stroke-width="0.22">Tumor volume (mm<tspan dy="-3.4" font-size="6">3</tspan><tspan dy="3.4">)</tspan></text>
<g stroke="#f8921a" stroke-width="1.0" fill="none">
<polyline points="630.80,793.60 644.06,789.77 657.32,786.61 670.58,782.44 683.84,776.95 697.10,772.12 710.36,773.79 723.62,775.95 736.88,778.45"/>
<path d="M723.62,775.95 V772.95 M721.02,772.95 h5.2"/>
</g>
<g fill="#f8921a">
<circle cx="630.80" cy="793.60" r="2.9"/>
<circle cx="644.06" cy="789.77" r="2.9"/>
<circle cx="657.32" cy="786.61" r="2.9"/>
<circle cx="670.58" cy="782.44" r="2.9"/>
<circle cx="683.84" cy="776.95" r="2.9"/>
<circle cx="697.10" cy="772.12" r="2.9"/>
<circle cx="710.36" cy="773.79" r="2.9"/>
<circle cx="723.62" cy="775.95" r="2.9"/>
<circle cx="736.88" cy="778.45" r="2.9"/>
</g>
<g stroke="#c8591c" stroke-width="1.0" fill="none">
<polyline points="630.80,793.60 644.06,789.77 657.32,786.61 670.58,782.78 683.84,778.12 697.10,778.45 710.36,781.61 723.62,785.94 736.88,790.27"/>
</g>
<g fill="#c8591c">
<circle cx="630.80" cy="793.60" r="2.9"/>
<circle cx="644.06" cy="789.77" r="2.9"/>
<circle cx="657.32" cy="786.61" r="2.9"/>
<circle cx="670.58" cy="782.78" r="2.9"/>
<circle cx="683.84" cy="778.12" r="2.9"/>
<circle cx="697.10" cy="778.45" r="2.9"/>
<circle cx="710.36" cy="781.61" r="2.9"/>
<circle cx="723.62" cy="785.94" r="2.9"/>
<circle cx="736.88" cy="790.27" r="2.9"/>
</g>
<g stroke="#2ca444" stroke-width="1.0" fill="none">
<polyline points="630.80,793.60 644.06,789.77 657.32,786.61 670.58,782.44 683.84,777.78 697.10,777.62 710.36,781.11 723.62,784.94 736.88,789.77"/>
</g>
<g fill="#2ca444">
<circle cx="630.80" cy="793.60" r="2.9"/>
<circle cx="644.06" cy="789.77" r="2.9"/>
<circle cx="657.32" cy="786.61" r="2.9"/>
<circle cx="670.58" cy="782.44" r="2.9"/>
<circle cx="683.84" cy="777.78" r="2.9"/>
<circle cx="697.10" cy="777.62" r="2.9"/>
<circle cx="710.36" cy="781.11" r="2.9"/>
<circle cx="723.62" cy="784.94" r="2.9"/>
<circle cx="736.88" cy="789.77" r="2.9"/>
</g>
<g stroke="#0c71b9" stroke-width="1.0" fill="none">
<polyline points="630.80,793.60 644.06,789.77 657.32,786.61 670.58,782.44 683.84,778.45 697.10,767.29 710.36,752.14 723.62,732.99 736.88,711.18"/>
<path d="M723.62,732.99 V726.67 M721.02,726.67 h5.2"/>
</g>
<g fill="#0c71b9">
<circle cx="630.80" cy="793.60" r="2.9"/>
<circle cx="644.06" cy="789.77" r="2.9"/>
<circle cx="657.32" cy="786.61" r="2.9"/>
<circle cx="670.58" cy="782.44" r="2.9"/>
<circle cx="683.84" cy="778.45" r="2.9"/>
<circle cx="697.10" cy="767.29" r="2.9"/>
<circle cx="710.36" cy="752.14" r="2.9"/>
<circle cx="723.62" cy="732.99" r="2.9"/>
<circle cx="736.88" cy="711.18" r="2.9"/>
</g>
<g stroke="#757575" stroke-width="1.0" fill="none">
<polyline points="630.80,793.60 644.06,789.77 657.32,786.61 670.58,782.44 683.84,775.95 697.10,768.96 710.36,756.14 723.62,736.82 736.88,706.35"/>
<path d="M736.88,706.35 V697.70 M734.28,697.70 h5.2"/>
</g>
<g fill="#757575">
<circle cx="630.80" cy="793.60" r="2.9"/>
<circle cx="644.06" cy="789.77" r="2.9"/>
<circle cx="657.32" cy="786.61" r="2.9"/>
<circle cx="670.58" cy="782.44" r="2.9"/>
<circle cx="683.84" cy="775.95" r="2.9"/>
<circle cx="697.10" cy="768.96" r="2.9"/>
<circle cx="710.36" cy="756.14" r="2.9"/>
<circle cx="723.62" cy="736.82" r="2.9"/>
<circle cx="736.88" cy="706.35" r="2.9"/>
</g>
<text x="635.00" y="657.80" font-size="10.55" stroke="#111111" stroke-width="0.22">Adoptive cell therapy</text>
<line x1="635.00" y1="659.50" x2="733.00" y2="659.50" stroke="#111111" stroke-width="0.8" />
<line x1="770.70" y1="653.30" x2="784.90" y2="653.30" stroke="#757575" stroke-width="0.9" />
<circle cx="777.80" cy="653.30" r="2.85" fill="#757575" />
<text x="789.70" y="655.90" font-size="8.9" stroke="#111111" stroke-width="0.22">WT B</text>
<line x1="770.70" y1="671.60" x2="784.90" y2="671.60" stroke="#0c71b9" stroke-width="0.9" />
<circle cx="777.80" cy="671.60" r="2.85" fill="#0c71b9" />
<text x="789.70" y="674.20" font-size="8.9" stroke="#111111" stroke-width="0.22">IPA B</text>
<line x1="770.70" y1="690.30" x2="784.90" y2="690.30" stroke="#f8921a" stroke-width="0.9" />
<circle cx="777.80" cy="690.30" r="2.85" fill="#f8921a" />
<text x="789.70" y="692.90" font-size="8.9" stroke="#111111" stroke-width="0.22">WT T</text>
<line x1="770.70" y1="708.60" x2="784.90" y2="708.60" stroke="#2ca444" stroke-width="0.9" />
<circle cx="777.80" cy="708.60" r="2.85" fill="#2ca444" />
<text x="789.70" y="711.20" font-size="8.9" stroke="#111111" stroke-width="0.22">IPA T</text>
<line x1="770.70" y1="727.20" x2="784.90" y2="727.20" stroke="#c8591c" stroke-width="0.9" />
<circle cx="777.80" cy="727.20" r="2.85" fill="#c8591c" />
<text x="789.70" y="729.80" font-size="8.9" stroke="#111111" stroke-width="0.22">IPA B+T</text>
<line x1="817.30" y1="651.10" x2="817.30" y2="672.00" stroke="#555" stroke-width="0.8" />
<text x="820.40" y="661.55" font-size="9" text-anchor="middle" transform="rotate(90 820.40 661.55)" stroke="#111111" stroke-width="0.22">ns</text>
<line x1="817.30" y1="689.30" x2="817.30" y2="708.60" stroke="#555" stroke-width="0.8" />
<text x="815.42" y="699.55" font-size="11.5" text-anchor="middle" fill="#000" font-weight="bold" transform="rotate(90 815.42 699.55)" stroke="#000" stroke-width="0.45" letter-spacing="1.0">*</text>
<line x1="828.50" y1="708.60" x2="828.50" y2="727.20" stroke="#555" stroke-width="0.8" />
<text x="831.60" y="717.90" font-size="9" text-anchor="middle" transform="rotate(90 831.60 717.90)" stroke="#111111" stroke-width="0.22">ns</text>
<text x="2.30" y="630.20" font-size="16" fill="#000" font-weight="bold">K</text>
<text x="116.60" y="635.20" font-size="8.9" text-anchor="middle" stroke="#111111" stroke-width="0.22">Mc38 cells</text>
<text x="116.60" y="645.50" font-size="8.9" text-anchor="middle" stroke="#111111" stroke-width="0.22">injection</text>
<text x="276.00" y="635.20" font-size="8.9" text-anchor="middle" stroke="#111111" stroke-width="0.22">Bead sorting</text>
<text x="275.80" y="645.60" font-size="8.9" text-anchor="middle" stroke="#111111" stroke-width="0.22">of B/CD8<tspan dy="-3" font-size="5.5">+</tspan><tspan dy="3">T cells</tspan></text>
<text x="28.40" y="656.60" font-size="8.9" stroke="#111111" stroke-width="0.22">Donor mice</text>
<text x="175.80" y="657.60" font-size="7.2" text-anchor="middle" stroke="#111111" stroke-width="0.22">αPD-1</text>
<text x="212.70" y="657.60" font-size="7.2" text-anchor="middle" stroke="#111111" stroke-width="0.22">αPD-1</text>
<text x="249.50" y="657.60" font-size="7.2" text-anchor="middle" stroke="#111111" stroke-width="0.22">αPD-1</text>
<line x1="113.90" y1="650.40" x2="113.90" y2="653.70" stroke="#222" stroke-width="0.7" />
<path d="M113.90,655.40 L112.50,653.40 H115.30 Z" fill="#222"/>
<line x1="275.70" y1="650.40" x2="275.70" y2="653.70" stroke="#222" stroke-width="0.7" />
<path d="M275.70,655.40 L274.30,653.40 H277.10 Z" fill="#222"/>
<text x="69.60" y="674.30" font-size="8.9" text-anchor="end" stroke="#111111" stroke-width="0.22">αPD-1</text>
<g transform="translate(73.00,660.00)">
<path d="M6.8,12.3 C7.6,10.4 9.0,8.6 10.3,7.4 C9.9,5.6 9.9,3.6 10.4,2.3 C11.4,3.2 12.3,4.4 12.9,5.6 C13.6,5.3 14.4,5.1 15.2,5.1 C15.5,3.4 16.1,1.6 16.9,0.8 C17.3,0.5 17.8,0.6 18.0,1.2 C18.4,2.2 18.6,3.4 18.6,4.5 C19.8,4.0 21.0,3.8 22.0,3.9 C23.2,4.0 24.2,4.5 24.9,5.1 C26.0,6.0 26.8,7.0 27.3,8.0 C28.2,9.4 29.0,10.6 29.6,11.8 C31.2,12.0 33.4,12.8 34.2,14.2 C34.4,15.0 33.6,15.6 32.8,15.5 C31.8,15.4 31.2,15.0 30.6,14.6 L30.5,15.4 C30.6,16.6 30.6,17.8 30.2,18.9 L27.6,19.3 C27.6,18.6 28.0,18.0 28.5,17.7 C27.4,17.9 26.2,18.0 24.9,18.0 C23.9,18.5 22.9,18.9 22.0,19.2 L21.6,21.2 L17.9,21.8 C18.2,21.0 18.9,20.5 19.7,20.3 L20.0,18.9 C18.4,18.9 16.8,18.8 15.1,18.6 L12.8,18.9 L11.7,20.4 L7.8,21.2 C7.7,20.6 7.8,20.2 8.2,20.0 L10.7,19.2 L11.4,17.2 C10.4,16.6 9.5,15.9 8.8,15.1 C8.0,14.8 7.4,14.3 7.1,13.7 C6.8,13.3 6.7,12.8 6.8,12.3 Z M30.9,13.0 C31.8,13.2 32.8,13.7 33.3,14.3 C32.6,14.4 31.6,13.9 30.8,13.5 Z" fill="#076ca5" fill-rule="evenodd"/>
<path d="M7.0,12.0 C5.6,10.2 3.4,8.6 0.6,8.0 M6.9,12.2 C5.0,9.6 3.6,7.6 1.8,6.4 M6.9,12.4 C5.2,11.0 3.0,10.0 0.2,9.6 M6.9,12.6 C5.4,11.6 4.0,11.2 2.4,11.2" stroke="#076ca5" stroke-width="0.4" fill="none" opacity="0.55"/>
</g>
<rect x="113.90" y="667.90" width="167.10" height="4.80" fill="#076ca5" />
<rect x="112.80" y="655.70" width="2.30" height="17.00" fill="#000" />
<rect x="274.60" y="655.70" width="2.30" height="17.00" fill="#000" />
<line x1="175.80" y1="662.30" x2="175.80" y2="665.60" stroke="#222" stroke-width="0.7" />
<path d="M175.80,667.30 L174.40,665.30 H177.20 Z" fill="#222"/>
<line x1="212.70" y1="662.30" x2="212.70" y2="665.60" stroke="#222" stroke-width="0.7" />
<path d="M212.70,667.30 L211.30,665.30 H214.10 Z" fill="#222"/>
<line x1="249.50" y1="662.30" x2="249.50" y2="665.60" stroke="#222" stroke-width="0.7" />
<path d="M249.50,667.30 L248.10,665.30 H250.90 Z" fill="#222"/>
<circle cx="291.70" cy="665.10" r="1.9" fill="#757575" />
<circle cx="298.90" cy="666.40" r="1.9" fill="#757575" />
<circle cx="305.00" cy="664.70" r="1.9" fill="#757575" />
<line x1="287.00" y1="670.10" x2="305.90" y2="670.10" stroke="#757575" stroke-width="0.8" />
<path d="M308.00,670.10 L305.00,668.70 V671.50 Z" fill="#757575"/>
<text x="314.60" y="672.00" font-size="8.9" stroke="#111111" stroke-width="0.22">WT B</text>
<text x="69.60" y="706.80" font-size="8.9" text-anchor="end" stroke="#111111" stroke-width="0.22">IPA+αPD-1</text>
<g transform="translate(73.00,692.50)">
<path d="M6.8,12.3 C7.6,10.4 9.0,8.6 10.3,7.4 C9.9,5.6 9.9,3.6 10.4,2.3 C11.4,3.2 12.3,4.4 12.9,5.6 C13.6,5.3 14.4,5.1 15.2,5.1 C15.5,3.4 16.1,1.6 16.9,0.8 C17.3,0.5 17.8,0.6 18.0,1.2 C18.4,2.2 18.6,3.4 18.6,4.5 C19.8,4.0 21.0,3.8 22.0,3.9 C23.2,4.0 24.2,4.5 24.9,5.1 C26.0,6.0 26.8,7.0 27.3,8.0 C28.2,9.4 29.0,10.6 29.6,11.8 C31.2,12.0 33.4,12.8 34.2,14.2 C34.4,15.0 33.6,15.6 32.8,15.5 C31.8,15.4 31.2,15.0 30.6,14.6 L30.5,15.4 C30.6,16.6 30.6,17.8 30.2,18.9 L27.6,19.3 C27.6,18.6 28.0,18.0 28.5,17.7 C27.4,17.9 26.2,18.0 24.9,18.0 C23.9,18.5 22.9,18.9 22.0,19.2 L21.6,21.2 L17.9,21.8 C18.2,21.0 18.9,20.5 19.7,20.3 L20.0,18.9 C18.4,18.9 16.8,18.8 15.1,18.6 L12.8,18.9 L11.7,20.4 L7.8,21.2 C7.7,20.6 7.8,20.2 8.2,20.0 L10.7,19.2 L11.4,17.2 C10.4,16.6 9.5,15.9 8.8,15.1 C8.0,14.8 7.4,14.3 7.1,13.7 C6.8,13.3 6.7,12.8 6.8,12.3 Z M30.9,13.0 C31.8,13.2 32.8,13.7 33.3,14.3 C32.6,14.4 31.6,13.9 30.8,13.5 Z" fill="#219b3d" fill-rule="evenodd"/>
<path d="M7.0,12.0 C5.6,10.2 3.4,8.6 0.6,8.0 M6.9,12.2 C5.0,9.6 3.6,7.6 1.8,6.4 M6.9,12.4 C5.2,11.0 3.0,10.0 0.2,9.6 M6.9,12.6 C5.4,11.6 4.0,11.2 2.4,11.2" stroke="#219b3d" stroke-width="0.4" fill="none" opacity="0.55"/>
</g>
<rect x="113.90" y="700.40" width="167.10" height="4.80" fill="#219b3d" />
<rect x="112.80" y="688.20" width="2.30" height="17.00" fill="#000" />
<rect x="274.60" y="688.20" width="2.30" height="17.00" fill="#000" />
<line x1="175.80" y1="694.80" x2="175.80" y2="698.10" stroke="#222" stroke-width="0.7" />
<path d="M175.80,699.80 L174.40,697.80 H177.20 Z" fill="#222"/>
<line x1="212.70" y1="694.80" x2="212.70" y2="698.10" stroke="#222" stroke-width="0.7" />
<path d="M212.70,699.80 L211.30,697.80 H214.10 Z" fill="#222"/>
<line x1="249.50" y1="694.80" x2="249.50" y2="698.10" stroke="#222" stroke-width="0.7" />
<path d="M249.50,699.80 L248.10,697.80 H250.90 Z" fill="#222"/>
<text x="196.60" y="692.80" font-size="7.25" text-anchor="middle" stroke="#111111" stroke-width="0.22">i.g. 60 mg/kg/day</text>
<line x1="138.60" y1="696.40" x2="118.98" y2="696.40" stroke="#222" stroke-width="0.9" />
<path d="M116.60,696.40 L120.00,694.80 V698.00 Z" fill="#222"/>
<line x1="252.80" y1="696.40" x2="271.42" y2="696.40" stroke="#222" stroke-width="0.9" />
<path d="M273.80,696.40 L270.40,694.80 V698.00 Z" fill="#222"/>
<circle cx="291.70" cy="697.60" r="1.9" fill="#076ca5" />
<circle cx="298.90" cy="698.90" r="1.9" fill="#076ca5" />
<circle cx="305.00" cy="697.20" r="1.9" fill="#076ca5" />
<line x1="287.00" y1="702.60" x2="305.90" y2="702.60" stroke="#076ca5" stroke-width="0.8" />
<path d="M308.00,702.60 L305.00,701.20 V704.00 Z" fill="#076ca5"/>
<text x="314.60" y="704.50" font-size="8.9" stroke="#111111" stroke-width="0.22">IPA B</text>
<text x="69.60" y="739.20" font-size="8.9" text-anchor="end" stroke="#111111" stroke-width="0.22">αPD-1</text>
<g transform="translate(73.00,724.90)">
<path d="M6.8,12.3 C7.6,10.4 9.0,8.6 10.3,7.4 C9.9,5.6 9.9,3.6 10.4,2.3 C11.4,3.2 12.3,4.4 12.9,5.6 C13.6,5.3 14.4,5.1 15.2,5.1 C15.5,3.4 16.1,1.6 16.9,0.8 C17.3,0.5 17.8,0.6 18.0,1.2 C18.4,2.2 18.6,3.4 18.6,4.5 C19.8,4.0 21.0,3.8 22.0,3.9 C23.2,4.0 24.2,4.5 24.9,5.1 C26.0,6.0 26.8,7.0 27.3,8.0 C28.2,9.4 29.0,10.6 29.6,11.8 C31.2,12.0 33.4,12.8 34.2,14.2 C34.4,15.0 33.6,15.6 32.8,15.5 C31.8,15.4 31.2,15.0 30.6,14.6 L30.5,15.4 C30.6,16.6 30.6,17.8 30.2,18.9 L27.6,19.3 C27.6,18.6 28.0,18.0 28.5,17.7 C27.4,17.9 26.2,18.0 24.9,18.0 C23.9,18.5 22.9,18.9 22.0,19.2 L21.6,21.2 L17.9,21.8 C18.2,21.0 18.9,20.5 19.7,20.3 L20.0,18.9 C18.4,18.9 16.8,18.8 15.1,18.6 L12.8,18.9 L11.7,20.4 L7.8,21.2 C7.7,20.6 7.8,20.2 8.2,20.0 L10.7,19.2 L11.4,17.2 C10.4,16.6 9.5,15.9 8.8,15.1 C8.0,14.8 7.4,14.3 7.1,13.7 C6.8,13.3 6.7,12.8 6.8,12.3 Z M30.9,13.0 C31.8,13.2 32.8,13.7 33.3,14.3 C32.6,14.4 31.6,13.9 30.8,13.5 Z" fill="#076ca5" fill-rule="evenodd"/>
<path d="M7.0,12.0 C5.6,10.2 3.4,8.6 0.6,8.0 M6.9,12.2 C5.0,9.6 3.6,7.6 1.8,6.4 M6.9,12.4 C5.2,11.0 3.0,10.0 0.2,9.6 M6.9,12.6 C5.4,11.6 4.0,11.2 2.4,11.2" stroke="#076ca5" stroke-width="0.4" fill="none" opacity="0.55"/>
</g>
<rect x="113.90" y="732.80" width="167.10" height="4.80" fill="#076ca5" />
<rect x="112.80" y="720.60" width="2.30" height="17.00" fill="#000" />
<rect x="274.60" y="720.60" width="2.30" height="17.00" fill="#000" />
<line x1="175.80" y1="727.20" x2="175.80" y2="730.50" stroke="#222" stroke-width="0.7" />
<path d="M175.80,732.20 L174.40,730.20 H177.20 Z" fill="#222"/>
<line x1="212.70" y1="727.20" x2="212.70" y2="730.50" stroke="#222" stroke-width="0.7" />
<path d="M212.70,732.20 L211.30,730.20 H214.10 Z" fill="#222"/>
<line x1="249.50" y1="727.20" x2="249.50" y2="730.50" stroke="#222" stroke-width="0.7" />
<path d="M249.50,732.20 L248.10,730.20 H250.90 Z" fill="#222"/>
<circle cx="291.70" cy="730.00" r="1.9" fill="#f8921a" />
<circle cx="298.90" cy="731.30" r="1.9" fill="#f8921a" />
<circle cx="305.00" cy="729.60" r="1.9" fill="#f8921a" />
<line x1="287.00" y1="735.00" x2="305.90" y2="735.00" stroke="#f8921a" stroke-width="0.8" />
<path d="M308.00,735.00 L305.00,733.60 V736.40 Z" fill="#f8921a"/>
<text x="314.60" y="736.90" font-size="8.9" stroke="#111111" stroke-width="0.22">WT T</text>
<text x="69.60" y="771.30" font-size="8.9" text-anchor="end" stroke="#111111" stroke-width="0.22">IPA+αPD-1</text>
<g transform="translate(73.00,757.00)">
<path d="M6.8,12.3 C7.6,10.4 9.0,8.6 10.3,7.4 C9.9,5.6 9.9,3.6 10.4,2.3 C11.4,3.2 12.3,4.4 12.9,5.6 C13.6,5.3 14.4,5.1 15.2,5.1 C15.5,3.4 16.1,1.6 16.9,0.8 C17.3,0.5 17.8,0.6 18.0,1.2 C18.4,2.2 18.6,3.4 18.6,4.5 C19.8,4.0 21.0,3.8 22.0,3.9 C23.2,4.0 24.2,4.5 24.9,5.1 C26.0,6.0 26.8,7.0 27.3,8.0 C28.2,9.4 29.0,10.6 29.6,11.8 C31.2,12.0 33.4,12.8 34.2,14.2 C34.4,15.0 33.6,15.6 32.8,15.5 C31.8,15.4 31.2,15.0 30.6,14.6 L30.5,15.4 C30.6,16.6 30.6,17.8 30.2,18.9 L27.6,19.3 C27.6,18.6 28.0,18.0 28.5,17.7 C27.4,17.9 26.2,18.0 24.9,18.0 C23.9,18.5 22.9,18.9 22.0,19.2 L21.6,21.2 L17.9,21.8 C18.2,21.0 18.9,20.5 19.7,20.3 L20.0,18.9 C18.4,18.9 16.8,18.8 15.1,18.6 L12.8,18.9 L11.7,20.4 L7.8,21.2 C7.7,20.6 7.8,20.2 8.2,20.0 L10.7,19.2 L11.4,17.2 C10.4,16.6 9.5,15.9 8.8,15.1 C8.0,14.8 7.4,14.3 7.1,13.7 C6.8,13.3 6.7,12.8 6.8,12.3 Z M30.9,13.0 C31.8,13.2 32.8,13.7 33.3,14.3 C32.6,14.4 31.6,13.9 30.8,13.5 Z" fill="#219b3d" fill-rule="evenodd"/>
<path d="M7.0,12.0 C5.6,10.2 3.4,8.6 0.6,8.0 M6.9,12.2 C5.0,9.6 3.6,7.6 1.8,6.4 M6.9,12.4 C5.2,11.0 3.0,10.0 0.2,9.6 M6.9,12.6 C5.4,11.6 4.0,11.2 2.4,11.2" stroke="#219b3d" stroke-width="0.4" fill="none" opacity="0.55"/>
</g>
<rect x="113.90" y="764.90" width="167.10" height="4.80" fill="#219b3d" />
<rect x="112.80" y="752.70" width="2.30" height="17.00" fill="#000" />
<rect x="274.60" y="752.70" width="2.30" height="17.00" fill="#000" />
<line x1="175.80" y1="759.30" x2="175.80" y2="762.60" stroke="#222" stroke-width="0.7" />
<path d="M175.80,764.30 L174.40,762.30 H177.20 Z" fill="#222"/>
<line x1="212.70" y1="759.30" x2="212.70" y2="762.60" stroke="#222" stroke-width="0.7" />
<path d="M212.70,764.30 L211.30,762.30 H214.10 Z" fill="#222"/>
<line x1="249.50" y1="759.30" x2="249.50" y2="762.60" stroke="#222" stroke-width="0.7" />
<path d="M249.50,764.30 L248.10,762.30 H250.90 Z" fill="#222"/>
<text x="196.60" y="757.30" font-size="7.25" text-anchor="middle" stroke="#111111" stroke-width="0.22">i.g. 60 mg/kg/day</text>
<line x1="138.60" y1="760.90" x2="118.98" y2="760.90" stroke="#222" stroke-width="0.9" />
<path d="M116.60,760.90 L120.00,759.30 V762.50 Z" fill="#222"/>
<line x1="252.80" y1="760.90" x2="271.42" y2="760.90" stroke="#222" stroke-width="0.9" />
<path d="M273.80,760.90 L270.40,759.30 V762.50 Z" fill="#222"/>
<circle cx="291.70" cy="762.10" r="1.9" fill="#219b3d" />
<circle cx="298.90" cy="763.40" r="1.9" fill="#219b3d" />
<circle cx="305.00" cy="761.70" r="1.9" fill="#219b3d" />
<line x1="287.00" y1="767.10" x2="305.90" y2="767.10" stroke="#219b3d" stroke-width="0.8" />
<path d="M308.00,767.10 L305.00,765.70 V768.50 Z" fill="#219b3d"/>
<text x="314.60" y="769.00" font-size="8.9" stroke="#111111" stroke-width="0.22">IPA T</text>
<text x="69.60" y="803.30" font-size="8.9" text-anchor="end" stroke="#111111" stroke-width="0.22">IPA+αPD-1</text>
<g transform="translate(73.00,789.00)">
<path d="M6.8,12.3 C7.6,10.4 9.0,8.6 10.3,7.4 C9.9,5.6 9.9,3.6 10.4,2.3 C11.4,3.2 12.3,4.4 12.9,5.6 C13.6,5.3 14.4,5.1 15.2,5.1 C15.5,3.4 16.1,1.6 16.9,0.8 C17.3,0.5 17.8,0.6 18.0,1.2 C18.4,2.2 18.6,3.4 18.6,4.5 C19.8,4.0 21.0,3.8 22.0,3.9 C23.2,4.0 24.2,4.5 24.9,5.1 C26.0,6.0 26.8,7.0 27.3,8.0 C28.2,9.4 29.0,10.6 29.6,11.8 C31.2,12.0 33.4,12.8 34.2,14.2 C34.4,15.0 33.6,15.6 32.8,15.5 C31.8,15.4 31.2,15.0 30.6,14.6 L30.5,15.4 C30.6,16.6 30.6,17.8 30.2,18.9 L27.6,19.3 C27.6,18.6 28.0,18.0 28.5,17.7 C27.4,17.9 26.2,18.0 24.9,18.0 C23.9,18.5 22.9,18.9 22.0,19.2 L21.6,21.2 L17.9,21.8 C18.2,21.0 18.9,20.5 19.7,20.3 L20.0,18.9 C18.4,18.9 16.8,18.8 15.1,18.6 L12.8,18.9 L11.7,20.4 L7.8,21.2 C7.7,20.6 7.8,20.2 8.2,20.0 L10.7,19.2 L11.4,17.2 C10.4,16.6 9.5,15.9 8.8,15.1 C8.0,14.8 7.4,14.3 7.1,13.7 C6.8,13.3 6.7,12.8 6.8,12.3 Z M30.9,13.0 C31.8,13.2 32.8,13.7 33.3,14.3 C32.6,14.4 31.6,13.9 30.8,13.5 Z" fill="#219b3d" fill-rule="evenodd"/>
<path d="M7.0,12.0 C5.6,10.2 3.4,8.6 0.6,8.0 M6.9,12.2 C5.0,9.6 3.6,7.6 1.8,6.4 M6.9,12.4 C5.2,11.0 3.0,10.0 0.2,9.6 M6.9,12.6 C5.4,11.6 4.0,11.2 2.4,11.2" stroke="#219b3d" stroke-width="0.4" fill="none" opacity="0.55"/>
</g>
<rect x="113.90" y="796.90" width="167.10" height="4.80" fill="#219b3d" />
<rect x="112.80" y="784.70" width="2.30" height="17.00" fill="#000" />
<rect x="274.60" y="784.70" width="2.30" height="17.00" fill="#000" />
<line x1="175.80" y1="791.30" x2="175.80" y2="794.60" stroke="#222" stroke-width="0.7" />
<path d="M175.80,796.30 L174.40,794.30 H177.20 Z" fill="#222"/>
<line x1="212.70" y1="791.30" x2="212.70" y2="794.60" stroke="#222" stroke-width="0.7" />
<path d="M212.70,796.30 L211.30,794.30 H214.10 Z" fill="#222"/>
<line x1="249.50" y1="791.30" x2="249.50" y2="794.60" stroke="#222" stroke-width="0.7" />
<path d="M249.50,796.30 L248.10,794.30 H250.90 Z" fill="#222"/>
<text x="196.60" y="789.30" font-size="7.25" text-anchor="middle" stroke="#111111" stroke-width="0.22">i.g. 60 mg/kg/day</text>
<line x1="138.60" y1="792.90" x2="118.98" y2="792.90" stroke="#222" stroke-width="0.9" />
<path d="M116.60,792.90 L120.00,791.30 V794.50 Z" fill="#222"/>
<line x1="252.80" y1="792.90" x2="271.42" y2="792.90" stroke="#222" stroke-width="0.9" />
<path d="M273.80,792.90 L270.40,791.30 V794.50 Z" fill="#222"/>
<circle cx="291.70" cy="794.10" r="1.9" fill="#c8591c" />
<circle cx="298.90" cy="795.40" r="1.9" fill="#c8591c" />
<circle cx="305.00" cy="793.70" r="1.9" fill="#c8591c" />
<line x1="287.00" y1="799.10" x2="305.90" y2="799.10" stroke="#c8591c" stroke-width="0.8" />
<path d="M308.00,799.10 L305.00,797.70 V800.50 Z" fill="#c8591c"/>
<text x="314.60" y="801.00" font-size="8.9" stroke="#111111" stroke-width="0.22">IPA B+T</text>
<text x="113.90" y="811.70" font-size="8.2" text-anchor="middle" stroke="#111111" stroke-width="0.22">0</text>
<text x="177.40" y="811.70" font-size="8.2" text-anchor="middle" stroke="#111111" stroke-width="0.22">8</text>
<text x="213.00" y="811.70" font-size="8.2" text-anchor="middle" stroke="#111111" stroke-width="0.22">11</text>
<text x="249.30" y="811.70" font-size="8.2" text-anchor="middle" stroke="#111111" stroke-width="0.22">14</text>
<text x="275.60" y="811.70" font-size="8.2" text-anchor="middle" stroke="#111111" stroke-width="0.22">16</text>
<text x="403.80" y="635.60" font-size="8.9" text-anchor="middle" stroke="#111111" stroke-width="0.22">Mc38 cells</text>
<text x="403.80" y="645.50" font-size="8.9" text-anchor="middle" stroke="#111111" stroke-width="0.22">injection</text>
<text x="563.90" y="645.50" font-size="8.9" text-anchor="middle" stroke="#111111" stroke-width="0.22">Sacrifice</text>
<text x="343.20" y="656.20" font-size="9.05" stroke="#111111" stroke-width="0.22"><tspan font-style="italic">Rag1</tspan><tspan dy="-3" font-size="5.8" font-style="italic">-/-</tspan><tspan dy="3"> mice</tspan></text>
<text x="463.40" y="660.20" font-size="7.2" text-anchor="middle" stroke="#111111" stroke-width="0.22">αPD-1</text>
<text x="499.60" y="660.20" font-size="7.2" text-anchor="middle" stroke="#111111" stroke-width="0.22">αPD-1</text>
<text x="535.90" y="660.20" font-size="7.2" text-anchor="middle" stroke="#111111" stroke-width="0.22">αPD-1</text>
<line x1="402.30" y1="650.40" x2="402.30" y2="653.70" stroke="#222" stroke-width="0.7" />
<path d="M402.30,655.40 L400.90,653.40 H403.70 Z" fill="#222"/>
<line x1="563.90" y1="650.40" x2="563.90" y2="653.70" stroke="#222" stroke-width="0.7" />
<path d="M563.90,655.40 L562.50,653.40 H565.30 Z" fill="#222"/>
<g transform="translate(355.60,658.60)">
<path d="M1.6,18.7 C1.0,18.0 1.0,17.4 1.4,17.0 C2.2,16.4 3.2,16.2 3.9,16.1 C4.0,14.8 4.2,13.6 4.5,12.4 C5.0,9.6 5.8,7.0 6.8,4.9 C7.9,2.8 9.5,1.3 11.4,0.6 C12.2,0.2 13.0,0.0 13.7,0.0 C15.6,0.2 17.4,1.2 18.6,2.6 C19.2,3.3 19.7,4.1 20.0,4.9 C21.0,3.9 22.2,2.9 23.2,2.3 C23.5,4.0 23.5,5.8 23.2,7.5 C23.8,9.2 24.2,10.8 24.6,12.4 C25.3,14.2 25.9,16.1 26.3,17.9 C25.8,18.3 25.2,18.4 24.6,18.3 C23.5,17.8 22.4,17.5 21.2,17.3 C19.8,17.1 18.4,17.1 17.1,17.1 C16.6,18.1 16.0,19.1 15.4,19.9 C14.4,20.3 13.3,20.3 12.3,20.2 C12.0,19.5 12.0,18.9 12.3,18.3 C11.0,17.8 9.8,17.5 8.5,17.3 C7.6,17.4 6.7,17.6 5.9,17.9 C5.2,18.8 4.4,19.6 3.6,20.2 C2.8,20.4 2.0,20.1 1.6,19.6 Z" fill="#3d3d3d"/>
<path d="M24.9,14.8 L29.4,13.2 M25.0,15.2 L29.6,15.4 M18.4,18.0 L17.6,21.2 M4.4,13.6 L1.6,13.6" stroke="#3d3d3d" stroke-width="0.45" fill="none" opacity="0.35"/>
</g>
<path d="M402.3,668.10 H567.0 V664.80 L578.0,670.45 L567.0,676.10 V672.80 H402.3 Z" fill="#757575"/>
<rect x="401.20" y="656.40" width="2.20" height="16.40" fill="#000" />
<rect x="562.80" y="656.40" width="2.20" height="16.40" fill="#000" />
<line x1="466.50" y1="660.80" x2="466.50" y2="663.50" stroke="#222" stroke-width="0.7" />
<path d="M466.50,665.20 L465.10,663.20 H467.90 Z" fill="#222"/>
<line x1="502.70" y1="660.80" x2="502.70" y2="663.50" stroke="#222" stroke-width="0.7" />
<path d="M502.70,665.20 L501.30,663.20 H504.10 Z" fill="#222"/>
<line x1="539.00" y1="660.80" x2="539.00" y2="663.50" stroke="#222" stroke-width="0.7" />
<path d="M539.00,665.20 L537.60,663.20 H540.40 Z" fill="#222"/>
<g transform="translate(355.60,691.40)">
<path d="M1.6,18.7 C1.0,18.0 1.0,17.4 1.4,17.0 C2.2,16.4 3.2,16.2 3.9,16.1 C4.0,14.8 4.2,13.6 4.5,12.4 C5.0,9.6 5.8,7.0 6.8,4.9 C7.9,2.8 9.5,1.3 11.4,0.6 C12.2,0.2 13.0,0.0 13.7,0.0 C15.6,0.2 17.4,1.2 18.6,2.6 C19.2,3.3 19.7,4.1 20.0,4.9 C21.0,3.9 22.2,2.9 23.2,2.3 C23.5,4.0 23.5,5.8 23.2,7.5 C23.8,9.2 24.2,10.8 24.6,12.4 C25.3,14.2 25.9,16.1 26.3,17.9 C25.8,18.3 25.2,18.4 24.6,18.3 C23.5,17.8 22.4,17.5 21.2,17.3 C19.8,17.1 18.4,17.1 17.1,17.1 C16.6,18.1 16.0,19.1 15.4,19.9 C14.4,20.3 13.3,20.3 12.3,20.2 C12.0,19.5 12.0,18.9 12.3,18.3 C11.0,17.8 9.8,17.5 8.5,17.3 C7.6,17.4 6.7,17.6 5.9,17.9 C5.2,18.8 4.4,19.6 3.6,20.2 C2.8,20.4 2.0,20.1 1.6,19.6 Z" fill="#3d3d3d"/>
<path d="M24.9,14.8 L29.4,13.2 M25.0,15.2 L29.6,15.4 M18.4,18.0 L17.6,21.2 M4.4,13.6 L1.6,13.6" stroke="#3d3d3d" stroke-width="0.45" fill="none" opacity="0.35"/>
</g>
<path d="M402.3,700.90 H567.0 V697.60 L578.0,703.25 L567.0,708.90 V705.60 H402.3 Z" fill="#076ca5"/>
<rect x="401.20" y="689.20" width="2.20" height="16.40" fill="#000" />
<rect x="562.80" y="689.20" width="2.20" height="16.40" fill="#000" />
<line x1="466.50" y1="693.60" x2="466.50" y2="696.30" stroke="#222" stroke-width="0.7" />
<path d="M466.50,698.00 L465.10,696.00 H467.90 Z" fill="#222"/>
<line x1="502.70" y1="693.60" x2="502.70" y2="696.30" stroke="#222" stroke-width="0.7" />
<path d="M502.70,698.00 L501.30,696.00 H504.10 Z" fill="#222"/>
<line x1="539.00" y1="693.60" x2="539.00" y2="696.30" stroke="#222" stroke-width="0.7" />
<path d="M539.00,698.00 L537.60,696.00 H540.40 Z" fill="#222"/>
<g transform="translate(355.60,723.20)">
<path d="M1.6,18.7 C1.0,18.0 1.0,17.4 1.4,17.0 C2.2,16.4 3.2,16.2 3.9,16.1 C4.0,14.8 4.2,13.6 4.5,12.4 C5.0,9.6 5.8,7.0 6.8,4.9 C7.9,2.8 9.5,1.3 11.4,0.6 C12.2,0.2 13.0,0.0 13.7,0.0 C15.6,0.2 17.4,1.2 18.6,2.6 C19.2,3.3 19.7,4.1 20.0,4.9 C21.0,3.9 22.2,2.9 23.2,2.3 C23.5,4.0 23.5,5.8 23.2,7.5 C23.8,9.2 24.2,10.8 24.6,12.4 C25.3,14.2 25.9,16.1 26.3,17.9 C25.8,18.3 25.2,18.4 24.6,18.3 C23.5,17.8 22.4,17.5 21.2,17.3 C19.8,17.1 18.4,17.1 17.1,17.1 C16.6,18.1 16.0,19.1 15.4,19.9 C14.4,20.3 13.3,20.3 12.3,20.2 C12.0,19.5 12.0,18.9 12.3,18.3 C11.0,17.8 9.8,17.5 8.5,17.3 C7.6,17.4 6.7,17.6 5.9,17.9 C5.2,18.8 4.4,19.6 3.6,20.2 C2.8,20.4 2.0,20.1 1.6,19.6 Z" fill="#3d3d3d"/>
<path d="M24.9,14.8 L29.4,13.2 M25.0,15.2 L29.6,15.4 M18.4,18.0 L17.6,21.2 M4.4,13.6 L1.6,13.6" stroke="#3d3d3d" stroke-width="0.45" fill="none" opacity="0.35"/>
</g>
<path d="M402.3,732.70 H567.0 V729.40 L578.0,735.05 L567.0,740.70 V737.40 H402.3 Z" fill="#f8921a"/>
<rect x="401.20" y="721.00" width="2.20" height="16.40" fill="#000" />
<rect x="562.80" y="721.00" width="2.20" height="16.40" fill="#000" />
<line x1="466.50" y1="725.40" x2="466.50" y2="728.10" stroke="#222" stroke-width="0.7" />
<path d="M466.50,729.80 L465.10,727.80 H467.90 Z" fill="#222"/>
<line x1="502.70" y1="725.40" x2="502.70" y2="728.10" stroke="#222" stroke-width="0.7" />
<path d="M502.70,729.80 L501.30,727.80 H504.10 Z" fill="#222"/>
<line x1="539.00" y1="725.40" x2="539.00" y2="728.10" stroke="#222" stroke-width="0.7" />
<path d="M539.00,729.80 L537.60,727.80 H540.40 Z" fill="#222"/>
<g transform="translate(355.60,756.00)">
<path d="M1.6,18.7 C1.0,18.0 1.0,17.4 1.4,17.0 C2.2,16.4 3.2,16.2 3.9,16.1 C4.0,14.8 4.2,13.6 4.5,12.4 C5.0,9.6 5.8,7.0 6.8,4.9 C7.9,2.8 9.5,1.3 11.4,0.6 C12.2,0.2 13.0,0.0 13.7,0.0 C15.6,0.2 17.4,1.2 18.6,2.6 C19.2,3.3 19.7,4.1 20.0,4.9 C21.0,3.9 22.2,2.9 23.2,2.3 C23.5,4.0 23.5,5.8 23.2,7.5 C23.8,9.2 24.2,10.8 24.6,12.4 C25.3,14.2 25.9,16.1 26.3,17.9 C25.8,18.3 25.2,18.4 24.6,18.3 C23.5,17.8 22.4,17.5 21.2,17.3 C19.8,17.1 18.4,17.1 17.1,17.1 C16.6,18.1 16.0,19.1 15.4,19.9 C14.4,20.3 13.3,20.3 12.3,20.2 C12.0,19.5 12.0,18.9 12.3,18.3 C11.0,17.8 9.8,17.5 8.5,17.3 C7.6,17.4 6.7,17.6 5.9,17.9 C5.2,18.8 4.4,19.6 3.6,20.2 C2.8,20.4 2.0,20.1 1.6,19.6 Z" fill="#3d3d3d"/>
<path d="M24.9,14.8 L29.4,13.2 M25.0,15.2 L29.6,15.4 M18.4,18.0 L17.6,21.2 M4.4,13.6 L1.6,13.6" stroke="#3d3d3d" stroke-width="0.45" fill="none" opacity="0.35"/>
</g>
<path d="M402.3,765.50 H567.0 V762.20 L578.0,767.85 L567.0,773.50 V770.20 H402.3 Z" fill="#219b3d"/>
<rect x="401.20" y="753.80" width="2.20" height="16.40" fill="#000" />
<rect x="562.80" y="753.80" width="2.20" height="16.40" fill="#000" />
<line x1="466.50" y1="758.20" x2="466.50" y2="760.90" stroke="#222" stroke-width="0.7" />
<path d="M466.50,762.60 L465.10,760.60 H467.90 Z" fill="#222"/>
<line x1="502.70" y1="758.20" x2="502.70" y2="760.90" stroke="#222" stroke-width="0.7" />
<path d="M502.70,762.60 L501.30,760.60 H504.10 Z" fill="#222"/>
<line x1="539.00" y1="758.20" x2="539.00" y2="760.90" stroke="#222" stroke-width="0.7" />
<path d="M539.00,762.60 L537.60,760.60 H540.40 Z" fill="#222"/>
<g transform="translate(355.60,788.00)">
<path d="M1.6,18.7 C1.0,18.0 1.0,17.4 1.4,17.0 C2.2,16.4 3.2,16.2 3.9,16.1 C4.0,14.8 4.2,13.6 4.5,12.4 C5.0,9.6 5.8,7.0 6.8,4.9 C7.9,2.8 9.5,1.3 11.4,0.6 C12.2,0.2 13.0,0.0 13.7,0.0 C15.6,0.2 17.4,1.2 18.6,2.6 C19.2,3.3 19.7,4.1 20.0,4.9 C21.0,3.9 22.2,2.9 23.2,2.3 C23.5,4.0 23.5,5.8 23.2,7.5 C23.8,9.2 24.2,10.8 24.6,12.4 C25.3,14.2 25.9,16.1 26.3,17.9 C25.8,18.3 25.2,18.4 24.6,18.3 C23.5,17.8 22.4,17.5 21.2,17.3 C19.8,17.1 18.4,17.1 17.1,17.1 C16.6,18.1 16.0,19.1 15.4,19.9 C14.4,20.3 13.3,20.3 12.3,20.2 C12.0,19.5 12.0,18.9 12.3,18.3 C11.0,17.8 9.8,17.5 8.5,17.3 C7.6,17.4 6.7,17.6 5.9,17.9 C5.2,18.8 4.4,19.6 3.6,20.2 C2.8,20.4 2.0,20.1 1.6,19.6 Z" fill="#3d3d3d"/>
<path d="M24.9,14.8 L29.4,13.2 M25.0,15.2 L29.6,15.4 M18.4,18.0 L17.6,21.2 M4.4,13.6 L1.6,13.6" stroke="#3d3d3d" stroke-width="0.45" fill="none" opacity="0.35"/>
</g>
<path d="M402.3,797.50 H567.0 V794.20 L578.0,799.85 L567.0,805.50 V802.20 H402.3 Z" fill="#c8591c"/>
<rect x="401.20" y="785.80" width="2.20" height="16.40" fill="#000" />
<rect x="562.80" y="785.80" width="2.20" height="16.40" fill="#000" />
<line x1="466.50" y1="790.20" x2="466.50" y2="792.90" stroke="#222" stroke-width="0.7" />
<path d="M466.50,794.60 L465.10,792.60 H467.90 Z" fill="#222"/>
<line x1="502.70" y1="790.20" x2="502.70" y2="792.90" stroke="#222" stroke-width="0.7" />
<path d="M502.70,794.60 L501.30,792.60 H504.10 Z" fill="#222"/>
<line x1="539.00" y1="790.20" x2="539.00" y2="792.90" stroke="#222" stroke-width="0.7" />
<path d="M539.00,794.60 L537.60,792.60 H540.40 Z" fill="#222"/>
<text x="403.40" y="812.60" font-size="8.2" text-anchor="middle" stroke="#111111" stroke-width="0.22">17</text>
<text x="463.40" y="812.60" font-size="8.2" text-anchor="middle" stroke="#111111" stroke-width="0.22">25</text>
<text x="499.60" y="812.60" font-size="8.2" text-anchor="middle" stroke="#111111" stroke-width="0.22">28</text>
<text x="535.90" y="812.60" font-size="8.2" text-anchor="middle" stroke="#111111" stroke-width="0.22">31</text>
<text x="564.00" y="812.60" font-size="8.2" text-anchor="middle" stroke="#111111" stroke-width="0.22">33</text>
</svg>
</body></html>
